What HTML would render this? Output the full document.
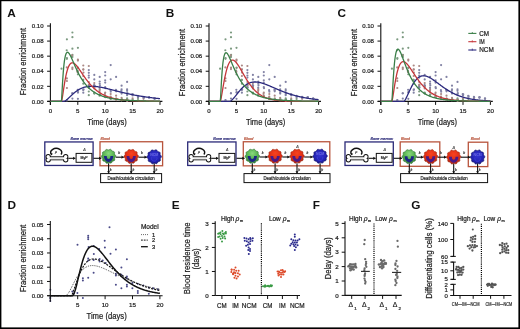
<!DOCTYPE html>
<html><head><meta charset="utf-8"><style>html,body{margin:0;padding:0;background:#fff;}svg{display:block;will-change:transform;}text{font-family:"Liberation Sans",sans-serif;}</style></head><body>
<svg xmlns="http://www.w3.org/2000/svg" width="520" height="329" viewBox="0 0 520 329">
<rect width="520" height="329" fill="#fff"/>
<defs>
<radialGradient id="gG" cx="0.5" cy="0.3" r="0.75"><stop offset="0" stop-color="#8ad87e"/><stop offset="0.55" stop-color="#52b04c"/><stop offset="1" stop-color="#2c7432"/></radialGradient>
<radialGradient id="gR" cx="0.5" cy="0.3" r="0.75"><stop offset="0" stop-color="#f8421e"/><stop offset="0.6" stop-color="#dc2c14"/><stop offset="1" stop-color="#9e2212"/></radialGradient>
<radialGradient id="gB" cx="0.5" cy="0.4" r="0.7"><stop offset="0" stop-color="#3434d4"/><stop offset="0.65" stop-color="#2222b0"/><stop offset="1" stop-color="#12126e"/></radialGradient>
</defs>
<rect x="0" y="0" width="520" height="1.2" fill="#000"/>
<rect x="0" y="0" width="1.4" height="329" fill="#000"/>
<rect x="518.4" y="0" width="1.6" height="329" fill="#000"/>
<rect x="0" y="327.4" width="520" height="1.6" fill="#000"/>
<text x="7.30" y="17.00" font-size="11.8" font-weight="bold" fill="#111">A</text>
<text x="165.80" y="17.00" font-size="11.8" font-weight="bold" fill="#111">B</text>
<text x="337.60" y="17.00" font-size="11.8" font-weight="bold" fill="#111">C</text>
<text x="7.40" y="208.60" font-size="11.8" font-weight="bold" fill="#111">D</text>
<text x="171.80" y="208.70" font-size="11.8" font-weight="bold" fill="#111">E</text>
<text x="312.80" y="208.70" font-size="11.8" font-weight="bold" fill="#111">F</text>
<text x="411.20" y="208.70" font-size="11.8" font-weight="bold" fill="#111">G</text>
<text transform="translate(26.20,61.65) rotate(-90)" x="0" y="0" font-size="8.8" stroke="#1e1e1e" stroke-width="0.22" text-anchor="middle" textLength="67.3" lengthAdjust="spacingAndGlyphs" fill="#1e1e1e">Fraction enrichment</text>
<line x1="47.10" y1="101.40" x2="50.40" y2="101.40" stroke="#111" stroke-width="1.0"/>
<text x="43.60" y="103.60" font-size="6.2" stroke="#1e1e1e" stroke-width="0.22" text-anchor="end" textLength="11.8" lengthAdjust="spacingAndGlyphs" fill="#1e1e1e">0.00</text>
<line x1="47.10" y1="86.32" x2="50.40" y2="86.32" stroke="#111" stroke-width="1.0"/>
<text x="43.60" y="88.52" font-size="6.2" stroke="#1e1e1e" stroke-width="0.22" text-anchor="end" textLength="11.8" lengthAdjust="spacingAndGlyphs" fill="#1e1e1e">0.02</text>
<line x1="47.10" y1="71.24" x2="50.40" y2="71.24" stroke="#111" stroke-width="1.0"/>
<text x="43.60" y="73.44" font-size="6.2" stroke="#1e1e1e" stroke-width="0.22" text-anchor="end" textLength="11.8" lengthAdjust="spacingAndGlyphs" fill="#1e1e1e">0.04</text>
<line x1="47.10" y1="56.16" x2="50.40" y2="56.16" stroke="#111" stroke-width="1.0"/>
<text x="43.60" y="58.36" font-size="6.2" stroke="#1e1e1e" stroke-width="0.22" text-anchor="end" textLength="11.8" lengthAdjust="spacingAndGlyphs" fill="#1e1e1e">0.06</text>
<line x1="47.10" y1="41.08" x2="50.40" y2="41.08" stroke="#111" stroke-width="1.0"/>
<text x="43.60" y="43.28" font-size="6.2" stroke="#1e1e1e" stroke-width="0.22" text-anchor="end" textLength="11.8" lengthAdjust="spacingAndGlyphs" fill="#1e1e1e">0.08</text>
<line x1="47.10" y1="26.00" x2="50.40" y2="26.00" stroke="#111" stroke-width="1.0"/>
<text x="43.60" y="28.20" font-size="6.2" stroke="#1e1e1e" stroke-width="0.22" text-anchor="end" textLength="11.8" lengthAdjust="spacingAndGlyphs" fill="#1e1e1e">0.10</text>
<line x1="50.40" y1="101.40" x2="50.40" y2="104.90" stroke="#111" stroke-width="1.0"/>
<text x="50.40" y="112.80" font-size="6.2" stroke="#1e1e1e" stroke-width="0.22" text-anchor="middle" textLength="3.4" lengthAdjust="spacingAndGlyphs" fill="#1e1e1e">0</text>
<line x1="77.80" y1="101.40" x2="77.80" y2="104.90" stroke="#111" stroke-width="1.0"/>
<text x="77.80" y="112.80" font-size="6.2" stroke="#1e1e1e" stroke-width="0.22" text-anchor="middle" textLength="3.4" lengthAdjust="spacingAndGlyphs" fill="#1e1e1e">5</text>
<line x1="105.20" y1="101.40" x2="105.20" y2="104.90" stroke="#111" stroke-width="1.0"/>
<text x="105.20" y="112.80" font-size="6.2" stroke="#1e1e1e" stroke-width="0.22" text-anchor="middle" textLength="6.9" lengthAdjust="spacingAndGlyphs" fill="#1e1e1e">10</text>
<line x1="132.60" y1="101.40" x2="132.60" y2="104.90" stroke="#111" stroke-width="1.0"/>
<text x="132.60" y="112.80" font-size="6.2" stroke="#1e1e1e" stroke-width="0.22" text-anchor="middle" textLength="6.9" lengthAdjust="spacingAndGlyphs" fill="#1e1e1e">15</text>
<line x1="160.00" y1="101.40" x2="160.00" y2="104.90" stroke="#111" stroke-width="1.0"/>
<text x="160.00" y="112.80" font-size="6.2" stroke="#1e1e1e" stroke-width="0.22" text-anchor="middle" textLength="6.9" lengthAdjust="spacingAndGlyphs" fill="#1e1e1e">20</text>
<text x="107.00" y="125.00" font-size="8.8" stroke="#1e1e1e" stroke-width="0.22" text-anchor="middle" textLength="39.4" lengthAdjust="spacingAndGlyphs" fill="#1e1e1e">Time (days)</text>
<line x1="50.40" y1="23.20" x2="50.40" y2="105.00" stroke="#111" stroke-width="1.1"/>
<line x1="47.30" y1="101.40" x2="162.40" y2="101.40" stroke="#111" stroke-width="1.1"/>
<circle cx="61.50" cy="68.70" r="1.1" fill="#7c9a80"/>
<circle cx="66.90" cy="39.30" r="1.1" fill="#7c9a80"/>
<circle cx="66.90" cy="58.80" r="1.1" fill="#7c9a80"/>
<circle cx="66.90" cy="81.00" r="1.1" fill="#aa8884"/>
<circle cx="66.90" cy="88.00" r="1.1" fill="#aa8884"/>
<circle cx="72.40" cy="32.50" r="1.1" fill="#7c9a80"/>
<circle cx="72.40" cy="37.20" r="1.1" fill="#7c9a80"/>
<circle cx="72.40" cy="48.70" r="1.1" fill="#7c9a80"/>
<circle cx="72.40" cy="67.70" r="1.1" fill="#aa8884"/>
<circle cx="72.40" cy="98.60" r="1.1" fill="#8282a4"/>
<circle cx="72.40" cy="57.00" r="1.1" fill="#7c9a80"/>
<circle cx="77.90" cy="47.80" r="1.1" fill="#7c9a80"/>
<circle cx="77.90" cy="59.60" r="1.1" fill="#aa8884"/>
<circle cx="77.90" cy="60.60" r="1.1" fill="#aa8884"/>
<circle cx="77.90" cy="74.30" r="1.1" fill="#7c9a80"/>
<circle cx="77.90" cy="92.60" r="1.1" fill="#8282a4"/>
<circle cx="77.90" cy="98.80" r="1.1" fill="#8282a4"/>
<circle cx="77.90" cy="68.00" r="1.1" fill="#aa8884"/>
<circle cx="83.30" cy="65.50" r="1.1" fill="#aa8884"/>
<circle cx="83.30" cy="69.60" r="1.1" fill="#aa8884"/>
<circle cx="83.30" cy="83.70" r="1.1" fill="#7c9a80"/>
<circle cx="83.30" cy="92.70" r="1.1" fill="#8282a4"/>
<circle cx="83.30" cy="76.00" r="1.1" fill="#aa8884"/>
<circle cx="88.80" cy="66.00" r="1.1" fill="#aa8884"/>
<circle cx="88.80" cy="70.10" r="1.1" fill="#8282a4"/>
<circle cx="88.80" cy="72.80" r="1.1" fill="#8282a4"/>
<circle cx="88.80" cy="75.50" r="1.1" fill="#8282a4"/>
<circle cx="88.80" cy="77.60" r="1.1" fill="#8282a4"/>
<circle cx="88.80" cy="91.50" r="1.1" fill="#7c9a80"/>
<circle cx="88.80" cy="95.20" r="1.1" fill="#7c9a80"/>
<circle cx="88.80" cy="82.00" r="1.1" fill="#aa8884"/>
<circle cx="94.30" cy="74.90" r="1.1" fill="#8282a4"/>
<circle cx="94.30" cy="79.40" r="1.1" fill="#8282a4"/>
<circle cx="94.30" cy="83.10" r="1.1" fill="#aa8884"/>
<circle cx="94.30" cy="88.50" r="1.1" fill="#aa8884"/>
<circle cx="94.30" cy="92.50" r="1.1" fill="#7c9a80"/>
<circle cx="99.70" cy="76.90" r="1.1" fill="#8282a4"/>
<circle cx="99.70" cy="81.50" r="1.1" fill="#8282a4"/>
<circle cx="99.70" cy="83.70" r="1.1" fill="#8282a4"/>
<circle cx="99.70" cy="89.20" r="1.1" fill="#aa8884"/>
<circle cx="99.70" cy="94.50" r="1.1" fill="#7c9a80"/>
<circle cx="105.20" cy="72.10" r="1.1" fill="#8282a4"/>
<circle cx="105.20" cy="75.50" r="1.1" fill="#8282a4"/>
<circle cx="105.20" cy="80.30" r="1.1" fill="#8282a4"/>
<circle cx="105.20" cy="82.60" r="1.1" fill="#8282a4"/>
<circle cx="105.20" cy="92.50" r="1.1" fill="#aa8884"/>
<circle cx="105.20" cy="96.00" r="1.1" fill="#7c9a80"/>
<circle cx="110.70" cy="65.10" r="1.1" fill="#8282a4"/>
<circle cx="110.70" cy="79.30" r="1.1" fill="#8282a4"/>
<circle cx="110.70" cy="94.00" r="1.1" fill="#aa8884"/>
<circle cx="110.70" cy="97.50" r="1.1" fill="#7c9a80"/>
<circle cx="116.10" cy="76.90" r="1.1" fill="#8282a4"/>
<circle cx="116.10" cy="90.00" r="1.1" fill="#8282a4"/>
<circle cx="116.10" cy="95.70" r="1.1" fill="#aa8884"/>
<circle cx="116.10" cy="98.50" r="1.1" fill="#7c9a80"/>
<circle cx="121.60" cy="85.70" r="1.1" fill="#8282a4"/>
<circle cx="121.60" cy="89.30" r="1.1" fill="#8282a4"/>
<circle cx="121.60" cy="93.60" r="1.1" fill="#8282a4"/>
<circle cx="121.60" cy="97.90" r="1.1" fill="#aa8884"/>
<circle cx="127.10" cy="81.90" r="1.1" fill="#8282a4"/>
<circle cx="127.10" cy="89.30" r="1.1" fill="#8282a4"/>
<circle cx="127.10" cy="90.80" r="1.1" fill="#8282a4"/>
<circle cx="127.10" cy="95.20" r="1.1" fill="#8282a4"/>
<circle cx="127.10" cy="98.30" r="1.1" fill="#7c9a80"/>
<circle cx="132.60" cy="95.40" r="1.1" fill="#8282a4"/>
<circle cx="132.60" cy="98.40" r="1.1" fill="#aa8884"/>
<circle cx="138.00" cy="97.60" r="1.1" fill="#8282a4"/>
<circle cx="138.00" cy="99.00" r="1.1" fill="#7c9a80"/>
<circle cx="143.50" cy="96.90" r="1.1" fill="#8282a4"/>
<circle cx="143.50" cy="98.80" r="1.1" fill="#aa8884"/>
<circle cx="149.00" cy="97.70" r="1.1" fill="#8282a4"/>
<circle cx="154.50" cy="98.60" r="1.1" fill="#8282a4"/>
<circle cx="66.71" cy="50.27" r="1.1" fill="#7c9a80"/>
<circle cx="66.95" cy="58.09" r="1.1" fill="#7c9a80"/>
<circle cx="66.79" cy="67.43" r="1.1" fill="#aa8884"/>
<circle cx="66.84" cy="78.43" r="1.1" fill="#aa8884"/>
<circle cx="66.93" cy="100.51" r="1.1" fill="#8282a4"/>
<circle cx="66.89" cy="100.07" r="1.1" fill="#8282a4"/>
<circle cx="72.50" cy="54.93" r="1.1" fill="#7c9a80"/>
<circle cx="72.11" cy="56.44" r="1.1" fill="#7c9a80"/>
<circle cx="72.08" cy="55.32" r="1.1" fill="#aa8884"/>
<circle cx="72.38" cy="69.11" r="1.1" fill="#aa8884"/>
<circle cx="72.34" cy="93.27" r="1.1" fill="#8282a4"/>
<circle cx="72.35" cy="93.33" r="1.1" fill="#8282a4"/>
<circle cx="78.02" cy="67.55" r="1.1" fill="#7c9a80"/>
<circle cx="77.53" cy="70.68" r="1.1" fill="#7c9a80"/>
<circle cx="77.55" cy="71.71" r="1.1" fill="#aa8884"/>
<circle cx="77.67" cy="71.94" r="1.1" fill="#aa8884"/>
<circle cx="77.72" cy="89.80" r="1.1" fill="#8282a4"/>
<circle cx="78.06" cy="92.05" r="1.1" fill="#8282a4"/>
<circle cx="83.08" cy="79.93" r="1.1" fill="#7c9a80"/>
<circle cx="83.21" cy="79.93" r="1.1" fill="#7c9a80"/>
<circle cx="83.31" cy="69.36" r="1.1" fill="#aa8884"/>
<circle cx="83.45" cy="72.55" r="1.1" fill="#aa8884"/>
<circle cx="83.17" cy="89.98" r="1.1" fill="#8282a4"/>
<circle cx="83.55" cy="89.46" r="1.1" fill="#8282a4"/>
<circle cx="88.85" cy="85.94" r="1.1" fill="#7c9a80"/>
<circle cx="88.74" cy="87.84" r="1.1" fill="#7c9a80"/>
<circle cx="88.80" cy="85.00" r="1.1" fill="#aa8884"/>
<circle cx="89.00" cy="84.48" r="1.1" fill="#aa8884"/>
<circle cx="89.06" cy="87.53" r="1.1" fill="#8282a4"/>
<circle cx="88.49" cy="87.01" r="1.1" fill="#8282a4"/>
<circle cx="94.42" cy="93.58" r="1.1" fill="#7c9a80"/>
<circle cx="94.17" cy="93.22" r="1.1" fill="#7c9a80"/>
<circle cx="94.52" cy="85.62" r="1.1" fill="#aa8884"/>
<circle cx="94.37" cy="87.22" r="1.1" fill="#aa8884"/>
<circle cx="94.10" cy="85.10" r="1.1" fill="#8282a4"/>
<circle cx="94.20" cy="86.05" r="1.1" fill="#8282a4"/>
<circle cx="99.95" cy="94.49" r="1.1" fill="#7c9a80"/>
<circle cx="99.53" cy="95.75" r="1.1" fill="#7c9a80"/>
<circle cx="99.60" cy="90.54" r="1.1" fill="#aa8884"/>
<circle cx="99.51" cy="92.00" r="1.1" fill="#aa8884"/>
<circle cx="99.89" cy="85.32" r="1.1" fill="#8282a4"/>
<circle cx="99.61" cy="87.65" r="1.1" fill="#8282a4"/>
<circle cx="105.43" cy="97.27" r="1.1" fill="#7c9a80"/>
<circle cx="104.93" cy="96.70" r="1.1" fill="#7c9a80"/>
<circle cx="104.95" cy="93.97" r="1.1" fill="#aa8884"/>
<circle cx="105.36" cy="96.36" r="1.1" fill="#aa8884"/>
<circle cx="105.19" cy="87.20" r="1.1" fill="#8282a4"/>
<circle cx="105.42" cy="88.24" r="1.1" fill="#8282a4"/>
<circle cx="110.70" cy="98.90" r="1.1" fill="#7c9a80"/>
<circle cx="110.57" cy="98.51" r="1.1" fill="#7c9a80"/>
<circle cx="110.64" cy="96.55" r="1.1" fill="#aa8884"/>
<circle cx="110.51" cy="98.19" r="1.1" fill="#aa8884"/>
<circle cx="110.52" cy="90.19" r="1.1" fill="#8282a4"/>
<circle cx="110.76" cy="91.64" r="1.1" fill="#8282a4"/>
<circle cx="116.38" cy="98.85" r="1.1" fill="#7c9a80"/>
<circle cx="116.26" cy="100.06" r="1.1" fill="#7c9a80"/>
<circle cx="116.42" cy="99.83" r="1.1" fill="#aa8884"/>
<circle cx="116.33" cy="98.90" r="1.1" fill="#aa8884"/>
<circle cx="115.92" cy="89.95" r="1.1" fill="#8282a4"/>
<circle cx="116.14" cy="91.32" r="1.1" fill="#8282a4"/>
<circle cx="121.93" cy="99.42" r="1.1" fill="#7c9a80"/>
<circle cx="121.54" cy="100.29" r="1.1" fill="#7c9a80"/>
<circle cx="121.45" cy="99.94" r="1.1" fill="#aa8884"/>
<circle cx="121.51" cy="99.96" r="1.1" fill="#aa8884"/>
<circle cx="121.61" cy="92.58" r="1.1" fill="#8282a4"/>
<circle cx="121.37" cy="90.71" r="1.1" fill="#8282a4"/>
<circle cx="127.40" cy="99.51" r="1.1" fill="#7c9a80"/>
<circle cx="126.92" cy="99.52" r="1.1" fill="#7c9a80"/>
<circle cx="127.06" cy="100.82" r="1.1" fill="#aa8884"/>
<circle cx="127.41" cy="100.76" r="1.1" fill="#aa8884"/>
<circle cx="127.09" cy="93.89" r="1.1" fill="#8282a4"/>
<circle cx="127.42" cy="93.06" r="1.1" fill="#8282a4"/>
<circle cx="132.39" cy="100.22" r="1.1" fill="#7c9a80"/>
<circle cx="132.65" cy="99.92" r="1.1" fill="#7c9a80"/>
<circle cx="132.33" cy="94.17" r="1.1" fill="#8282a4"/>
<circle cx="132.81" cy="94.44" r="1.1" fill="#8282a4"/>
<circle cx="137.83" cy="95.84" r="1.1" fill="#8282a4"/>
<circle cx="138.19" cy="96.36" r="1.1" fill="#8282a4"/>
<circle cx="143.79" cy="97.79" r="1.1" fill="#8282a4"/>
<circle cx="143.63" cy="97.01" r="1.1" fill="#8282a4"/>
<circle cx="149.05" cy="97.42" r="1.1" fill="#8282a4"/>
<circle cx="149.17" cy="97.12" r="1.1" fill="#8282a4"/>
<circle cx="154.62" cy="98.62" r="1.1" fill="#8282a4"/>
<circle cx="154.67" cy="98.66" r="1.1" fill="#8282a4"/>
<path d="M50.40,101.40 L50.80,101.40 L51.20,101.40 L51.60,101.40 L52.00,101.40 L52.40,101.40 L52.80,101.40 L53.20,101.40 L53.60,101.40 L54.00,101.40 L54.40,101.40 L54.80,101.40 L55.20,101.40 L55.60,101.40 L56.00,101.40 L56.40,101.40 L56.80,101.40 L57.20,101.40 L57.60,101.40 L58.00,101.40 L58.40,101.40 L58.80,101.40 L59.20,101.40 L59.60,101.40 L60.00,101.40 L60.40,101.40 L60.80,101.40 L61.20,101.40 L61.60,101.40 L62.00,101.40 L62.40,101.40 L62.80,101.40 L63.20,101.40 L63.60,101.40 L64.00,101.34 L64.40,101.22 L64.80,101.05 L65.20,100.84 L65.60,100.59 L66.00,100.31 L66.40,100.01 L66.80,99.69 L67.20,99.36 L67.60,99.01 L68.00,98.65 L68.40,98.28 L68.80,97.90 L69.20,97.52 L69.60,97.14 L70.00,96.75 L70.40,96.37 L70.80,95.99 L71.20,95.61 L71.60,95.23 L72.00,94.86 L72.40,94.49 L72.80,94.13 L73.20,93.77 L73.60,93.42 L74.00,93.08 L74.40,92.75 L74.80,92.42 L75.20,92.10 L75.60,91.79 L76.00,91.49 L76.40,91.20 L76.80,90.92 L77.20,90.64 L77.60,90.38 L78.00,90.12 L78.40,89.88 L78.80,89.64 L79.20,89.41 L79.60,89.19 L80.00,88.98 L80.40,88.78 L80.80,88.59 L81.20,88.41 L81.60,88.23 L82.00,88.06 L82.40,87.91 L82.80,87.76 L83.20,87.62 L83.60,87.48 L84.00,87.36 L84.40,87.24 L84.80,87.13 L85.20,87.03 L85.60,86.93 L86.00,86.84 L86.40,86.76 L86.80,86.69 L87.20,86.62 L87.60,86.56 L88.00,86.51 L88.40,86.46 L88.80,86.42 L89.20,86.38 L89.60,86.35 L90.00,86.32 L90.40,86.31 L90.80,86.29 L91.20,86.28 L91.60,86.28 L92.00,86.28 L92.40,86.28 L92.80,86.29 L93.20,86.31 L93.60,86.33 L94.00,86.35 L94.40,86.37 L94.80,86.40 L95.20,86.44 L95.60,86.48 L96.00,86.52 L96.40,86.56 L96.80,86.61 L97.20,86.66 L97.60,86.71 L98.00,86.77 L98.40,86.83 L98.80,86.89 L99.20,86.95 L99.60,87.02 L100.00,87.09 L100.40,87.16 L100.80,87.23 L101.20,87.31 L101.60,87.39 L102.00,87.47 L102.40,87.55 L102.80,87.63 L103.20,87.71 L103.60,87.80 L104.00,87.89 L104.40,87.97 L104.80,88.06 L105.20,88.16 L105.60,88.25 L106.00,88.34 L106.40,88.43 L106.80,88.53 L107.20,88.62 L107.60,88.72 L108.00,88.82 L108.40,88.92 L108.80,89.01 L109.20,89.11 L109.60,89.21 L110.00,89.31 L110.40,89.41 L110.80,89.51 L111.20,89.62 L111.60,89.72 L112.00,89.82 L112.40,89.92 L112.80,90.02 L113.20,90.12 L113.60,90.23 L114.00,90.33 L114.40,90.43 L114.80,90.53 L115.20,90.64 L115.60,90.74 L116.00,90.84 L116.40,90.94 L116.80,91.04 L117.20,91.14 L117.60,91.25 L118.00,91.35 L118.40,91.45 L118.80,91.55 L119.20,91.65 L119.60,91.75 L120.00,91.84 L120.40,91.94 L120.80,92.04 L121.20,92.14 L121.60,92.24 L122.00,92.33 L122.40,92.43 L122.80,92.53 L123.20,92.62 L123.60,92.72 L124.00,92.81 L124.40,92.90 L124.80,93.00 L125.20,93.09 L125.60,93.18 L126.00,93.27 L126.40,93.36 L126.80,93.45 L127.20,93.54 L127.60,93.63 L128.00,93.72 L128.40,93.81 L128.80,93.90 L129.20,93.98 L129.60,94.07 L130.00,94.15 L130.40,94.24 L130.80,94.32 L131.20,94.40 L131.60,94.49 L132.00,94.57 L132.40,94.65 L132.80,94.73 L133.20,94.81 L133.60,94.89 L134.00,94.97 L134.40,95.04 L134.80,95.12 L135.20,95.20 L135.60,95.27 L136.00,95.35 L136.40,95.42 L136.80,95.49 L137.20,95.57 L137.60,95.64 L138.00,95.71 L138.40,95.78 L138.80,95.85 L139.20,95.92 L139.60,95.99 L140.00,96.05 L140.40,96.12 L140.80,96.19 L141.20,96.25 L141.60,96.32 L142.00,96.38 L142.40,96.45 L142.80,96.51 L143.20,96.57 L143.60,96.63 L144.00,96.69 L144.40,96.75 L144.80,96.81 L145.20,96.87 L145.60,96.93 L146.00,96.99 L146.40,97.05 L146.80,97.10 L147.20,97.16 L147.60,97.21 L148.00,97.27 L148.40,97.32 L148.80,97.38 L149.20,97.43 L149.60,97.48 L150.00,97.53 L150.40,97.58 L150.80,97.63 L151.20,97.68 L151.60,97.73 L152.00,97.78 L152.40,97.83 L152.80,97.88 L153.20,97.92 L153.60,97.97 L154.00,98.02 L154.40,98.06 L154.80,98.11 L155.20,98.15 L155.60,98.19 L156.00,98.24 L156.40,98.28 L156.80,98.32 L157.20,98.36 L157.60,98.40 L158.00,98.45 L158.40,98.49 L158.80,98.53 L159.20,98.56 L159.60,98.60 L160.00,98.64" fill="none" stroke="#2c2a7e" stroke-width="1.3" stroke-linejoin="round"/>
<path d="M50.40,101.40 L50.80,101.40 L51.20,101.40 L51.60,101.40 L52.00,101.40 L52.40,101.40 L52.80,101.40 L53.20,101.40 L53.60,101.40 L54.00,101.40 L54.40,101.40 L54.80,101.40 L55.20,101.40 L55.60,101.40 L56.00,101.40 L56.40,101.40 L56.80,101.40 L57.20,101.40 L57.60,101.40 L58.00,101.40 L58.40,101.40 L58.80,101.40 L59.20,101.40 L59.60,101.40 L60.00,101.40 L60.40,101.40 L60.80,101.40 L61.20,101.40 L61.60,101.04 L62.00,99.37 L62.40,97.11 L62.80,94.57 L63.20,91.92 L63.60,89.25 L64.00,86.64 L64.40,84.12 L64.80,81.72 L65.20,79.47 L65.60,77.37 L66.00,75.43 L66.40,73.64 L66.80,72.02 L67.20,70.55 L67.60,69.23 L68.00,68.06 L68.40,67.02 L68.80,66.12 L69.20,65.34 L69.60,64.68 L70.00,64.14 L70.40,63.70 L70.80,63.35 L71.20,63.10 L71.60,62.93 L72.00,62.84 L72.40,62.83 L72.80,62.88 L73.20,62.99 L73.60,63.16 L74.00,63.38 L74.40,63.65 L74.80,63.96 L75.20,64.31 L75.60,64.69 L76.00,65.11 L76.40,65.55 L76.80,66.02 L77.20,66.52 L77.60,67.03 L78.00,67.56 L78.40,68.10 L78.80,68.66 L79.20,69.22 L79.60,69.80 L80.00,70.38 L80.40,70.97 L80.80,71.56 L81.20,72.15 L81.60,72.74 L82.00,73.34 L82.40,73.93 L82.80,74.52 L83.20,75.11 L83.60,75.69 L84.00,76.27 L84.40,76.85 L84.80,77.42 L85.20,77.98 L85.60,78.54 L86.00,79.09 L86.40,79.63 L86.80,80.16 L87.20,80.69 L87.60,81.20 L88.00,81.71 L88.40,82.21 L88.80,82.71 L89.20,83.19 L89.60,83.66 L90.00,84.13 L90.40,84.58 L90.80,85.03 L91.20,85.46 L91.60,85.89 L92.00,86.31 L92.40,86.72 L92.80,87.12 L93.20,87.51 L93.60,87.89 L94.00,88.27 L94.40,88.63 L94.80,88.99 L95.20,89.34 L95.60,89.68 L96.00,90.01 L96.40,90.33 L96.80,90.64 L97.20,90.95 L97.60,91.25 L98.00,91.54 L98.40,91.83 L98.80,92.10 L99.20,92.37 L99.60,92.63 L100.00,92.89 L100.40,93.14 L100.80,93.38 L101.20,93.61 L101.60,93.84 L102.00,94.07 L102.40,94.28 L102.80,94.49 L103.20,94.70 L103.60,94.90 L104.00,95.09 L104.40,95.28 L104.80,95.46 L105.20,95.64 L105.60,95.81 L106.00,95.98 L106.40,96.14 L106.80,96.30 L107.20,96.45 L107.60,96.60 L108.00,96.75 L108.40,96.89 L108.80,97.03 L109.20,97.16 L109.60,97.29 L110.00,97.41 L110.40,97.53 L110.80,97.65 L111.20,97.77 L111.60,97.88 L112.00,97.98 L112.40,98.09 L112.80,98.19 L113.20,98.29 L113.60,98.38 L114.00,98.48 L114.40,98.57 L114.80,98.65 L115.20,98.74 L115.60,98.82 L116.00,98.90 L116.40,98.98 L116.80,99.05 L117.20,99.12 L117.60,99.19 L118.00,99.26 L118.40,99.33 L118.80,99.39 L119.20,99.46 L119.60,99.52 L120.00,99.57 L120.40,99.63 L120.80,99.69 L121.20,99.74 L121.60,99.79 L122.00,99.84 L122.40,99.89 L122.80,99.94 L123.20,99.98 L123.60,100.03 L124.00,100.07 L124.40,100.11 L124.80,100.15 L125.20,100.19 L125.60,100.23 L126.00,100.26 L126.40,100.30 L126.80,100.33 L127.20,100.37 L127.60,100.40 L128.00,100.43 L128.40,100.46 L128.80,100.49 L129.20,100.52 L129.60,100.55 L130.00,100.57 L130.40,100.60 L130.80,100.62 L131.20,100.65 L131.60,100.67 L132.00,100.69 L132.40,100.72 L132.80,100.74 L133.20,100.76 L133.60,100.78 L134.00,100.80 L134.40,100.82 L134.80,100.83 L135.20,100.85 L135.60,100.87 L136.00,100.89 L136.40,100.90 L136.80,100.92 L137.20,100.93 L137.60,100.95 L138.00,100.96 L138.40,100.98 L138.80,100.99 L139.20,101.00 L139.60,101.01 L140.00,101.03 L140.40,101.04 L140.80,101.05 L141.20,101.06 L141.60,101.07 L142.00,101.08 L142.40,101.09 L142.80,101.10 L143.20,101.11 L143.60,101.12 L144.00,101.13 L144.40,101.14 L144.80,101.14 L145.20,101.15 L145.60,101.16 L146.00,101.17 L146.40,101.18 L146.80,101.18 L147.20,101.19 L147.60,101.20 L148.00,101.20 L148.40,101.21 L148.80,101.21 L149.20,101.22 L149.60,101.23 L150.00,101.23 L150.40,101.24 L150.80,101.24 L151.20,101.25 L151.60,101.25 L152.00,101.26 L152.40,101.26 L152.80,101.26 L153.20,101.27 L153.60,101.27 L154.00,101.28 L154.40,101.28 L154.80,101.28 L155.20,101.29 L155.60,101.29 L156.00,101.29 L156.40,101.30 L156.80,101.30 L157.20,101.30 L157.60,101.31 L158.00,101.31 L158.40,101.31 L158.80,101.32 L159.20,101.32 L159.60,101.32 L160.00,101.32" fill="none" stroke="#c4363a" stroke-width="1.3" stroke-linejoin="round"/>
<path d="M50.40,101.40 L50.80,101.40 L51.20,101.40 L51.60,101.40 L52.00,101.40 L52.40,101.40 L52.80,101.40 L53.20,101.40 L53.60,101.40 L54.00,101.40 L54.40,101.40 L54.80,101.40 L55.20,101.40 L55.60,101.40 L56.00,101.40 L56.40,101.40 L56.80,101.40 L57.20,101.40 L57.60,101.40 L58.00,101.40 L58.40,101.40 L58.80,101.40 L59.20,101.40 L59.60,101.40 L60.00,101.40 L60.40,101.40 L60.80,101.40 L61.20,101.40 L61.60,99.52 L62.00,92.60 L62.40,85.34 L62.80,78.77 L63.20,73.10 L63.60,68.33 L64.00,64.39 L64.40,61.17 L64.80,58.60 L65.20,56.57 L65.60,55.01 L66.00,53.86 L66.40,53.06 L66.80,52.55 L67.20,52.29 L67.60,52.25 L68.00,52.39 L68.40,52.68 L68.80,53.10 L69.20,53.62 L69.60,54.24 L70.00,54.93 L70.40,55.68 L70.80,56.48 L71.20,57.32 L71.60,58.19 L72.00,59.08 L72.40,59.99 L72.80,60.91 L73.20,61.84 L73.60,62.76 L74.00,63.69 L74.40,64.61 L74.80,65.53 L75.20,66.44 L75.60,67.33 L76.00,68.21 L76.40,69.08 L76.80,69.94 L77.20,70.78 L77.60,71.60 L78.00,72.40 L78.40,73.19 L78.80,73.96 L79.20,74.72 L79.60,75.45 L80.00,76.17 L80.40,76.87 L80.80,77.56 L81.20,78.22 L81.60,78.87 L82.00,79.50 L82.40,80.12 L82.80,80.72 L83.20,81.30 L83.60,81.86 L84.00,82.41 L84.40,82.95 L84.80,83.47 L85.20,83.97 L85.60,84.46 L86.00,84.94 L86.40,85.40 L86.80,85.85 L87.20,86.29 L87.60,86.72 L88.00,87.13 L88.40,87.53 L88.80,87.92 L89.20,88.30 L89.60,88.66 L90.00,89.02 L90.40,89.36 L90.80,89.70 L91.20,90.02 L91.60,90.34 L92.00,90.65 L92.40,90.94 L92.80,91.23 L93.20,91.51 L93.60,91.79 L94.00,92.05 L94.40,92.31 L94.80,92.56 L95.20,92.80 L95.60,93.03 L96.00,93.26 L96.40,93.48 L96.80,93.70 L97.20,93.91 L97.60,94.11 L98.00,94.31 L98.40,94.50 L98.80,94.69 L99.20,94.87 L99.60,95.04 L100.00,95.21 L100.40,95.38 L100.80,95.54 L101.20,95.69 L101.60,95.84 L102.00,95.99 L102.40,96.13 L102.80,96.27 L103.20,96.41 L103.60,96.54 L104.00,96.67 L104.40,96.79 L104.80,96.91 L105.20,97.03 L105.60,97.14 L106.00,97.25 L106.40,97.36 L106.80,97.47 L107.20,97.57 L107.60,97.67 L108.00,97.76 L108.40,97.86 L108.80,97.95 L109.20,98.03 L109.60,98.12 L110.00,98.20 L110.40,98.28 L110.80,98.36 L111.20,98.44 L111.60,98.52 L112.00,98.59 L112.40,98.66 L112.80,98.73 L113.20,98.79 L113.60,98.86 L114.00,98.92 L114.40,98.98 L114.80,99.04 L115.20,99.10 L115.60,99.16 L116.00,99.22 L116.40,99.27 L116.80,99.32 L117.20,99.37 L117.60,99.42 L118.00,99.47 L118.40,99.52 L118.80,99.56 L119.20,99.61 L119.60,99.65 L120.00,99.69 L120.40,99.74 L120.80,99.78 L121.20,99.81 L121.60,99.85 L122.00,99.89 L122.40,99.93 L122.80,99.96 L123.20,100.00 L123.60,100.03 L124.00,100.06 L124.40,100.09 L124.80,100.12 L125.20,100.15 L125.60,100.18 L126.00,100.21 L126.40,100.24 L126.80,100.27 L127.20,100.29 L127.60,100.32 L128.00,100.35 L128.40,100.37 L128.80,100.39 L129.20,100.42 L129.60,100.44 L130.00,100.46 L130.40,100.48 L130.80,100.51 L131.20,100.53 L131.60,100.55 L132.00,100.57 L132.40,100.58 L132.80,100.60 L133.20,100.62 L133.60,100.64 L134.00,100.66 L134.40,100.67 L134.80,100.69 L135.20,100.71 L135.60,100.72 L136.00,100.74 L136.40,100.75 L136.80,100.77 L137.20,100.78 L137.60,100.79 L138.00,100.81 L138.40,100.82 L138.80,100.83 L139.20,100.85 L139.60,100.86 L140.00,100.87 L140.40,100.88 L140.80,100.89 L141.20,100.91 L141.60,100.92 L142.00,100.93 L142.40,100.94 L142.80,100.95 L143.20,100.96 L143.60,100.97 L144.00,100.98 L144.40,100.99 L144.80,100.99 L145.20,101.00 L145.60,101.01 L146.00,101.02 L146.40,101.03 L146.80,101.04 L147.20,101.04 L147.60,101.05 L148.00,101.06 L148.40,101.07 L148.80,101.07 L149.20,101.08 L149.60,101.09 L150.00,101.09 L150.40,101.10 L150.80,101.11 L151.20,101.11 L151.60,101.12 L152.00,101.13 L152.40,101.13 L152.80,101.14 L153.20,101.14 L153.60,101.15 L154.00,101.15 L154.40,101.16 L154.80,101.16 L155.20,101.17 L155.60,101.17 L156.00,101.18 L156.40,101.18 L156.80,101.19 L157.20,101.19 L157.60,101.20 L158.00,101.20 L158.40,101.20 L158.80,101.21 L159.20,101.21 L159.60,101.22 L160.00,101.22" fill="none" stroke="#3a7f48" stroke-width="1.3" stroke-linejoin="round"/>
<text transform="translate(184.80,62.60) rotate(-90)" x="0" y="0" font-size="8.8" stroke="#1e1e1e" stroke-width="0.22" text-anchor="middle" textLength="67.3" lengthAdjust="spacingAndGlyphs" fill="#1e1e1e">Fraction enrichment</text>
<line x1="205.70" y1="101.40" x2="209.00" y2="101.40" stroke="#111" stroke-width="1.0"/>
<text x="202.20" y="103.60" font-size="6.2" stroke="#1e1e1e" stroke-width="0.22" text-anchor="end" textLength="11.8" lengthAdjust="spacingAndGlyphs" fill="#1e1e1e">0.00</text>
<line x1="205.70" y1="86.32" x2="209.00" y2="86.32" stroke="#111" stroke-width="1.0"/>
<text x="202.20" y="88.52" font-size="6.2" stroke="#1e1e1e" stroke-width="0.22" text-anchor="end" textLength="11.8" lengthAdjust="spacingAndGlyphs" fill="#1e1e1e">0.02</text>
<line x1="205.70" y1="71.24" x2="209.00" y2="71.24" stroke="#111" stroke-width="1.0"/>
<text x="202.20" y="73.44" font-size="6.2" stroke="#1e1e1e" stroke-width="0.22" text-anchor="end" textLength="11.8" lengthAdjust="spacingAndGlyphs" fill="#1e1e1e">0.04</text>
<line x1="205.70" y1="56.16" x2="209.00" y2="56.16" stroke="#111" stroke-width="1.0"/>
<text x="202.20" y="58.36" font-size="6.2" stroke="#1e1e1e" stroke-width="0.22" text-anchor="end" textLength="11.8" lengthAdjust="spacingAndGlyphs" fill="#1e1e1e">0.06</text>
<line x1="205.70" y1="41.08" x2="209.00" y2="41.08" stroke="#111" stroke-width="1.0"/>
<text x="202.20" y="43.28" font-size="6.2" stroke="#1e1e1e" stroke-width="0.22" text-anchor="end" textLength="11.8" lengthAdjust="spacingAndGlyphs" fill="#1e1e1e">0.08</text>
<line x1="205.70" y1="26.00" x2="209.00" y2="26.00" stroke="#111" stroke-width="1.0"/>
<text x="202.20" y="28.20" font-size="6.2" stroke="#1e1e1e" stroke-width="0.22" text-anchor="end" textLength="11.8" lengthAdjust="spacingAndGlyphs" fill="#1e1e1e">0.10</text>
<line x1="209.00" y1="101.40" x2="209.00" y2="104.90" stroke="#111" stroke-width="1.0"/>
<text x="209.00" y="112.80" font-size="6.2" stroke="#1e1e1e" stroke-width="0.22" text-anchor="middle" textLength="3.4" lengthAdjust="spacingAndGlyphs" fill="#1e1e1e">0</text>
<line x1="236.40" y1="101.40" x2="236.40" y2="104.90" stroke="#111" stroke-width="1.0"/>
<text x="236.40" y="112.80" font-size="6.2" stroke="#1e1e1e" stroke-width="0.22" text-anchor="middle" textLength="3.4" lengthAdjust="spacingAndGlyphs" fill="#1e1e1e">5</text>
<line x1="263.80" y1="101.40" x2="263.80" y2="104.90" stroke="#111" stroke-width="1.0"/>
<text x="263.80" y="112.80" font-size="6.2" stroke="#1e1e1e" stroke-width="0.22" text-anchor="middle" textLength="6.9" lengthAdjust="spacingAndGlyphs" fill="#1e1e1e">10</text>
<line x1="291.20" y1="101.40" x2="291.20" y2="104.90" stroke="#111" stroke-width="1.0"/>
<text x="291.20" y="112.80" font-size="6.2" stroke="#1e1e1e" stroke-width="0.22" text-anchor="middle" textLength="6.9" lengthAdjust="spacingAndGlyphs" fill="#1e1e1e">15</text>
<line x1="318.60" y1="101.40" x2="318.60" y2="104.90" stroke="#111" stroke-width="1.0"/>
<text x="318.60" y="112.80" font-size="6.2" stroke="#1e1e1e" stroke-width="0.22" text-anchor="middle" textLength="6.9" lengthAdjust="spacingAndGlyphs" fill="#1e1e1e">20</text>
<text x="265.60" y="125.00" font-size="8.8" stroke="#1e1e1e" stroke-width="0.22" text-anchor="middle" textLength="39.4" lengthAdjust="spacingAndGlyphs" fill="#1e1e1e">Time (days)</text>
<line x1="209.00" y1="23.20" x2="209.00" y2="105.00" stroke="#111" stroke-width="1.1"/>
<line x1="205.90" y1="101.40" x2="321.00" y2="101.40" stroke="#111" stroke-width="1.1"/>
<circle cx="220.10" cy="68.70" r="1.1" fill="#7c9a80"/>
<circle cx="225.50" cy="39.30" r="1.1" fill="#7c9a80"/>
<circle cx="225.50" cy="58.80" r="1.1" fill="#7c9a80"/>
<circle cx="225.50" cy="81.00" r="1.1" fill="#aa8884"/>
<circle cx="225.50" cy="88.00" r="1.1" fill="#aa8884"/>
<circle cx="231.00" cy="32.50" r="1.1" fill="#7c9a80"/>
<circle cx="231.00" cy="37.20" r="1.1" fill="#7c9a80"/>
<circle cx="231.00" cy="48.70" r="1.1" fill="#7c9a80"/>
<circle cx="231.00" cy="67.70" r="1.1" fill="#aa8884"/>
<circle cx="231.00" cy="98.60" r="1.1" fill="#8282a4"/>
<circle cx="231.00" cy="57.00" r="1.1" fill="#7c9a80"/>
<circle cx="236.50" cy="47.80" r="1.1" fill="#7c9a80"/>
<circle cx="236.50" cy="59.60" r="1.1" fill="#aa8884"/>
<circle cx="236.50" cy="60.60" r="1.1" fill="#aa8884"/>
<circle cx="236.50" cy="74.30" r="1.1" fill="#7c9a80"/>
<circle cx="236.50" cy="92.60" r="1.1" fill="#8282a4"/>
<circle cx="236.50" cy="98.80" r="1.1" fill="#8282a4"/>
<circle cx="236.50" cy="68.00" r="1.1" fill="#aa8884"/>
<circle cx="241.90" cy="65.50" r="1.1" fill="#aa8884"/>
<circle cx="241.90" cy="69.60" r="1.1" fill="#aa8884"/>
<circle cx="241.90" cy="83.70" r="1.1" fill="#7c9a80"/>
<circle cx="241.90" cy="92.70" r="1.1" fill="#8282a4"/>
<circle cx="241.90" cy="76.00" r="1.1" fill="#aa8884"/>
<circle cx="247.40" cy="66.00" r="1.1" fill="#aa8884"/>
<circle cx="247.40" cy="70.10" r="1.1" fill="#8282a4"/>
<circle cx="247.40" cy="72.80" r="1.1" fill="#8282a4"/>
<circle cx="247.40" cy="75.50" r="1.1" fill="#8282a4"/>
<circle cx="247.40" cy="77.60" r="1.1" fill="#8282a4"/>
<circle cx="247.40" cy="91.50" r="1.1" fill="#7c9a80"/>
<circle cx="247.40" cy="95.20" r="1.1" fill="#7c9a80"/>
<circle cx="247.40" cy="82.00" r="1.1" fill="#aa8884"/>
<circle cx="252.90" cy="74.90" r="1.1" fill="#8282a4"/>
<circle cx="252.90" cy="79.40" r="1.1" fill="#8282a4"/>
<circle cx="252.90" cy="83.10" r="1.1" fill="#aa8884"/>
<circle cx="252.90" cy="88.50" r="1.1" fill="#aa8884"/>
<circle cx="252.90" cy="92.50" r="1.1" fill="#7c9a80"/>
<circle cx="258.30" cy="76.90" r="1.1" fill="#8282a4"/>
<circle cx="258.30" cy="81.50" r="1.1" fill="#8282a4"/>
<circle cx="258.30" cy="83.70" r="1.1" fill="#8282a4"/>
<circle cx="258.30" cy="89.20" r="1.1" fill="#aa8884"/>
<circle cx="258.30" cy="94.50" r="1.1" fill="#7c9a80"/>
<circle cx="263.80" cy="72.10" r="1.1" fill="#8282a4"/>
<circle cx="263.80" cy="75.50" r="1.1" fill="#8282a4"/>
<circle cx="263.80" cy="80.30" r="1.1" fill="#8282a4"/>
<circle cx="263.80" cy="82.60" r="1.1" fill="#8282a4"/>
<circle cx="263.80" cy="92.50" r="1.1" fill="#aa8884"/>
<circle cx="263.80" cy="96.00" r="1.1" fill="#7c9a80"/>
<circle cx="269.30" cy="65.10" r="1.1" fill="#8282a4"/>
<circle cx="269.30" cy="79.30" r="1.1" fill="#8282a4"/>
<circle cx="269.30" cy="94.00" r="1.1" fill="#aa8884"/>
<circle cx="269.30" cy="97.50" r="1.1" fill="#7c9a80"/>
<circle cx="274.70" cy="76.90" r="1.1" fill="#8282a4"/>
<circle cx="274.70" cy="90.00" r="1.1" fill="#8282a4"/>
<circle cx="274.70" cy="95.70" r="1.1" fill="#aa8884"/>
<circle cx="274.70" cy="98.50" r="1.1" fill="#7c9a80"/>
<circle cx="280.20" cy="85.70" r="1.1" fill="#8282a4"/>
<circle cx="280.20" cy="89.30" r="1.1" fill="#8282a4"/>
<circle cx="280.20" cy="93.60" r="1.1" fill="#8282a4"/>
<circle cx="280.20" cy="97.90" r="1.1" fill="#aa8884"/>
<circle cx="285.70" cy="81.90" r="1.1" fill="#8282a4"/>
<circle cx="285.70" cy="89.30" r="1.1" fill="#8282a4"/>
<circle cx="285.70" cy="90.80" r="1.1" fill="#8282a4"/>
<circle cx="285.70" cy="95.20" r="1.1" fill="#8282a4"/>
<circle cx="285.70" cy="98.30" r="1.1" fill="#7c9a80"/>
<circle cx="291.20" cy="95.40" r="1.1" fill="#8282a4"/>
<circle cx="291.20" cy="98.40" r="1.1" fill="#aa8884"/>
<circle cx="296.60" cy="97.60" r="1.1" fill="#8282a4"/>
<circle cx="296.60" cy="99.00" r="1.1" fill="#7c9a80"/>
<circle cx="302.10" cy="96.90" r="1.1" fill="#8282a4"/>
<circle cx="302.10" cy="98.80" r="1.1" fill="#aa8884"/>
<circle cx="307.60" cy="97.70" r="1.1" fill="#8282a4"/>
<circle cx="313.10" cy="98.60" r="1.1" fill="#8282a4"/>
<circle cx="225.31" cy="50.27" r="1.1" fill="#7c9a80"/>
<circle cx="225.55" cy="58.09" r="1.1" fill="#7c9a80"/>
<circle cx="225.39" cy="67.43" r="1.1" fill="#aa8884"/>
<circle cx="225.44" cy="78.43" r="1.1" fill="#aa8884"/>
<circle cx="225.53" cy="100.51" r="1.1" fill="#8282a4"/>
<circle cx="225.49" cy="100.07" r="1.1" fill="#8282a4"/>
<circle cx="231.10" cy="54.93" r="1.1" fill="#7c9a80"/>
<circle cx="230.71" cy="56.44" r="1.1" fill="#7c9a80"/>
<circle cx="230.68" cy="55.32" r="1.1" fill="#aa8884"/>
<circle cx="230.98" cy="69.11" r="1.1" fill="#aa8884"/>
<circle cx="230.94" cy="93.27" r="1.1" fill="#8282a4"/>
<circle cx="230.95" cy="93.33" r="1.1" fill="#8282a4"/>
<circle cx="236.62" cy="67.55" r="1.1" fill="#7c9a80"/>
<circle cx="236.13" cy="70.68" r="1.1" fill="#7c9a80"/>
<circle cx="236.15" cy="71.71" r="1.1" fill="#aa8884"/>
<circle cx="236.27" cy="71.94" r="1.1" fill="#aa8884"/>
<circle cx="236.32" cy="89.80" r="1.1" fill="#8282a4"/>
<circle cx="236.66" cy="92.05" r="1.1" fill="#8282a4"/>
<circle cx="241.68" cy="79.93" r="1.1" fill="#7c9a80"/>
<circle cx="241.81" cy="79.93" r="1.1" fill="#7c9a80"/>
<circle cx="241.91" cy="69.36" r="1.1" fill="#aa8884"/>
<circle cx="242.05" cy="72.55" r="1.1" fill="#aa8884"/>
<circle cx="241.77" cy="89.98" r="1.1" fill="#8282a4"/>
<circle cx="242.15" cy="89.46" r="1.1" fill="#8282a4"/>
<circle cx="247.45" cy="85.94" r="1.1" fill="#7c9a80"/>
<circle cx="247.34" cy="87.84" r="1.1" fill="#7c9a80"/>
<circle cx="247.40" cy="85.00" r="1.1" fill="#aa8884"/>
<circle cx="247.60" cy="84.48" r="1.1" fill="#aa8884"/>
<circle cx="247.66" cy="87.53" r="1.1" fill="#8282a4"/>
<circle cx="247.09" cy="87.01" r="1.1" fill="#8282a4"/>
<circle cx="253.02" cy="93.58" r="1.1" fill="#7c9a80"/>
<circle cx="252.77" cy="93.22" r="1.1" fill="#7c9a80"/>
<circle cx="253.12" cy="85.62" r="1.1" fill="#aa8884"/>
<circle cx="252.97" cy="87.22" r="1.1" fill="#aa8884"/>
<circle cx="252.70" cy="85.10" r="1.1" fill="#8282a4"/>
<circle cx="252.80" cy="86.05" r="1.1" fill="#8282a4"/>
<circle cx="258.55" cy="94.49" r="1.1" fill="#7c9a80"/>
<circle cx="258.13" cy="95.75" r="1.1" fill="#7c9a80"/>
<circle cx="258.20" cy="90.54" r="1.1" fill="#aa8884"/>
<circle cx="258.11" cy="92.00" r="1.1" fill="#aa8884"/>
<circle cx="258.49" cy="85.32" r="1.1" fill="#8282a4"/>
<circle cx="258.21" cy="87.65" r="1.1" fill="#8282a4"/>
<circle cx="264.03" cy="97.27" r="1.1" fill="#7c9a80"/>
<circle cx="263.53" cy="96.70" r="1.1" fill="#7c9a80"/>
<circle cx="263.55" cy="93.97" r="1.1" fill="#aa8884"/>
<circle cx="263.96" cy="96.36" r="1.1" fill="#aa8884"/>
<circle cx="263.79" cy="87.20" r="1.1" fill="#8282a4"/>
<circle cx="264.02" cy="88.24" r="1.1" fill="#8282a4"/>
<circle cx="269.30" cy="98.90" r="1.1" fill="#7c9a80"/>
<circle cx="269.17" cy="98.51" r="1.1" fill="#7c9a80"/>
<circle cx="269.24" cy="96.55" r="1.1" fill="#aa8884"/>
<circle cx="269.11" cy="98.19" r="1.1" fill="#aa8884"/>
<circle cx="269.12" cy="90.19" r="1.1" fill="#8282a4"/>
<circle cx="269.36" cy="91.64" r="1.1" fill="#8282a4"/>
<circle cx="274.98" cy="98.85" r="1.1" fill="#7c9a80"/>
<circle cx="274.86" cy="100.06" r="1.1" fill="#7c9a80"/>
<circle cx="275.02" cy="99.83" r="1.1" fill="#aa8884"/>
<circle cx="274.93" cy="98.90" r="1.1" fill="#aa8884"/>
<circle cx="274.52" cy="89.95" r="1.1" fill="#8282a4"/>
<circle cx="274.74" cy="91.32" r="1.1" fill="#8282a4"/>
<circle cx="280.53" cy="99.42" r="1.1" fill="#7c9a80"/>
<circle cx="280.14" cy="100.29" r="1.1" fill="#7c9a80"/>
<circle cx="280.05" cy="99.94" r="1.1" fill="#aa8884"/>
<circle cx="280.11" cy="99.96" r="1.1" fill="#aa8884"/>
<circle cx="280.21" cy="92.58" r="1.1" fill="#8282a4"/>
<circle cx="279.97" cy="90.71" r="1.1" fill="#8282a4"/>
<circle cx="286.00" cy="99.51" r="1.1" fill="#7c9a80"/>
<circle cx="285.52" cy="99.52" r="1.1" fill="#7c9a80"/>
<circle cx="285.66" cy="100.82" r="1.1" fill="#aa8884"/>
<circle cx="286.01" cy="100.76" r="1.1" fill="#aa8884"/>
<circle cx="285.69" cy="93.89" r="1.1" fill="#8282a4"/>
<circle cx="286.02" cy="93.06" r="1.1" fill="#8282a4"/>
<circle cx="290.99" cy="100.22" r="1.1" fill="#7c9a80"/>
<circle cx="291.25" cy="99.92" r="1.1" fill="#7c9a80"/>
<circle cx="290.93" cy="94.17" r="1.1" fill="#8282a4"/>
<circle cx="291.41" cy="94.44" r="1.1" fill="#8282a4"/>
<circle cx="296.43" cy="95.84" r="1.1" fill="#8282a4"/>
<circle cx="296.79" cy="96.36" r="1.1" fill="#8282a4"/>
<circle cx="302.39" cy="97.79" r="1.1" fill="#8282a4"/>
<circle cx="302.23" cy="97.01" r="1.1" fill="#8282a4"/>
<circle cx="307.65" cy="97.42" r="1.1" fill="#8282a4"/>
<circle cx="307.77" cy="97.12" r="1.1" fill="#8282a4"/>
<circle cx="313.22" cy="98.62" r="1.1" fill="#8282a4"/>
<circle cx="313.27" cy="98.66" r="1.1" fill="#8282a4"/>
<path d="M209.00,101.40 L209.40,101.40 L209.80,101.40 L210.20,101.40 L210.60,101.40 L211.00,101.40 L211.40,101.40 L211.80,101.40 L212.20,101.40 L212.60,101.40 L213.00,101.40 L213.40,101.40 L213.80,101.40 L214.20,101.40 L214.60,101.40 L215.00,101.40 L215.40,101.40 L215.80,101.40 L216.20,101.40 L216.60,101.40 L217.00,101.40 L217.40,101.40 L217.80,101.40 L218.20,101.40 L218.60,101.40 L219.00,101.40 L219.40,101.40 L219.80,101.40 L220.20,101.40 L220.60,101.40 L221.00,101.40 L221.40,101.40 L221.80,101.40 L222.20,101.40 L222.60,101.40 L223.00,101.40 L223.40,101.40 L223.80,101.40 L224.20,101.40 L224.60,101.40 L225.00,101.40 L225.40,101.40 L225.80,101.40 L226.20,101.40 L226.60,101.40 L227.00,101.40 L227.40,101.40 L227.80,101.40 L228.20,101.40 L228.60,101.40 L229.00,101.40 L229.40,101.39 L229.80,101.31 L230.20,101.17 L230.60,100.97 L231.00,100.72 L231.40,100.42 L231.80,100.09 L232.20,99.73 L232.60,99.34 L233.00,98.92 L233.40,98.48 L233.80,98.02 L234.20,97.55 L234.60,97.06 L235.00,96.57 L235.40,96.07 L235.80,95.56 L236.20,95.05 L236.60,94.54 L237.00,94.03 L237.40,93.52 L237.80,93.01 L238.20,92.51 L238.60,92.02 L239.00,91.53 L239.40,91.05 L239.80,90.58 L240.20,90.12 L240.60,89.67 L241.00,89.23 L241.40,88.80 L241.80,88.38 L242.20,87.98 L242.60,87.59 L243.00,87.21 L243.40,86.84 L243.80,86.49 L244.20,86.15 L244.60,85.83 L245.00,85.52 L245.40,85.22 L245.80,84.94 L246.20,84.67 L246.60,84.41 L247.00,84.17 L247.40,83.94 L247.80,83.73 L248.20,83.53 L248.60,83.34 L249.00,83.17 L249.40,83.01 L249.80,82.86 L250.20,82.72 L250.60,82.60 L251.00,82.49 L251.40,82.39 L251.80,82.30 L252.20,82.22 L252.60,82.16 L253.00,82.10 L253.40,82.06 L253.80,82.02 L254.20,82.00 L254.60,81.98 L255.00,81.98 L255.40,81.98 L255.80,81.99 L256.20,82.01 L256.60,82.04 L257.00,82.08 L257.40,82.13 L257.80,82.18 L258.20,82.24 L258.60,82.30 L259.00,82.38 L259.40,82.46 L259.80,82.54 L260.20,82.63 L260.60,82.73 L261.00,82.83 L261.40,82.94 L261.80,83.05 L262.20,83.17 L262.60,83.29 L263.00,83.42 L263.40,83.55 L263.80,83.68 L264.20,83.82 L264.60,83.96 L265.00,84.11 L265.40,84.25 L265.80,84.40 L266.20,84.56 L266.60,84.71 L267.00,84.87 L267.40,85.03 L267.80,85.19 L268.20,85.35 L268.60,85.52 L269.00,85.68 L269.40,85.85 L269.80,86.02 L270.20,86.19 L270.60,86.36 L271.00,86.53 L271.40,86.71 L271.80,86.88 L272.20,87.05 L272.60,87.23 L273.00,87.40 L273.40,87.58 L273.80,87.75 L274.20,87.93 L274.60,88.10 L275.00,88.27 L275.40,88.45 L275.80,88.62 L276.20,88.79 L276.60,88.96 L277.00,89.14 L277.40,89.31 L277.80,89.48 L278.20,89.65 L278.60,89.82 L279.00,89.98 L279.40,90.15 L279.80,90.31 L280.20,90.48 L280.60,90.64 L281.00,90.80 L281.40,90.97 L281.80,91.13 L282.20,91.28 L282.60,91.44 L283.00,91.60 L283.40,91.75 L283.80,91.90 L284.20,92.06 L284.60,92.21 L285.00,92.35 L285.40,92.50 L285.80,92.65 L286.20,92.79 L286.60,92.93 L287.00,93.07 L287.40,93.21 L287.80,93.35 L288.20,93.49 L288.60,93.62 L289.00,93.76 L289.40,93.89 L289.80,94.02 L290.20,94.15 L290.60,94.27 L291.00,94.40 L291.40,94.52 L291.80,94.64 L292.20,94.76 L292.60,94.88 L293.00,95.00 L293.40,95.11 L293.80,95.23 L294.20,95.34 L294.60,95.45 L295.00,95.56 L295.40,95.67 L295.80,95.77 L296.20,95.88 L296.60,95.98 L297.00,96.08 L297.40,96.18 L297.80,96.28 L298.20,96.38 L298.60,96.47 L299.00,96.56 L299.40,96.66 L299.80,96.75 L300.20,96.84 L300.60,96.92 L301.00,97.01 L301.40,97.10 L301.80,97.18 L302.20,97.26 L302.60,97.34 L303.00,97.42 L303.40,97.50 L303.80,97.58 L304.20,97.65 L304.60,97.73 L305.00,97.80 L305.40,97.87 L305.80,97.94 L306.20,98.01 L306.60,98.08 L307.00,98.15 L307.40,98.21 L307.80,98.28 L308.20,98.34 L308.60,98.40 L309.00,98.47 L309.40,98.53 L309.80,98.59 L310.20,98.64 L310.60,98.70 L311.00,98.76 L311.40,98.81 L311.80,98.86 L312.20,98.92 L312.60,98.97 L313.00,99.02 L313.40,99.07 L313.80,99.12 L314.20,99.17 L314.60,99.21 L315.00,99.26 L315.40,99.31 L315.80,99.35 L316.20,99.39 L316.60,99.44 L317.00,99.48 L317.40,99.52 L317.80,99.56 L318.20,99.60 L318.60,99.64" fill="none" stroke="#2c2a7e" stroke-width="1.3" stroke-linejoin="round"/>
<path d="M209.00,101.40 L209.40,101.40 L209.80,101.40 L210.20,101.40 L210.60,101.40 L211.00,101.40 L211.40,101.40 L211.80,101.40 L212.20,101.40 L212.60,101.40 L213.00,101.40 L213.40,101.40 L213.80,101.40 L214.20,101.40 L214.60,101.40 L215.00,101.40 L215.40,101.40 L215.80,101.40 L216.20,101.40 L216.60,101.40 L217.00,101.40 L217.40,101.40 L217.80,101.40 L218.20,101.40 L218.60,101.40 L219.00,101.40 L219.40,101.40 L219.80,101.40 L220.20,101.40 L220.60,100.58 L221.00,98.83 L221.40,96.75 L221.80,94.50 L222.20,92.17 L222.60,89.81 L223.00,87.45 L223.40,85.14 L223.80,82.89 L224.20,80.71 L224.60,78.63 L225.00,76.65 L225.40,74.78 L225.80,73.03 L226.20,71.39 L226.60,69.87 L227.00,68.47 L227.40,67.18 L227.80,66.02 L228.20,64.97 L228.60,64.03 L229.00,63.20 L229.40,62.48 L229.80,61.86 L230.20,61.34 L230.60,60.91 L231.00,60.57 L231.40,60.32 L231.80,60.16 L232.20,60.07 L232.60,60.05 L233.00,60.10 L233.40,60.22 L233.80,60.40 L234.20,60.63 L234.60,60.92 L235.00,61.25 L235.40,61.63 L235.80,62.05 L236.20,62.51 L236.60,63.01 L237.00,63.53 L237.40,64.09 L237.80,64.67 L238.20,65.27 L238.60,65.89 L239.00,66.53 L239.40,67.18 L239.80,67.85 L240.20,68.53 L240.60,69.22 L241.00,69.91 L241.40,70.61 L241.80,71.31 L242.20,72.01 L242.60,72.72 L243.00,73.42 L243.40,74.12 L243.80,74.82 L244.20,75.52 L244.60,76.20 L245.00,76.89 L245.40,77.56 L245.80,78.23 L246.20,78.89 L246.60,79.54 L247.00,80.17 L247.40,80.80 L247.80,81.42 L248.20,82.03 L248.60,82.63 L249.00,83.21 L249.40,83.79 L249.80,84.35 L250.20,84.90 L250.60,85.44 L251.00,85.96 L251.40,86.47 L251.80,86.98 L252.20,87.46 L252.60,87.94 L253.00,88.40 L253.40,88.85 L253.80,89.29 L254.20,89.72 L254.60,90.13 L255.00,90.54 L255.40,90.93 L255.80,91.31 L256.20,91.68 L256.60,92.04 L257.00,92.38 L257.40,92.72 L257.80,93.05 L258.20,93.36 L258.60,93.67 L259.00,93.96 L259.40,94.25 L259.80,94.52 L260.20,94.79 L260.60,95.05 L261.00,95.30 L261.40,95.54 L261.80,95.77 L262.20,96.00 L262.60,96.21 L263.00,96.42 L263.40,96.62 L263.80,96.82 L264.20,97.00 L264.60,97.18 L265.00,97.36 L265.40,97.52 L265.80,97.68 L266.20,97.84 L266.60,97.99 L267.00,98.13 L267.40,98.27 L267.80,98.40 L268.20,98.53 L268.60,98.65 L269.00,98.77 L269.40,98.88 L269.80,98.99 L270.20,99.09 L270.60,99.19 L271.00,99.29 L271.40,99.38 L271.80,99.47 L272.20,99.56 L272.60,99.64 L273.00,99.71 L273.40,99.79 L273.80,99.86 L274.20,99.93 L274.60,100.00 L275.00,100.06 L275.40,100.12 L275.80,100.18 L276.20,100.23 L276.60,100.28 L277.00,100.34 L277.40,100.38 L277.80,100.43 L278.20,100.47 L278.60,100.52 L279.00,100.56 L279.40,100.60 L279.80,100.63 L280.20,100.67 L280.60,100.70 L281.00,100.74 L281.40,100.77 L281.80,100.80 L282.20,100.82 L282.60,100.85 L283.00,100.88 L283.40,100.90 L283.80,100.93 L284.20,100.95 L284.60,100.97 L285.00,100.99 L285.40,101.01 L285.80,101.03 L286.20,101.05 L286.60,101.06 L287.00,101.08 L287.40,101.09 L287.80,101.11 L288.20,101.12 L288.60,101.14 L289.00,101.15 L289.40,101.16 L289.80,101.17 L290.20,101.18 L290.60,101.20 L291.00,101.21 L291.40,101.21 L291.80,101.22 L292.20,101.23 L292.60,101.24 L293.00,101.25 L293.40,101.26 L293.80,101.26 L294.20,101.27 L294.60,101.28 L295.00,101.28 L295.40,101.29 L295.80,101.29 L296.20,101.30 L296.60,101.30 L297.00,101.31 L297.40,101.31 L297.80,101.32 L298.20,101.32 L298.60,101.33 L299.00,101.33 L299.40,101.33 L299.80,101.34 L300.20,101.34 L300.60,101.34 L301.00,101.35 L301.40,101.35 L301.80,101.35 L302.20,101.35 L302.60,101.36 L303.00,101.36 L303.40,101.36 L303.80,101.36 L304.20,101.36 L304.60,101.37 L305.00,101.37 L305.40,101.37 L305.80,101.37 L306.20,101.37 L306.60,101.37 L307.00,101.38 L307.40,101.38 L307.80,101.38 L308.20,101.38 L308.60,101.38 L309.00,101.38 L309.40,101.38 L309.80,101.38 L310.20,101.38 L310.60,101.38 L311.00,101.39 L311.40,101.39 L311.80,101.39 L312.20,101.39 L312.60,101.39 L313.00,101.39 L313.40,101.39 L313.80,101.39 L314.20,101.39 L314.60,101.39 L315.00,101.39 L315.40,101.39 L315.80,101.39 L316.20,101.39 L316.60,101.39 L317.00,101.39 L317.40,101.39 L317.80,101.39 L318.20,101.39 L318.60,101.39" fill="none" stroke="#c4363a" stroke-width="1.3" stroke-linejoin="round"/>
<path d="M209.00,101.40 L209.40,101.40 L209.80,101.40 L210.20,101.40 L210.60,101.40 L211.00,101.40 L211.40,101.40 L211.80,101.40 L212.20,101.40 L212.60,101.40 L213.00,101.40 L213.40,101.40 L213.80,101.40 L214.20,101.40 L214.60,101.40 L215.00,101.40 L215.40,101.40 L215.80,101.40 L216.20,101.40 L216.60,101.40 L217.00,101.40 L217.40,101.40 L217.80,101.40 L218.20,101.40 L218.60,101.40 L219.00,101.40 L219.40,101.40 L219.80,101.40 L220.20,101.40 L220.60,97.48 L221.00,89.71 L221.40,82.27 L221.80,75.81 L222.20,70.39 L222.60,65.94 L223.00,62.35 L223.40,59.50 L223.80,57.27 L224.20,55.59 L224.60,54.36 L225.00,53.51 L225.40,52.99 L225.80,52.74 L226.20,52.72 L226.60,52.90 L227.00,53.23 L227.40,53.70 L227.80,54.29 L228.20,54.96 L228.60,55.70 L229.00,56.51 L229.40,57.36 L229.80,58.25 L230.20,59.17 L230.60,60.11 L231.00,61.06 L231.40,62.02 L231.80,62.98 L232.20,63.94 L232.60,64.89 L233.00,65.84 L233.40,66.78 L233.80,67.71 L234.20,68.62 L234.60,69.52 L235.00,70.40 L235.40,71.26 L235.80,72.11 L236.20,72.94 L236.60,73.74 L237.00,74.53 L237.40,75.31 L237.80,76.06 L238.20,76.79 L238.60,77.50 L239.00,78.20 L239.40,78.87 L239.80,79.53 L240.20,80.17 L240.60,80.79 L241.00,81.39 L241.40,81.98 L241.80,82.55 L242.20,83.10 L242.60,83.64 L243.00,84.16 L243.40,84.67 L243.80,85.16 L244.20,85.63 L244.60,86.09 L245.00,86.54 L245.40,86.98 L245.80,87.40 L246.20,87.81 L246.60,88.20 L247.00,88.59 L247.40,88.96 L247.80,89.32 L248.20,89.67 L248.60,90.01 L249.00,90.34 L249.40,90.66 L249.80,90.97 L250.20,91.27 L250.60,91.56 L251.00,91.84 L251.40,92.11 L251.80,92.38 L252.20,92.63 L252.60,92.88 L253.00,93.13 L253.40,93.36 L253.80,93.59 L254.20,93.81 L254.60,94.02 L255.00,94.23 L255.40,94.43 L255.80,94.62 L256.20,94.81 L256.60,95.00 L257.00,95.18 L257.40,95.35 L257.80,95.52 L258.20,95.68 L258.60,95.84 L259.00,95.99 L259.40,96.14 L259.80,96.28 L260.20,96.42 L260.60,96.56 L261.00,96.69 L261.40,96.82 L261.80,96.94 L262.20,97.06 L262.60,97.18 L263.00,97.29 L263.40,97.40 L263.80,97.51 L264.20,97.62 L264.60,97.72 L265.00,97.82 L265.40,97.91 L265.80,98.00 L266.20,98.09 L266.60,98.18 L267.00,98.27 L267.40,98.35 L267.80,98.43 L268.20,98.51 L268.60,98.58 L269.00,98.66 L269.40,98.73 L269.80,98.80 L270.20,98.86 L270.60,98.93 L271.00,98.99 L271.40,99.06 L271.80,99.12 L272.20,99.17 L272.60,99.23 L273.00,99.29 L273.40,99.34 L273.80,99.39 L274.20,99.44 L274.60,99.49 L275.00,99.54 L275.40,99.59 L275.80,99.63 L276.20,99.68 L276.60,99.72 L277.00,99.76 L277.40,99.80 L277.80,99.84 L278.20,99.88 L278.60,99.92 L279.00,99.96 L279.40,99.99 L279.80,100.03 L280.20,100.06 L280.60,100.09 L281.00,100.13 L281.40,100.16 L281.80,100.19 L282.20,100.22 L282.60,100.25 L283.00,100.27 L283.40,100.30 L283.80,100.33 L284.20,100.35 L284.60,100.38 L285.00,100.40 L285.40,100.43 L285.80,100.45 L286.20,100.47 L286.60,100.50 L287.00,100.52 L287.40,100.54 L287.80,100.56 L288.20,100.58 L288.60,100.60 L289.00,100.62 L289.40,100.64 L289.80,100.65 L290.20,100.67 L290.60,100.69 L291.00,100.71 L291.40,100.72 L291.80,100.74 L292.20,100.75 L292.60,100.77 L293.00,100.78 L293.40,100.80 L293.80,100.81 L294.20,100.82 L294.60,100.84 L295.00,100.85 L295.40,100.86 L295.80,100.88 L296.20,100.89 L296.60,100.90 L297.00,100.91 L297.40,100.92 L297.80,100.93 L298.20,100.94 L298.60,100.95 L299.00,100.96 L299.40,100.97 L299.80,100.98 L300.20,100.99 L300.60,101.00 L301.00,101.01 L301.40,101.02 L301.80,101.03 L302.20,101.04 L302.60,101.04 L303.00,101.05 L303.40,101.06 L303.80,101.07 L304.20,101.08 L304.60,101.08 L305.00,101.09 L305.40,101.10 L305.80,101.10 L306.20,101.11 L306.60,101.12 L307.00,101.12 L307.40,101.13 L307.80,101.13 L308.20,101.14 L308.60,101.15 L309.00,101.15 L309.40,101.16 L309.80,101.16 L310.20,101.17 L310.60,101.17 L311.00,101.18 L311.40,101.18 L311.80,101.19 L312.20,101.19 L312.60,101.20 L313.00,101.20 L313.40,101.20 L313.80,101.21 L314.20,101.21 L314.60,101.22 L315.00,101.22 L315.40,101.22 L315.80,101.23 L316.20,101.23 L316.60,101.23 L317.00,101.24 L317.40,101.24 L317.80,101.24 L318.20,101.25 L318.60,101.25" fill="none" stroke="#3a7f48" stroke-width="1.3" stroke-linejoin="round"/>
<text transform="translate(356.60,62.60) rotate(-90)" x="0" y="0" font-size="8.8" stroke="#1e1e1e" stroke-width="0.22" text-anchor="middle" textLength="67.3" lengthAdjust="spacingAndGlyphs" fill="#1e1e1e">Fraction enrichment</text>
<line x1="377.50" y1="101.40" x2="380.80" y2="101.40" stroke="#111" stroke-width="1.0"/>
<text x="374.00" y="103.60" font-size="6.2" stroke="#1e1e1e" stroke-width="0.22" text-anchor="end" textLength="11.8" lengthAdjust="spacingAndGlyphs" fill="#1e1e1e">0.00</text>
<line x1="377.50" y1="86.32" x2="380.80" y2="86.32" stroke="#111" stroke-width="1.0"/>
<text x="374.00" y="88.52" font-size="6.2" stroke="#1e1e1e" stroke-width="0.22" text-anchor="end" textLength="11.8" lengthAdjust="spacingAndGlyphs" fill="#1e1e1e">0.02</text>
<line x1="377.50" y1="71.24" x2="380.80" y2="71.24" stroke="#111" stroke-width="1.0"/>
<text x="374.00" y="73.44" font-size="6.2" stroke="#1e1e1e" stroke-width="0.22" text-anchor="end" textLength="11.8" lengthAdjust="spacingAndGlyphs" fill="#1e1e1e">0.04</text>
<line x1="377.50" y1="56.16" x2="380.80" y2="56.16" stroke="#111" stroke-width="1.0"/>
<text x="374.00" y="58.36" font-size="6.2" stroke="#1e1e1e" stroke-width="0.22" text-anchor="end" textLength="11.8" lengthAdjust="spacingAndGlyphs" fill="#1e1e1e">0.06</text>
<line x1="377.50" y1="41.08" x2="380.80" y2="41.08" stroke="#111" stroke-width="1.0"/>
<text x="374.00" y="43.28" font-size="6.2" stroke="#1e1e1e" stroke-width="0.22" text-anchor="end" textLength="11.8" lengthAdjust="spacingAndGlyphs" fill="#1e1e1e">0.08</text>
<line x1="377.50" y1="26.00" x2="380.80" y2="26.00" stroke="#111" stroke-width="1.0"/>
<text x="374.00" y="28.20" font-size="6.2" stroke="#1e1e1e" stroke-width="0.22" text-anchor="end" textLength="11.8" lengthAdjust="spacingAndGlyphs" fill="#1e1e1e">0.10</text>
<line x1="380.80" y1="101.40" x2="380.80" y2="104.90" stroke="#111" stroke-width="1.0"/>
<text x="380.80" y="112.80" font-size="6.2" stroke="#1e1e1e" stroke-width="0.22" text-anchor="middle" textLength="3.4" lengthAdjust="spacingAndGlyphs" fill="#1e1e1e">0</text>
<line x1="408.20" y1="101.40" x2="408.20" y2="104.90" stroke="#111" stroke-width="1.0"/>
<text x="408.20" y="112.80" font-size="6.2" stroke="#1e1e1e" stroke-width="0.22" text-anchor="middle" textLength="3.4" lengthAdjust="spacingAndGlyphs" fill="#1e1e1e">5</text>
<line x1="435.60" y1="101.40" x2="435.60" y2="104.90" stroke="#111" stroke-width="1.0"/>
<text x="435.60" y="112.80" font-size="6.2" stroke="#1e1e1e" stroke-width="0.22" text-anchor="middle" textLength="6.9" lengthAdjust="spacingAndGlyphs" fill="#1e1e1e">10</text>
<line x1="463.00" y1="101.40" x2="463.00" y2="104.90" stroke="#111" stroke-width="1.0"/>
<text x="463.00" y="112.80" font-size="6.2" stroke="#1e1e1e" stroke-width="0.22" text-anchor="middle" textLength="6.9" lengthAdjust="spacingAndGlyphs" fill="#1e1e1e">15</text>
<line x1="490.40" y1="101.40" x2="490.40" y2="104.90" stroke="#111" stroke-width="1.0"/>
<text x="490.40" y="112.80" font-size="6.2" stroke="#1e1e1e" stroke-width="0.22" text-anchor="middle" textLength="6.9" lengthAdjust="spacingAndGlyphs" fill="#1e1e1e">20</text>
<text x="437.40" y="125.00" font-size="8.8" stroke="#1e1e1e" stroke-width="0.22" text-anchor="middle" textLength="39.4" lengthAdjust="spacingAndGlyphs" fill="#1e1e1e">Time (days)</text>
<line x1="380.80" y1="23.20" x2="380.80" y2="105.00" stroke="#111" stroke-width="1.1"/>
<line x1="377.70" y1="101.40" x2="492.80" y2="101.40" stroke="#111" stroke-width="1.1"/>
<circle cx="391.90" cy="68.70" r="1.1" fill="#7c9a80"/>
<circle cx="397.30" cy="39.30" r="1.1" fill="#7c9a80"/>
<circle cx="397.30" cy="58.80" r="1.1" fill="#7c9a80"/>
<circle cx="397.30" cy="81.00" r="1.1" fill="#aa8884"/>
<circle cx="397.30" cy="88.00" r="1.1" fill="#aa8884"/>
<circle cx="402.80" cy="32.50" r="1.1" fill="#7c9a80"/>
<circle cx="402.80" cy="37.20" r="1.1" fill="#7c9a80"/>
<circle cx="402.80" cy="48.70" r="1.1" fill="#7c9a80"/>
<circle cx="402.80" cy="67.70" r="1.1" fill="#aa8884"/>
<circle cx="402.80" cy="98.60" r="1.1" fill="#8282a4"/>
<circle cx="402.80" cy="57.00" r="1.1" fill="#7c9a80"/>
<circle cx="408.30" cy="47.80" r="1.1" fill="#7c9a80"/>
<circle cx="408.30" cy="59.60" r="1.1" fill="#aa8884"/>
<circle cx="408.30" cy="60.60" r="1.1" fill="#aa8884"/>
<circle cx="408.30" cy="74.30" r="1.1" fill="#7c9a80"/>
<circle cx="408.30" cy="92.60" r="1.1" fill="#8282a4"/>
<circle cx="408.30" cy="98.80" r="1.1" fill="#8282a4"/>
<circle cx="408.30" cy="68.00" r="1.1" fill="#aa8884"/>
<circle cx="413.70" cy="65.50" r="1.1" fill="#aa8884"/>
<circle cx="413.70" cy="69.60" r="1.1" fill="#aa8884"/>
<circle cx="413.70" cy="83.70" r="1.1" fill="#7c9a80"/>
<circle cx="413.70" cy="92.70" r="1.1" fill="#8282a4"/>
<circle cx="413.70" cy="76.00" r="1.1" fill="#aa8884"/>
<circle cx="419.20" cy="66.00" r="1.1" fill="#aa8884"/>
<circle cx="419.20" cy="70.10" r="1.1" fill="#8282a4"/>
<circle cx="419.20" cy="72.80" r="1.1" fill="#8282a4"/>
<circle cx="419.20" cy="75.50" r="1.1" fill="#8282a4"/>
<circle cx="419.20" cy="77.60" r="1.1" fill="#8282a4"/>
<circle cx="419.20" cy="91.50" r="1.1" fill="#7c9a80"/>
<circle cx="419.20" cy="95.20" r="1.1" fill="#7c9a80"/>
<circle cx="419.20" cy="82.00" r="1.1" fill="#aa8884"/>
<circle cx="424.70" cy="74.90" r="1.1" fill="#8282a4"/>
<circle cx="424.70" cy="79.40" r="1.1" fill="#8282a4"/>
<circle cx="424.70" cy="83.10" r="1.1" fill="#aa8884"/>
<circle cx="424.70" cy="88.50" r="1.1" fill="#aa8884"/>
<circle cx="424.70" cy="92.50" r="1.1" fill="#7c9a80"/>
<circle cx="430.10" cy="76.90" r="1.1" fill="#8282a4"/>
<circle cx="430.10" cy="81.50" r="1.1" fill="#8282a4"/>
<circle cx="430.10" cy="83.70" r="1.1" fill="#8282a4"/>
<circle cx="430.10" cy="89.20" r="1.1" fill="#aa8884"/>
<circle cx="430.10" cy="94.50" r="1.1" fill="#7c9a80"/>
<circle cx="435.60" cy="72.10" r="1.1" fill="#8282a4"/>
<circle cx="435.60" cy="75.50" r="1.1" fill="#8282a4"/>
<circle cx="435.60" cy="80.30" r="1.1" fill="#8282a4"/>
<circle cx="435.60" cy="82.60" r="1.1" fill="#8282a4"/>
<circle cx="435.60" cy="92.50" r="1.1" fill="#aa8884"/>
<circle cx="435.60" cy="96.00" r="1.1" fill="#7c9a80"/>
<circle cx="441.10" cy="65.10" r="1.1" fill="#8282a4"/>
<circle cx="441.10" cy="79.30" r="1.1" fill="#8282a4"/>
<circle cx="441.10" cy="94.00" r="1.1" fill="#aa8884"/>
<circle cx="441.10" cy="97.50" r="1.1" fill="#7c9a80"/>
<circle cx="446.50" cy="76.90" r="1.1" fill="#8282a4"/>
<circle cx="446.50" cy="90.00" r="1.1" fill="#8282a4"/>
<circle cx="446.50" cy="95.70" r="1.1" fill="#aa8884"/>
<circle cx="446.50" cy="98.50" r="1.1" fill="#7c9a80"/>
<circle cx="452.00" cy="85.70" r="1.1" fill="#8282a4"/>
<circle cx="452.00" cy="89.30" r="1.1" fill="#8282a4"/>
<circle cx="452.00" cy="93.60" r="1.1" fill="#8282a4"/>
<circle cx="452.00" cy="97.90" r="1.1" fill="#aa8884"/>
<circle cx="457.50" cy="81.90" r="1.1" fill="#8282a4"/>
<circle cx="457.50" cy="89.30" r="1.1" fill="#8282a4"/>
<circle cx="457.50" cy="90.80" r="1.1" fill="#8282a4"/>
<circle cx="457.50" cy="95.20" r="1.1" fill="#8282a4"/>
<circle cx="457.50" cy="98.30" r="1.1" fill="#7c9a80"/>
<circle cx="463.00" cy="95.40" r="1.1" fill="#8282a4"/>
<circle cx="463.00" cy="98.40" r="1.1" fill="#aa8884"/>
<circle cx="468.40" cy="97.60" r="1.1" fill="#8282a4"/>
<circle cx="468.40" cy="99.00" r="1.1" fill="#7c9a80"/>
<circle cx="473.90" cy="96.90" r="1.1" fill="#8282a4"/>
<circle cx="473.90" cy="98.80" r="1.1" fill="#aa8884"/>
<circle cx="479.40" cy="97.70" r="1.1" fill="#8282a4"/>
<circle cx="484.90" cy="98.60" r="1.1" fill="#8282a4"/>
<circle cx="397.11" cy="50.27" r="1.1" fill="#7c9a80"/>
<circle cx="397.35" cy="58.09" r="1.1" fill="#7c9a80"/>
<circle cx="397.19" cy="67.43" r="1.1" fill="#aa8884"/>
<circle cx="397.24" cy="78.43" r="1.1" fill="#aa8884"/>
<circle cx="397.33" cy="100.51" r="1.1" fill="#8282a4"/>
<circle cx="397.29" cy="100.07" r="1.1" fill="#8282a4"/>
<circle cx="402.90" cy="54.93" r="1.1" fill="#7c9a80"/>
<circle cx="402.51" cy="56.44" r="1.1" fill="#7c9a80"/>
<circle cx="402.48" cy="55.32" r="1.1" fill="#aa8884"/>
<circle cx="402.78" cy="69.11" r="1.1" fill="#aa8884"/>
<circle cx="402.74" cy="93.27" r="1.1" fill="#8282a4"/>
<circle cx="402.75" cy="93.33" r="1.1" fill="#8282a4"/>
<circle cx="408.42" cy="67.55" r="1.1" fill="#7c9a80"/>
<circle cx="407.93" cy="70.68" r="1.1" fill="#7c9a80"/>
<circle cx="407.95" cy="71.71" r="1.1" fill="#aa8884"/>
<circle cx="408.07" cy="71.94" r="1.1" fill="#aa8884"/>
<circle cx="408.12" cy="89.80" r="1.1" fill="#8282a4"/>
<circle cx="408.46" cy="92.05" r="1.1" fill="#8282a4"/>
<circle cx="413.48" cy="79.93" r="1.1" fill="#7c9a80"/>
<circle cx="413.61" cy="79.93" r="1.1" fill="#7c9a80"/>
<circle cx="413.71" cy="69.36" r="1.1" fill="#aa8884"/>
<circle cx="413.85" cy="72.55" r="1.1" fill="#aa8884"/>
<circle cx="413.57" cy="89.98" r="1.1" fill="#8282a4"/>
<circle cx="413.95" cy="89.46" r="1.1" fill="#8282a4"/>
<circle cx="419.25" cy="85.94" r="1.1" fill="#7c9a80"/>
<circle cx="419.14" cy="87.84" r="1.1" fill="#7c9a80"/>
<circle cx="419.20" cy="85.00" r="1.1" fill="#aa8884"/>
<circle cx="419.40" cy="84.48" r="1.1" fill="#aa8884"/>
<circle cx="419.46" cy="87.53" r="1.1" fill="#8282a4"/>
<circle cx="418.89" cy="87.01" r="1.1" fill="#8282a4"/>
<circle cx="424.82" cy="93.58" r="1.1" fill="#7c9a80"/>
<circle cx="424.57" cy="93.22" r="1.1" fill="#7c9a80"/>
<circle cx="424.92" cy="85.62" r="1.1" fill="#aa8884"/>
<circle cx="424.77" cy="87.22" r="1.1" fill="#aa8884"/>
<circle cx="424.50" cy="85.10" r="1.1" fill="#8282a4"/>
<circle cx="424.60" cy="86.05" r="1.1" fill="#8282a4"/>
<circle cx="430.35" cy="94.49" r="1.1" fill="#7c9a80"/>
<circle cx="429.93" cy="95.75" r="1.1" fill="#7c9a80"/>
<circle cx="430.00" cy="90.54" r="1.1" fill="#aa8884"/>
<circle cx="429.91" cy="92.00" r="1.1" fill="#aa8884"/>
<circle cx="430.29" cy="85.32" r="1.1" fill="#8282a4"/>
<circle cx="430.01" cy="87.65" r="1.1" fill="#8282a4"/>
<circle cx="435.83" cy="97.27" r="1.1" fill="#7c9a80"/>
<circle cx="435.33" cy="96.70" r="1.1" fill="#7c9a80"/>
<circle cx="435.35" cy="93.97" r="1.1" fill="#aa8884"/>
<circle cx="435.76" cy="96.36" r="1.1" fill="#aa8884"/>
<circle cx="435.59" cy="87.20" r="1.1" fill="#8282a4"/>
<circle cx="435.82" cy="88.24" r="1.1" fill="#8282a4"/>
<circle cx="441.10" cy="98.90" r="1.1" fill="#7c9a80"/>
<circle cx="440.97" cy="98.51" r="1.1" fill="#7c9a80"/>
<circle cx="441.04" cy="96.55" r="1.1" fill="#aa8884"/>
<circle cx="440.91" cy="98.19" r="1.1" fill="#aa8884"/>
<circle cx="440.92" cy="90.19" r="1.1" fill="#8282a4"/>
<circle cx="441.16" cy="91.64" r="1.1" fill="#8282a4"/>
<circle cx="446.78" cy="98.85" r="1.1" fill="#7c9a80"/>
<circle cx="446.66" cy="100.06" r="1.1" fill="#7c9a80"/>
<circle cx="446.82" cy="99.83" r="1.1" fill="#aa8884"/>
<circle cx="446.73" cy="98.90" r="1.1" fill="#aa8884"/>
<circle cx="446.32" cy="89.95" r="1.1" fill="#8282a4"/>
<circle cx="446.54" cy="91.32" r="1.1" fill="#8282a4"/>
<circle cx="452.33" cy="99.42" r="1.1" fill="#7c9a80"/>
<circle cx="451.94" cy="100.29" r="1.1" fill="#7c9a80"/>
<circle cx="451.85" cy="99.94" r="1.1" fill="#aa8884"/>
<circle cx="451.91" cy="99.96" r="1.1" fill="#aa8884"/>
<circle cx="452.01" cy="92.58" r="1.1" fill="#8282a4"/>
<circle cx="451.77" cy="90.71" r="1.1" fill="#8282a4"/>
<circle cx="457.80" cy="99.51" r="1.1" fill="#7c9a80"/>
<circle cx="457.32" cy="99.52" r="1.1" fill="#7c9a80"/>
<circle cx="457.46" cy="100.82" r="1.1" fill="#aa8884"/>
<circle cx="457.81" cy="100.76" r="1.1" fill="#aa8884"/>
<circle cx="457.49" cy="93.89" r="1.1" fill="#8282a4"/>
<circle cx="457.82" cy="93.06" r="1.1" fill="#8282a4"/>
<circle cx="462.79" cy="100.22" r="1.1" fill="#7c9a80"/>
<circle cx="463.05" cy="99.92" r="1.1" fill="#7c9a80"/>
<circle cx="462.73" cy="94.17" r="1.1" fill="#8282a4"/>
<circle cx="463.21" cy="94.44" r="1.1" fill="#8282a4"/>
<circle cx="468.23" cy="95.84" r="1.1" fill="#8282a4"/>
<circle cx="468.59" cy="96.36" r="1.1" fill="#8282a4"/>
<circle cx="474.19" cy="97.79" r="1.1" fill="#8282a4"/>
<circle cx="474.03" cy="97.01" r="1.1" fill="#8282a4"/>
<circle cx="479.45" cy="97.42" r="1.1" fill="#8282a4"/>
<circle cx="479.57" cy="97.12" r="1.1" fill="#8282a4"/>
<circle cx="485.02" cy="98.62" r="1.1" fill="#8282a4"/>
<circle cx="485.07" cy="98.66" r="1.1" fill="#8282a4"/>
<path d="M380.80,101.40 L381.20,101.40 L381.60,101.40 L382.00,101.40 L382.40,101.40 L382.80,101.40 L383.20,101.40 L383.60,101.40 L384.00,101.40 L384.40,101.40 L384.80,101.40 L385.20,101.40 L385.60,101.40 L386.00,101.40 L386.40,101.40 L386.80,101.40 L387.20,101.40 L387.60,101.40 L388.00,101.40 L388.40,101.40 L388.80,101.40 L389.20,101.40 L389.60,101.40 L390.00,101.40 L390.40,101.40 L390.80,101.40 L391.20,101.40 L391.60,101.40 L392.00,101.40 L392.40,101.40 L392.80,101.40 L393.20,101.40 L393.60,101.40 L394.00,101.40 L394.40,101.40 L394.80,101.40 L395.20,101.40 L395.60,101.40 L396.00,101.40 L396.40,101.40 L396.80,101.40 L397.20,101.40 L397.60,101.40 L398.00,101.40 L398.40,101.40 L398.80,101.40 L399.20,101.40 L399.60,101.40 L400.00,101.40 L400.40,101.40 L400.80,101.40 L401.20,101.40 L401.60,101.40 L402.00,101.40 L402.40,101.40 L402.80,101.40 L403.20,101.40 L403.60,101.40 L404.00,101.31 L404.40,100.95 L404.80,100.43 L405.20,99.82 L405.60,99.13 L406.00,98.39 L406.40,97.60 L406.80,96.78 L407.20,95.94 L407.60,95.08 L408.00,94.21 L408.40,93.33 L408.80,92.46 L409.20,91.59 L409.60,90.73 L410.00,89.88 L410.40,89.05 L410.80,88.23 L411.20,87.44 L411.60,86.66 L412.00,85.91 L412.40,85.18 L412.80,84.47 L413.20,83.79 L413.60,83.14 L414.00,82.52 L414.40,81.92 L414.80,81.36 L415.20,80.82 L415.60,80.31 L416.00,79.83 L416.40,79.38 L416.80,78.96 L417.20,78.56 L417.60,78.20 L418.00,77.86 L418.40,77.55 L418.80,77.26 L419.20,77.01 L419.60,76.78 L420.00,76.57 L420.40,76.39 L420.80,76.24 L421.20,76.10 L421.60,76.00 L422.00,75.91 L422.40,75.84 L422.80,75.80 L423.20,75.78 L423.60,75.77 L424.00,75.79 L424.40,75.82 L424.80,75.88 L425.20,75.94 L425.60,76.03 L426.00,76.13 L426.40,76.24 L426.80,76.37 L427.20,76.51 L427.60,76.67 L428.00,76.84 L428.40,77.01 L428.80,77.20 L429.20,77.40 L429.60,77.61 L430.00,77.83 L430.40,78.06 L430.80,78.29 L431.20,78.54 L431.60,78.79 L432.00,79.04 L432.40,79.30 L432.80,79.57 L433.20,79.84 L433.60,80.12 L434.00,80.40 L434.40,80.68 L434.80,80.97 L435.20,81.26 L435.60,81.55 L436.00,81.85 L436.40,82.15 L436.80,82.44 L437.20,82.74 L437.60,83.04 L438.00,83.34 L438.40,83.64 L438.80,83.94 L439.20,84.24 L439.60,84.54 L440.00,84.84 L440.40,85.14 L440.80,85.43 L441.20,85.73 L441.60,86.02 L442.00,86.31 L442.40,86.60 L442.80,86.89 L443.20,87.17 L443.60,87.46 L444.00,87.74 L444.40,88.01 L444.80,88.29 L445.20,88.56 L445.60,88.83 L446.00,89.09 L446.40,89.36 L446.80,89.62 L447.20,89.87 L447.60,90.12 L448.00,90.37 L448.40,90.62 L448.80,90.86 L449.20,91.10 L449.60,91.33 L450.00,91.56 L450.40,91.79 L450.80,92.02 L451.20,92.24 L451.60,92.45 L452.00,92.67 L452.40,92.88 L452.80,93.08 L453.20,93.28 L453.60,93.48 L454.00,93.68 L454.40,93.87 L454.80,94.06 L455.20,94.24 L455.60,94.42 L456.00,94.60 L456.40,94.77 L456.80,94.94 L457.20,95.11 L457.60,95.27 L458.00,95.43 L458.40,95.59 L458.80,95.74 L459.20,95.89 L459.60,96.03 L460.00,96.18 L460.40,96.32 L460.80,96.45 L461.20,96.59 L461.60,96.72 L462.00,96.85 L462.40,96.97 L462.80,97.09 L463.20,97.21 L463.60,97.33 L464.00,97.44 L464.40,97.55 L464.80,97.66 L465.20,97.77 L465.60,97.87 L466.00,97.97 L466.40,98.07 L466.80,98.16 L467.20,98.26 L467.60,98.35 L468.00,98.44 L468.40,98.52 L468.80,98.61 L469.20,98.69 L469.60,98.77 L470.00,98.85 L470.40,98.92 L470.80,99.00 L471.20,99.07 L471.60,99.14 L472.00,99.20 L472.40,99.27 L472.80,99.33 L473.20,99.40 L473.60,99.46 L474.00,99.52 L474.40,99.57 L474.80,99.63 L475.20,99.68 L475.60,99.74 L476.00,99.79 L476.40,99.84 L476.80,99.89 L477.20,99.93 L477.60,99.98 L478.00,100.02 L478.40,100.07 L478.80,100.11 L479.20,100.15 L479.60,100.19 L480.00,100.23 L480.40,100.27 L480.80,100.30 L481.20,100.34 L481.60,100.37 L482.00,100.40 L482.40,100.44 L482.80,100.47 L483.20,100.50 L483.60,100.53 L484.00,100.56 L484.40,100.58 L484.80,100.61 L485.20,100.64 L485.60,100.66 L486.00,100.69 L486.40,100.71 L486.80,100.73 L487.20,100.75 L487.60,100.78 L488.00,100.80 L488.40,100.82 L488.80,100.84 L489.20,100.85 L489.60,100.87 L490.00,100.89 L490.40,100.91" fill="none" stroke="#2c2a7e" stroke-width="1.3" stroke-linejoin="round"/>
<path d="M380.80,101.40 L381.20,101.40 L381.60,101.40 L382.00,101.40 L382.40,101.40 L382.80,101.40 L383.20,101.40 L383.60,101.40 L384.00,101.40 L384.40,101.40 L384.80,101.40 L385.20,101.40 L385.60,101.40 L386.00,101.40 L386.40,101.40 L386.80,101.40 L387.20,101.40 L387.60,101.40 L388.00,101.40 L388.40,101.40 L388.80,101.40 L389.20,101.40 L389.60,101.40 L390.00,101.40 L390.40,101.40 L390.80,101.40 L391.20,101.40 L391.60,101.40 L392.00,100.99 L392.40,99.30 L392.80,97.09 L393.20,94.63 L393.60,92.07 L394.00,89.48 L394.40,86.94 L394.80,84.47 L395.20,82.10 L395.60,79.86 L396.00,77.75 L396.40,75.77 L396.80,73.95 L397.20,72.26 L397.60,70.72 L398.00,69.32 L398.40,68.05 L398.80,66.92 L399.20,65.91 L399.60,65.03 L400.00,64.27 L400.40,63.61 L400.80,63.06 L401.20,62.61 L401.60,62.26 L402.00,61.99 L402.40,61.80 L402.80,61.69 L403.20,61.65 L403.60,61.68 L404.00,61.77 L404.40,61.92 L404.80,62.12 L405.20,62.36 L405.60,62.66 L406.00,62.99 L406.40,63.36 L406.80,63.76 L407.20,64.19 L407.60,64.66 L408.00,65.14 L408.40,65.65 L408.80,66.17 L409.20,66.72 L409.60,67.27 L410.00,67.84 L410.40,68.42 L410.80,69.01 L411.20,69.61 L411.60,70.21 L412.00,70.82 L412.40,71.43 L412.80,72.04 L413.20,72.65 L413.60,73.26 L414.00,73.86 L414.40,74.47 L414.80,75.07 L415.20,75.67 L415.60,76.26 L416.00,76.85 L416.40,77.43 L416.80,78.00 L417.20,78.57 L417.60,79.13 L418.00,79.69 L418.40,80.23 L418.80,80.77 L419.20,81.29 L419.60,81.81 L420.00,82.32 L420.40,82.82 L420.80,83.32 L421.20,83.80 L421.60,84.27 L422.00,84.74 L422.40,85.19 L422.80,85.63 L423.20,86.07 L423.60,86.50 L424.00,86.91 L424.40,87.32 L424.80,87.72 L425.20,88.11 L425.60,88.49 L426.00,88.86 L426.40,89.22 L426.80,89.57 L427.20,89.92 L427.60,90.25 L428.00,90.58 L428.40,90.90 L428.80,91.21 L429.20,91.51 L429.60,91.81 L430.00,92.09 L430.40,92.37 L430.80,92.65 L431.20,92.91 L431.60,93.17 L432.00,93.42 L432.40,93.66 L432.80,93.90 L433.20,94.13 L433.60,94.35 L434.00,94.57 L434.40,94.78 L434.80,94.99 L435.20,95.19 L435.60,95.38 L436.00,95.57 L436.40,95.75 L436.80,95.93 L437.20,96.10 L437.60,96.27 L438.00,96.43 L438.40,96.59 L438.80,96.74 L439.20,96.89 L439.60,97.03 L440.00,97.17 L440.40,97.31 L440.80,97.44 L441.20,97.56 L441.60,97.69 L442.00,97.81 L442.40,97.92 L442.80,98.04 L443.20,98.14 L443.60,98.25 L444.00,98.35 L444.40,98.45 L444.80,98.55 L445.20,98.64 L445.60,98.73 L446.00,98.82 L446.40,98.90 L446.80,98.98 L447.20,99.06 L447.60,99.14 L448.00,99.21 L448.40,99.29 L448.80,99.36 L449.20,99.42 L449.60,99.49 L450.00,99.55 L450.40,99.61 L450.80,99.67 L451.20,99.73 L451.60,99.78 L452.00,99.84 L452.40,99.89 L452.80,99.94 L453.20,99.99 L453.60,100.04 L454.00,100.08 L454.40,100.12 L454.80,100.17 L455.20,100.21 L455.60,100.25 L456.00,100.29 L456.40,100.32 L456.80,100.36 L457.20,100.40 L457.60,100.43 L458.00,100.46 L458.40,100.49 L458.80,100.52 L459.20,100.55 L459.60,100.58 L460.00,100.61 L460.40,100.64 L460.80,100.66 L461.20,100.69 L461.60,100.71 L462.00,100.73 L462.40,100.76 L462.80,100.78 L463.20,100.80 L463.60,100.82 L464.00,100.84 L464.40,100.86 L464.80,100.88 L465.20,100.89 L465.60,100.91 L466.00,100.93 L466.40,100.94 L466.80,100.96 L467.20,100.97 L467.60,100.99 L468.00,101.00 L468.40,101.02 L468.80,101.03 L469.20,101.04 L469.60,101.05 L470.00,101.07 L470.40,101.08 L470.80,101.09 L471.20,101.10 L471.60,101.11 L472.00,101.12 L472.40,101.13 L472.80,101.14 L473.20,101.15 L473.60,101.16 L474.00,101.16 L474.40,101.17 L474.80,101.18 L475.20,101.19 L475.60,101.20 L476.00,101.20 L476.40,101.21 L476.80,101.22 L477.20,101.22 L477.60,101.23 L478.00,101.23 L478.40,101.24 L478.80,101.24 L479.20,101.25 L479.60,101.26 L480.00,101.26 L480.40,101.27 L480.80,101.27 L481.20,101.27 L481.60,101.28 L482.00,101.28 L482.40,101.29 L482.80,101.29 L483.20,101.29 L483.60,101.30 L484.00,101.30 L484.40,101.31 L484.80,101.31 L485.20,101.31 L485.60,101.31 L486.00,101.32 L486.40,101.32 L486.80,101.32 L487.20,101.33 L487.60,101.33 L488.00,101.33 L488.40,101.33 L488.80,101.34 L489.20,101.34 L489.60,101.34 L490.00,101.34 L490.40,101.34" fill="none" stroke="#c4363a" stroke-width="1.3" stroke-linejoin="round"/>
<path d="M380.80,101.40 L381.20,101.40 L381.60,101.40 L382.00,101.40 L382.40,101.40 L382.80,101.40 L383.20,101.40 L383.60,101.40 L384.00,101.40 L384.40,101.40 L384.80,101.40 L385.20,101.40 L385.60,101.40 L386.00,101.40 L386.40,101.40 L386.80,101.40 L387.20,101.40 L387.60,101.40 L388.00,101.40 L388.40,101.40 L388.80,101.40 L389.20,101.40 L389.60,101.40 L390.00,101.40 L390.40,101.40 L390.80,101.40 L391.20,101.40 L391.60,101.40 L392.00,100.07 L392.40,93.97 L392.80,86.79 L393.20,79.88 L393.60,73.69 L394.00,68.33 L394.40,63.80 L394.80,60.04 L395.20,56.99 L395.60,54.55 L396.00,52.66 L396.40,51.25 L396.80,50.24 L397.20,49.59 L397.60,49.24 L398.00,49.15 L398.40,49.28 L398.80,49.59 L399.20,50.07 L399.60,50.67 L400.00,51.38 L400.40,52.19 L400.80,53.07 L401.20,54.00 L401.60,54.98 L402.00,56.00 L402.40,57.05 L402.80,58.11 L403.20,59.19 L403.60,60.27 L404.00,61.35 L404.40,62.43 L404.80,63.50 L405.20,64.56 L405.60,65.60 L406.00,66.63 L406.40,67.65 L406.80,68.65 L407.20,69.62 L407.60,70.58 L408.00,71.51 L408.40,72.43 L408.80,73.32 L409.20,74.18 L409.60,75.03 L410.00,75.85 L410.40,76.65 L410.80,77.43 L411.20,78.19 L411.60,78.92 L412.00,79.63 L412.40,80.33 L412.80,81.00 L413.20,81.65 L413.60,82.28 L414.00,82.89 L414.40,83.48 L414.80,84.05 L415.20,84.61 L415.60,85.15 L416.00,85.67 L416.40,86.17 L416.80,86.66 L417.20,87.13 L417.60,87.59 L418.00,88.03 L418.40,88.46 L418.80,88.87 L419.20,89.27 L419.60,89.66 L420.00,90.03 L420.40,90.39 L420.80,90.74 L421.20,91.08 L421.60,91.41 L422.00,91.73 L422.40,92.03 L422.80,92.33 L423.20,92.62 L423.60,92.89 L424.00,93.16 L424.40,93.42 L424.80,93.67 L425.20,93.91 L425.60,94.15 L426.00,94.37 L426.40,94.59 L426.80,94.80 L427.20,95.01 L427.60,95.21 L428.00,95.40 L428.40,95.58 L428.80,95.76 L429.20,95.94 L429.60,96.11 L430.00,96.27 L430.40,96.42 L430.80,96.58 L431.20,96.72 L431.60,96.87 L432.00,97.00 L432.40,97.14 L432.80,97.27 L433.20,97.39 L433.60,97.51 L434.00,97.63 L434.40,97.74 L434.80,97.85 L435.20,97.96 L435.60,98.06 L436.00,98.16 L436.40,98.26 L436.80,98.35 L437.20,98.44 L437.60,98.53 L438.00,98.62 L438.40,98.70 L438.80,98.78 L439.20,98.85 L439.60,98.93 L440.00,99.00 L440.40,99.07 L440.80,99.14 L441.20,99.21 L441.60,99.27 L442.00,99.33 L442.40,99.39 L442.80,99.45 L443.20,99.51 L443.60,99.56 L444.00,99.61 L444.40,99.66 L444.80,99.71 L445.20,99.76 L445.60,99.81 L446.00,99.85 L446.40,99.90 L446.80,99.94 L447.20,99.98 L447.60,100.02 L448.00,100.06 L448.40,100.10 L448.80,100.14 L449.20,100.17 L449.60,100.21 L450.00,100.24 L450.40,100.27 L450.80,100.30 L451.20,100.33 L451.60,100.36 L452.00,100.39 L452.40,100.42 L452.80,100.45 L453.20,100.47 L453.60,100.50 L454.00,100.52 L454.40,100.55 L454.80,100.57 L455.20,100.59 L455.60,100.61 L456.00,100.64 L456.40,100.66 L456.80,100.68 L457.20,100.70 L457.60,100.72 L458.00,100.73 L458.40,100.75 L458.80,100.77 L459.20,100.79 L459.60,100.80 L460.00,100.82 L460.40,100.83 L460.80,100.85 L461.20,100.86 L461.60,100.88 L462.00,100.89 L462.40,100.91 L462.80,100.92 L463.20,100.93 L463.60,100.94 L464.00,100.96 L464.40,100.97 L464.80,100.98 L465.20,100.99 L465.60,101.00 L466.00,101.01 L466.40,101.02 L466.80,101.03 L467.20,101.04 L467.60,101.05 L468.00,101.06 L468.40,101.07 L468.80,101.08 L469.20,101.08 L469.60,101.09 L470.00,101.10 L470.40,101.11 L470.80,101.12 L471.20,101.12 L471.60,101.13 L472.00,101.14 L472.40,101.14 L472.80,101.15 L473.20,101.16 L473.60,101.16 L474.00,101.17 L474.40,101.17 L474.80,101.18 L475.20,101.19 L475.60,101.19 L476.00,101.20 L476.40,101.20 L476.80,101.21 L477.20,101.21 L477.60,101.22 L478.00,101.22 L478.40,101.22 L478.80,101.23 L479.20,101.23 L479.60,101.24 L480.00,101.24 L480.40,101.25 L480.80,101.25 L481.20,101.25 L481.60,101.26 L482.00,101.26 L482.40,101.26 L482.80,101.27 L483.20,101.27 L483.60,101.27 L484.00,101.28 L484.40,101.28 L484.80,101.28 L485.20,101.29 L485.60,101.29 L486.00,101.29 L486.40,101.29 L486.80,101.30 L487.20,101.30 L487.60,101.30 L488.00,101.30 L488.40,101.31 L488.80,101.31 L489.20,101.31 L489.60,101.31 L490.00,101.31 L490.40,101.32" fill="none" stroke="#3a7f48" stroke-width="1.3" stroke-linejoin="round"/>
<line x1="468.30" y1="33.40" x2="476.40" y2="33.40" stroke="#3a7f48" stroke-width="1.1"/>
<line x1="472.30" y1="32.00" x2="472.30" y2="34.00" stroke="#3a7f48" stroke-width="0.8"/>
<text x="479.20" y="35.80" font-size="7.0" stroke="#222" stroke-width="0.22" textLength="9.8" lengthAdjust="spacingAndGlyphs" fill="#222">CM</text>
<line x1="468.30" y1="41.70" x2="476.40" y2="41.70" stroke="#c4363a" stroke-width="1.1"/>
<line x1="472.30" y1="40.30" x2="472.30" y2="42.30" stroke="#c4363a" stroke-width="0.8"/>
<text x="479.20" y="44.10" font-size="7.0" stroke="#222" stroke-width="0.22" textLength="5.6" lengthAdjust="spacingAndGlyphs" fill="#222">IM</text>
<line x1="468.30" y1="50.00" x2="476.40" y2="50.00" stroke="#2c2a7e" stroke-width="1.1"/>
<line x1="472.30" y1="48.60" x2="472.30" y2="50.60" stroke="#2c2a7e" stroke-width="0.8"/>
<text x="479.20" y="52.40" font-size="7.0" stroke="#222" stroke-width="0.22" textLength="14.6" lengthAdjust="spacingAndGlyphs" fill="#222">NCM</text>
<rect x="44.80" y="141.95" width="48.30" height="23.50" stroke="#2b2a78" stroke-width="1.3" fill="none"/>
<text x="92.80" y="139.50" font-size="4.4" stroke="#2b2a78" stroke-width="0.22" text-anchor="end" textLength="22.4" lengthAdjust="spacingAndGlyphs" font-style="italic" fill="#2b2a78">Bone marrow</text>
<circle cx="48.20" cy="156.75" r="2.65" fill="#111"/>
<circle cx="48.20" cy="159.85" r="2.65" fill="#111"/>
<circle cx="65.70" cy="156.75" r="2.65" fill="#111"/>
<circle cx="65.70" cy="159.85" r="2.65" fill="#111"/>
<rect x="48.20" y="156.30" width="17.50" height="4.0" fill="#111"/>
<circle cx="48.20" cy="156.75" r="1.7" fill="#fff"/>
<circle cx="48.20" cy="159.85" r="1.7" fill="#fff"/>
<circle cx="65.70" cy="156.75" r="1.7" fill="#fff"/>
<circle cx="65.70" cy="159.85" r="1.7" fill="#fff"/>
<rect x="48.20" y="157.25" width="17.50" height="2.1" fill="#fff"/>
<line x1="50.70" y1="159.00" x2="63.20" y2="159.00" stroke="#aaa" stroke-width="0.5"/>
<path d="M51.60,154.60 A5.6,3.9 0 1 1 61.00,154.40" fill="none" stroke="#111" stroke-width="1.45"/>
<path d="M50.30,153.60 L52.80,153.60 L51.70,155.60Z" fill="#111"/>
<text x="55.00" y="153.20" font-size="3.6" stroke="#444" stroke-width="0.22" font-style="italic" fill="#444">ρ</text>
<line x1="68.20" y1="158.30" x2="75.40" y2="158.30" stroke="#111" stroke-width="1.1"/>
<path d="M75.40,158.30 L73.10,156.69 L73.10,159.91Z" fill="#111"/>
<rect x="76.10" y="153.40" width="15.80" height="8.90" stroke="#111" stroke-width="1.0" fill="#fff"/>
<text x="84.00" y="159.20" font-size="3.4" stroke="#333" stroke-width="0.22" text-anchor="middle" textLength="7" lengthAdjust="spacingAndGlyphs" fill="#333">MyP</text>
<text x="83.20" y="150.80" font-size="3.6" stroke="#444" stroke-width="0.22" font-style="italic" fill="#444">Δ</text>
<rect x="100.00" y="141.75" width="62.60" height="24.00" stroke="#b8543c" stroke-width="1.3" fill="none"/>
<text x="100.60" y="139.60" font-size="4.4" stroke="#b8543c" stroke-width="0.22" textLength="9.2" lengthAdjust="spacingAndGlyphs" font-style="italic" fill="#b8543c">Blood</text>
<line x1="93.50" y1="158.30" x2="101.30" y2="158.30" stroke="#111" stroke-width="1.1"/>
<path d="M101.30,158.30 L99.00,156.69 L99.00,159.91Z" fill="#111"/>
<rect x="100.60" y="173.60" width="61.00" height="9.00" stroke="#111" stroke-width="1.0" fill="#fff"/>
<text x="131.10" y="179.90" font-size="5.3" stroke="#222" stroke-width="0.22" text-anchor="middle" textLength="47.2" lengthAdjust="spacingAndGlyphs" fill="#222">Death/outside circulation</text>
<line x1="108.60" y1="163.20" x2="108.60" y2="173.40" stroke="#111" stroke-width="1.1"/>
<path d="M108.60,173.40 L110.07,171.30 L107.13,171.30Z" fill="#111"/>
<text x="109.80" y="170.60" font-size="3.6" stroke="#444" stroke-width="0.22" font-style="italic" fill="#444">k</text>
<line x1="131.20" y1="163.20" x2="131.20" y2="173.40" stroke="#111" stroke-width="1.1"/>
<path d="M131.20,173.40 L132.67,171.30 L129.73,171.30Z" fill="#111"/>
<text x="132.40" y="170.60" font-size="3.6" stroke="#444" stroke-width="0.22" font-style="italic" fill="#444">k</text>
<line x1="154.20" y1="163.20" x2="154.20" y2="173.40" stroke="#111" stroke-width="1.1"/>
<path d="M154.20,173.40 L155.67,171.30 L152.73,171.30Z" fill="#111"/>
<text x="155.40" y="170.60" font-size="3.6" stroke="#444" stroke-width="0.22" font-style="italic" fill="#444">k</text>
<path d="M115.83,156.30 L115.59,156.85 L115.18,157.34 L114.83,157.79 L114.66,158.27 L114.69,158.82 L114.78,159.45 L114.74,160.06 L114.45,160.55 L113.93,160.85 L113.31,161.01 L112.76,161.17 L112.34,161.45 L112.04,161.92 L111.75,162.48 L111.35,162.95 L110.83,163.18 L110.24,163.12 L109.64,162.88 L109.10,162.68 L108.60,162.67 L108.08,162.87 L107.52,163.15 L106.92,163.30 L106.37,163.18 L105.92,162.78 L105.57,162.24 L105.25,161.76 L104.86,161.45 L104.32,161.31 L103.70,161.20 L103.13,160.97 L102.75,160.55 L102.62,159.96 L102.66,159.33 L102.69,158.75 L102.54,158.27 L102.19,157.84 L101.75,157.38 L101.42,156.86 L101.37,156.30 L101.61,155.75 L102.02,155.26 L102.37,154.81 L102.54,154.33 L102.51,153.78 L102.42,153.15 L102.46,152.54 L102.75,152.05 L103.27,151.75 L103.89,151.59 L104.44,151.43 L104.86,151.15 L105.16,150.68 L105.45,150.12 L105.85,149.65 L106.37,149.42 L106.96,149.48 L107.56,149.72 L108.10,149.92 L108.60,149.93 L109.12,149.73 L109.68,149.45 L110.28,149.30 L110.83,149.42 L111.28,149.82 L111.63,150.36 L111.95,150.84 L112.34,151.15 L112.88,151.29 L113.50,151.40 L114.07,151.63 L114.45,152.05 L114.58,152.64 L114.54,153.27 L114.51,153.85 L114.66,154.33 L115.01,154.76 L115.45,155.22 L115.78,155.74Z" fill="url(#gG)" stroke="#2d6e32" stroke-width="0.6"/>
<path d="M103.90,156.00 A4.7,6.1 0 0 0 113.30,156.00 L110.40,156.00 A1.8,3.0 0 0 1 106.80,156.00 Z" fill="#1c2585"/>
<path d="M138.43,156.40 L138.19,156.95 L137.78,157.44 L137.43,157.89 L137.26,158.37 L137.29,158.92 L137.38,159.55 L137.34,160.16 L137.05,160.65 L136.53,160.95 L135.91,161.11 L135.36,161.27 L134.94,161.55 L134.64,162.02 L134.35,162.58 L133.95,163.05 L133.43,163.28 L132.84,163.22 L132.24,162.98 L131.70,162.78 L131.20,162.77 L130.68,162.97 L130.12,163.25 L129.52,163.40 L128.97,163.28 L128.52,162.88 L128.17,162.34 L127.85,161.86 L127.46,161.55 L126.92,161.41 L126.30,161.30 L125.73,161.07 L125.35,160.65 L125.22,160.06 L125.26,159.43 L125.29,158.85 L125.14,158.37 L124.79,157.94 L124.35,157.48 L124.02,156.96 L123.97,156.40 L124.21,155.85 L124.62,155.36 L124.97,154.91 L125.14,154.43 L125.11,153.88 L125.02,153.25 L125.06,152.64 L125.35,152.15 L125.87,151.85 L126.49,151.69 L127.04,151.53 L127.46,151.25 L127.76,150.78 L128.05,150.22 L128.45,149.75 L128.97,149.52 L129.56,149.58 L130.16,149.82 L130.70,150.02 L131.20,150.03 L131.72,149.83 L132.28,149.55 L132.88,149.40 L133.43,149.52 L133.88,149.92 L134.23,150.46 L134.55,150.94 L134.94,151.25 L135.48,151.39 L136.10,151.50 L136.67,151.73 L137.05,152.15 L137.18,152.74 L137.14,153.37 L137.11,153.95 L137.26,154.43 L137.61,154.86 L138.05,155.32 L138.38,155.84Z" fill="url(#gR)" stroke="#9a2a14" stroke-width="0.6"/>
<path d="M126.50,156.10 A4.7,6.1 0 0 0 135.90,156.10 L133.00,156.10 A1.8,3.0 0 0 1 129.40,156.10 Z" fill="#4a1a86"/>
<path d="M161.43,156.80 L161.19,157.35 L160.78,157.84 L160.43,158.29 L160.26,158.77 L160.29,159.32 L160.38,159.95 L160.34,160.56 L160.05,161.05 L159.53,161.35 L158.91,161.51 L158.36,161.67 L157.94,161.95 L157.64,162.42 L157.35,162.98 L156.95,163.45 L156.43,163.68 L155.84,163.62 L155.24,163.38 L154.70,163.18 L154.20,163.17 L153.68,163.37 L153.12,163.65 L152.52,163.80 L151.97,163.68 L151.52,163.28 L151.17,162.74 L150.85,162.26 L150.46,161.95 L149.92,161.81 L149.30,161.70 L148.73,161.47 L148.35,161.05 L148.22,160.46 L148.26,159.83 L148.29,159.25 L148.14,158.77 L147.79,158.34 L147.35,157.88 L147.02,157.36 L146.97,156.80 L147.21,156.25 L147.62,155.76 L147.97,155.31 L148.14,154.83 L148.11,154.28 L148.02,153.65 L148.06,153.04 L148.35,152.55 L148.87,152.25 L149.49,152.09 L150.04,151.93 L150.46,151.65 L150.76,151.18 L151.05,150.62 L151.45,150.15 L151.97,149.92 L152.56,149.98 L153.16,150.22 L153.70,150.42 L154.20,150.43 L154.72,150.23 L155.28,149.95 L155.88,149.80 L156.43,149.92 L156.88,150.32 L157.23,150.86 L157.55,151.34 L157.94,151.65 L158.48,151.79 L159.10,151.90 L159.67,152.13 L160.05,152.55 L160.18,153.14 L160.14,153.77 L160.11,154.35 L160.26,154.83 L160.61,155.26 L161.05,155.72 L161.38,156.24Z" fill="url(#gB)" stroke="#12126a" stroke-width="0.7"/>
<path d="M151.60,157.30 A2.8,2.8 0 1 0 156.80,157.30" fill="none" stroke="#3c3cd8" stroke-width="0.8"/>
<text x="154.20" y="155.80" font-size="3.6" text-anchor="middle" textLength="8" lengthAdjust="spacingAndGlyphs" font-weight="bold" fill="#6c6ce4">NCM</text>
<line x1="115.80" y1="157.20" x2="123.80" y2="157.20" stroke="#111" stroke-width="1.1"/>
<path d="M123.80,157.20 L121.50,155.59 L121.50,158.81Z" fill="#111"/>
<text x="118.20" y="154.00" font-size="3.6" stroke="#444" stroke-width="0.22" font-style="italic" fill="#444">k</text>
<line x1="138.40" y1="157.20" x2="146.80" y2="157.20" stroke="#111" stroke-width="1.1"/>
<path d="M146.80,157.20 L144.50,155.59 L144.50,158.81Z" fill="#111"/>
<text x="141.00" y="154.00" font-size="3.6" stroke="#444" stroke-width="0.22" font-style="italic" fill="#444">k</text>
<rect x="187.70" y="141.95" width="48.30" height="23.50" stroke="#2b2a78" stroke-width="1.3" fill="none"/>
<text x="235.70" y="139.50" font-size="4.4" stroke="#2b2a78" stroke-width="0.22" text-anchor="end" textLength="22.4" lengthAdjust="spacingAndGlyphs" font-style="italic" fill="#2b2a78">Bone marrow</text>
<circle cx="191.10" cy="156.75" r="2.65" fill="#111"/>
<circle cx="191.10" cy="159.85" r="2.65" fill="#111"/>
<circle cx="208.60" cy="156.75" r="2.65" fill="#111"/>
<circle cx="208.60" cy="159.85" r="2.65" fill="#111"/>
<rect x="191.10" y="156.30" width="17.50" height="4.0" fill="#111"/>
<circle cx="191.10" cy="156.75" r="1.7" fill="#fff"/>
<circle cx="191.10" cy="159.85" r="1.7" fill="#fff"/>
<circle cx="208.60" cy="156.75" r="1.7" fill="#fff"/>
<circle cx="208.60" cy="159.85" r="1.7" fill="#fff"/>
<rect x="191.10" y="157.25" width="17.50" height="2.1" fill="#fff"/>
<line x1="193.60" y1="159.00" x2="206.10" y2="159.00" stroke="#aaa" stroke-width="0.5"/>
<path d="M194.50,154.60 A5.6,3.9 0 1 1 203.90,154.40" fill="none" stroke="#111" stroke-width="1.45"/>
<path d="M193.20,153.60 L195.70,153.60 L194.60,155.60Z" fill="#111"/>
<text x="197.90" y="153.20" font-size="3.6" stroke="#444" stroke-width="0.22" font-style="italic" fill="#444">ρ</text>
<line x1="211.10" y1="158.30" x2="218.30" y2="158.30" stroke="#111" stroke-width="1.1"/>
<path d="M218.30,158.30 L216.00,156.69 L216.00,159.91Z" fill="#111"/>
<rect x="219.00" y="153.40" width="15.80" height="8.90" stroke="#111" stroke-width="1.0" fill="#fff"/>
<text x="226.90" y="159.20" font-size="3.4" stroke="#333" stroke-width="0.22" text-anchor="middle" textLength="7" lengthAdjust="spacingAndGlyphs" fill="#333">MyP</text>
<text x="226.10" y="150.80" font-size="3.6" stroke="#444" stroke-width="0.22" font-style="italic" fill="#444">Δ</text>
<rect x="243.30" y="141.75" width="86.50" height="24.10" stroke="#b8543c" stroke-width="1.3" fill="none"/>
<text x="244.00" y="139.60" font-size="4.4" stroke="#b8543c" stroke-width="0.22" textLength="9.4" lengthAdjust="spacingAndGlyphs" font-style="italic" fill="#b8543c">Blood</text>
<line x1="236.50" y1="158.30" x2="244.60" y2="158.30" stroke="#111" stroke-width="1.1"/>
<path d="M244.60,158.30 L242.30,156.69 L242.30,159.91Z" fill="#111"/>
<rect x="244.00" y="173.60" width="86.00" height="9.00" stroke="#111" stroke-width="1.0" fill="#fff"/>
<text x="287.00" y="179.90" font-size="5.3" stroke="#222" stroke-width="0.22" text-anchor="middle" textLength="47.2" lengthAdjust="spacingAndGlyphs" fill="#222">Death/outside circulation</text>
<line x1="252.30" y1="163.20" x2="252.30" y2="173.40" stroke="#111" stroke-width="1.1"/>
<path d="M252.30,173.40 L253.77,171.30 L250.83,171.30Z" fill="#111"/>
<text x="253.50" y="170.60" font-size="3.6" stroke="#444" stroke-width="0.22" font-style="italic" fill="#444">k</text>
<line x1="275.10" y1="163.20" x2="275.10" y2="173.40" stroke="#111" stroke-width="1.1"/>
<path d="M275.10,173.40 L276.57,171.30 L273.63,171.30Z" fill="#111"/>
<text x="276.30" y="170.60" font-size="3.6" stroke="#444" stroke-width="0.22" font-style="italic" fill="#444">k</text>
<line x1="297.00" y1="163.20" x2="297.00" y2="173.40" stroke="#111" stroke-width="1.1"/>
<path d="M297.00,173.40 L298.47,171.30 L295.53,171.30Z" fill="#111"/>
<text x="298.20" y="170.60" font-size="3.6" stroke="#444" stroke-width="0.22" font-style="italic" fill="#444">k</text>
<line x1="320.10" y1="163.20" x2="320.10" y2="173.40" stroke="#111" stroke-width="1.1"/>
<path d="M320.10,173.40 L321.57,171.30 L318.63,171.30Z" fill="#111"/>
<text x="321.30" y="170.60" font-size="3.6" stroke="#444" stroke-width="0.22" font-style="italic" fill="#444">k</text>
<path d="M259.53,156.20 L259.29,156.75 L258.88,157.24 L258.53,157.69 L258.36,158.17 L258.39,158.72 L258.48,159.35 L258.44,159.96 L258.15,160.45 L257.63,160.75 L257.01,160.91 L256.46,161.07 L256.04,161.35 L255.74,161.82 L255.45,162.38 L255.05,162.85 L254.53,163.08 L253.94,163.02 L253.34,162.78 L252.80,162.58 L252.30,162.57 L251.78,162.77 L251.22,163.05 L250.62,163.20 L250.07,163.08 L249.62,162.68 L249.27,162.14 L248.95,161.66 L248.56,161.35 L248.02,161.21 L247.40,161.10 L246.83,160.87 L246.45,160.45 L246.32,159.86 L246.36,159.23 L246.39,158.65 L246.24,158.17 L245.89,157.74 L245.45,157.28 L245.12,156.76 L245.07,156.20 L245.31,155.65 L245.72,155.16 L246.07,154.71 L246.24,154.23 L246.21,153.68 L246.12,153.05 L246.16,152.44 L246.45,151.95 L246.97,151.65 L247.59,151.49 L248.14,151.33 L248.56,151.05 L248.86,150.58 L249.15,150.02 L249.55,149.55 L250.07,149.32 L250.66,149.38 L251.26,149.62 L251.80,149.82 L252.30,149.83 L252.82,149.63 L253.38,149.35 L253.98,149.20 L254.53,149.32 L254.98,149.72 L255.33,150.26 L255.65,150.74 L256.04,151.05 L256.58,151.19 L257.20,151.30 L257.77,151.53 L258.15,151.95 L258.28,152.54 L258.24,153.17 L258.21,153.75 L258.36,154.23 L258.71,154.66 L259.15,155.12 L259.48,155.64Z" fill="url(#gG)" stroke="#2d6e32" stroke-width="0.6"/>
<path d="M247.60,155.90 A4.7,6.1 0 0 0 257.00,155.90 L254.10,155.90 A1.8,3.0 0 0 1 250.50,155.90 Z" fill="#1c2585"/>
<path d="M282.33,156.20 L282.09,156.75 L281.68,157.24 L281.33,157.69 L281.16,158.17 L281.19,158.72 L281.28,159.35 L281.24,159.96 L280.95,160.45 L280.43,160.75 L279.81,160.91 L279.26,161.07 L278.84,161.35 L278.54,161.82 L278.25,162.38 L277.85,162.85 L277.33,163.08 L276.74,163.02 L276.14,162.78 L275.60,162.58 L275.10,162.57 L274.58,162.77 L274.02,163.05 L273.42,163.20 L272.87,163.08 L272.42,162.68 L272.07,162.14 L271.75,161.66 L271.36,161.35 L270.82,161.21 L270.20,161.10 L269.63,160.87 L269.25,160.45 L269.12,159.86 L269.16,159.23 L269.19,158.65 L269.04,158.17 L268.69,157.74 L268.25,157.28 L267.92,156.76 L267.87,156.20 L268.11,155.65 L268.52,155.16 L268.87,154.71 L269.04,154.23 L269.01,153.68 L268.92,153.05 L268.96,152.44 L269.25,151.95 L269.77,151.65 L270.39,151.49 L270.94,151.33 L271.36,151.05 L271.66,150.58 L271.95,150.02 L272.35,149.55 L272.87,149.32 L273.46,149.38 L274.06,149.62 L274.60,149.82 L275.10,149.83 L275.62,149.63 L276.18,149.35 L276.78,149.20 L277.33,149.32 L277.78,149.72 L278.13,150.26 L278.45,150.74 L278.84,151.05 L279.38,151.19 L280.00,151.30 L280.57,151.53 L280.95,151.95 L281.08,152.54 L281.04,153.17 L281.01,153.75 L281.16,154.23 L281.51,154.66 L281.95,155.12 L282.28,155.64Z" fill="url(#gR)" stroke="#9a2a14" stroke-width="0.6"/>
<path d="M270.40,155.90 A4.7,6.1 0 0 0 279.80,155.90 L276.90,155.90 A1.8,3.0 0 0 1 273.30,155.90 Z" fill="#4a1a86"/>
<path d="M304.23,156.20 L303.99,156.75 L303.58,157.24 L303.23,157.69 L303.06,158.17 L303.09,158.72 L303.18,159.35 L303.14,159.96 L302.85,160.45 L302.33,160.75 L301.71,160.91 L301.16,161.07 L300.74,161.35 L300.44,161.82 L300.15,162.38 L299.75,162.85 L299.23,163.08 L298.64,163.02 L298.04,162.78 L297.50,162.58 L297.00,162.57 L296.48,162.77 L295.92,163.05 L295.32,163.20 L294.77,163.08 L294.32,162.68 L293.97,162.14 L293.65,161.66 L293.26,161.35 L292.72,161.21 L292.10,161.10 L291.53,160.87 L291.15,160.45 L291.02,159.86 L291.06,159.23 L291.09,158.65 L290.94,158.17 L290.59,157.74 L290.15,157.28 L289.82,156.76 L289.77,156.20 L290.01,155.65 L290.42,155.16 L290.77,154.71 L290.94,154.23 L290.91,153.68 L290.82,153.05 L290.86,152.44 L291.15,151.95 L291.67,151.65 L292.29,151.49 L292.84,151.33 L293.26,151.05 L293.56,150.58 L293.85,150.02 L294.25,149.55 L294.77,149.32 L295.36,149.38 L295.96,149.62 L296.50,149.82 L297.00,149.83 L297.52,149.63 L298.08,149.35 L298.68,149.20 L299.23,149.32 L299.68,149.72 L300.03,150.26 L300.35,150.74 L300.74,151.05 L301.28,151.19 L301.90,151.30 L302.47,151.53 L302.85,151.95 L302.98,152.54 L302.94,153.17 L302.91,153.75 L303.06,154.23 L303.41,154.66 L303.85,155.12 L304.18,155.64Z" fill="url(#gR)" stroke="#9a2a14" stroke-width="0.6"/>
<path d="M292.30,155.90 A4.7,6.1 0 0 0 301.70,155.90 L298.80,155.90 A1.8,3.0 0 0 1 295.20,155.90 Z" fill="#4a1a86"/>
<path d="M327.33,156.20 L327.09,156.75 L326.68,157.24 L326.33,157.69 L326.16,158.17 L326.19,158.72 L326.28,159.35 L326.24,159.96 L325.95,160.45 L325.43,160.75 L324.81,160.91 L324.26,161.07 L323.84,161.35 L323.54,161.82 L323.25,162.38 L322.85,162.85 L322.33,163.08 L321.74,163.02 L321.14,162.78 L320.60,162.58 L320.10,162.57 L319.58,162.77 L319.02,163.05 L318.42,163.20 L317.87,163.08 L317.42,162.68 L317.07,162.14 L316.75,161.66 L316.36,161.35 L315.82,161.21 L315.20,161.10 L314.63,160.87 L314.25,160.45 L314.12,159.86 L314.16,159.23 L314.19,158.65 L314.04,158.17 L313.69,157.74 L313.25,157.28 L312.92,156.76 L312.87,156.20 L313.11,155.65 L313.52,155.16 L313.87,154.71 L314.04,154.23 L314.01,153.68 L313.92,153.05 L313.96,152.44 L314.25,151.95 L314.77,151.65 L315.39,151.49 L315.94,151.33 L316.36,151.05 L316.66,150.58 L316.95,150.02 L317.35,149.55 L317.87,149.32 L318.46,149.38 L319.06,149.62 L319.60,149.82 L320.10,149.83 L320.62,149.63 L321.18,149.35 L321.78,149.20 L322.33,149.32 L322.78,149.72 L323.13,150.26 L323.45,150.74 L323.84,151.05 L324.38,151.19 L325.00,151.30 L325.57,151.53 L325.95,151.95 L326.08,152.54 L326.04,153.17 L326.01,153.75 L326.16,154.23 L326.51,154.66 L326.95,155.12 L327.28,155.64Z" fill="url(#gB)" stroke="#12126a" stroke-width="0.7"/>
<path d="M317.50,156.70 A2.8,2.8 0 1 0 322.70,156.70" fill="none" stroke="#3c3cd8" stroke-width="0.8"/>
<text x="320.10" y="155.20" font-size="3.6" text-anchor="middle" textLength="8" lengthAdjust="spacingAndGlyphs" font-weight="bold" fill="#6c6ce4">NCM</text>
<line x1="259.50" y1="157.00" x2="267.70" y2="157.00" stroke="#111" stroke-width="1.1"/>
<path d="M267.70,157.00 L265.40,155.39 L265.40,158.61Z" fill="#111"/>
<text x="261.80" y="154.00" font-size="3.6" stroke="#444" stroke-width="0.22" font-style="italic" fill="#444">k</text>
<line x1="282.30" y1="157.00" x2="289.60" y2="157.00" stroke="#111" stroke-width="1.1"/>
<path d="M289.60,157.00 L287.30,155.39 L287.30,158.61Z" fill="#111"/>
<text x="284.60" y="154.00" font-size="3.6" stroke="#444" stroke-width="0.22" font-style="italic" fill="#444">k</text>
<line x1="304.20" y1="157.00" x2="312.70" y2="157.00" stroke="#111" stroke-width="1.1"/>
<path d="M312.70,157.00 L310.40,155.39 L310.40,158.61Z" fill="#111"/>
<text x="306.50" y="154.00" font-size="3.6" stroke="#444" stroke-width="0.22" font-style="italic" fill="#444">k</text>
<text x="296.20" y="148.20" font-size="3.6" stroke="#444" stroke-width="0.22" font-style="italic" fill="#444">Δ</text>
<rect x="345.00" y="141.95" width="48.30" height="23.50" stroke="#2b2a78" stroke-width="1.3" fill="none"/>
<text x="393.00" y="139.50" font-size="4.4" stroke="#2b2a78" stroke-width="0.22" text-anchor="end" textLength="22.4" lengthAdjust="spacingAndGlyphs" font-style="italic" fill="#2b2a78">Bone marrow</text>
<circle cx="348.40" cy="156.75" r="2.65" fill="#111"/>
<circle cx="348.40" cy="159.85" r="2.65" fill="#111"/>
<circle cx="365.90" cy="156.75" r="2.65" fill="#111"/>
<circle cx="365.90" cy="159.85" r="2.65" fill="#111"/>
<rect x="348.40" y="156.30" width="17.50" height="4.0" fill="#111"/>
<circle cx="348.40" cy="156.75" r="1.7" fill="#fff"/>
<circle cx="348.40" cy="159.85" r="1.7" fill="#fff"/>
<circle cx="365.90" cy="156.75" r="1.7" fill="#fff"/>
<circle cx="365.90" cy="159.85" r="1.7" fill="#fff"/>
<rect x="348.40" y="157.25" width="17.50" height="2.1" fill="#fff"/>
<line x1="350.90" y1="159.00" x2="363.40" y2="159.00" stroke="#aaa" stroke-width="0.5"/>
<path d="M351.80,154.60 A5.6,3.9 0 1 1 361.20,154.40" fill="none" stroke="#111" stroke-width="1.45"/>
<path d="M350.50,153.60 L353.00,153.60 L351.90,155.60Z" fill="#111"/>
<text x="355.20" y="153.20" font-size="3.6" stroke="#444" stroke-width="0.22" font-style="italic" fill="#444">ρ</text>
<line x1="368.40" y1="158.30" x2="375.60" y2="158.30" stroke="#111" stroke-width="1.1"/>
<path d="M375.60,158.30 L373.30,156.69 L373.30,159.91Z" fill="#111"/>
<rect x="376.30" y="153.40" width="15.80" height="8.90" stroke="#111" stroke-width="1.0" fill="#fff"/>
<text x="384.20" y="159.20" font-size="3.4" stroke="#333" stroke-width="0.22" text-anchor="middle" textLength="7" lengthAdjust="spacingAndGlyphs" fill="#333">MyP</text>
<text x="383.40" y="150.80" font-size="3.6" stroke="#444" stroke-width="0.22" font-style="italic" fill="#444">Δ</text>
<rect x="400.20" y="141.90" width="39.60" height="24.40" stroke="#b8543c" stroke-width="1.3" fill="none"/>
<text x="401.00" y="139.80" font-size="4.4" stroke="#b8543c" stroke-width="0.22" textLength="8.8" lengthAdjust="spacingAndGlyphs" font-style="italic" fill="#b8543c">Blood</text>
<rect x="468.30" y="142.20" width="19.50" height="24.40" stroke="#b8543c" stroke-width="1.3" fill="none"/>
<text x="470.80" y="140.00" font-size="4.4" stroke="#b8543c" stroke-width="0.22" textLength="8.8" lengthAdjust="spacingAndGlyphs" font-style="italic" fill="#b8543c">Blood</text>
<line x1="393.80" y1="158.30" x2="402.00" y2="158.30" stroke="#111" stroke-width="1.1"/>
<path d="M402.00,158.30 L399.70,156.69 L399.70,159.91Z" fill="#111"/>
<rect x="400.60" y="173.60" width="87.00" height="9.00" stroke="#111" stroke-width="1.0" fill="#fff"/>
<text x="444.10" y="179.90" font-size="5.3" stroke="#222" stroke-width="0.22" text-anchor="middle" textLength="47.2" lengthAdjust="spacingAndGlyphs" fill="#222">Death/outside circulation</text>
<line x1="409.30" y1="163.20" x2="409.30" y2="173.40" stroke="#111" stroke-width="1.1"/>
<path d="M409.30,173.40 L410.77,171.30 L407.83,171.30Z" fill="#111"/>
<text x="410.50" y="170.60" font-size="3.6" stroke="#444" stroke-width="0.22" font-style="italic" fill="#444">k</text>
<line x1="430.60" y1="163.20" x2="430.60" y2="173.40" stroke="#111" stroke-width="1.1"/>
<path d="M430.60,173.40 L432.07,171.30 L429.13,171.30Z" fill="#111"/>
<text x="431.80" y="170.60" font-size="3.6" stroke="#444" stroke-width="0.22" font-style="italic" fill="#444">k</text>
<line x1="453.70" y1="163.20" x2="453.70" y2="173.40" stroke="#111" stroke-width="1.1"/>
<path d="M453.70,173.40 L455.17,171.30 L452.23,171.30Z" fill="#111"/>
<text x="454.90" y="170.60" font-size="3.6" stroke="#444" stroke-width="0.22" font-style="italic" fill="#444">k</text>
<line x1="477.60" y1="163.20" x2="477.60" y2="173.40" stroke="#111" stroke-width="1.1"/>
<path d="M477.60,173.40 L479.07,171.30 L476.13,171.30Z" fill="#111"/>
<text x="478.80" y="170.60" font-size="3.6" stroke="#444" stroke-width="0.22" font-style="italic" fill="#444">k</text>
<path d="M416.53,156.60 L416.29,157.15 L415.88,157.64 L415.53,158.09 L415.36,158.57 L415.39,159.12 L415.48,159.75 L415.44,160.36 L415.15,160.85 L414.63,161.15 L414.01,161.31 L413.46,161.47 L413.04,161.75 L412.74,162.22 L412.45,162.78 L412.05,163.25 L411.53,163.48 L410.94,163.42 L410.34,163.18 L409.80,162.98 L409.30,162.97 L408.78,163.17 L408.22,163.45 L407.62,163.60 L407.07,163.48 L406.62,163.08 L406.27,162.54 L405.95,162.06 L405.56,161.75 L405.02,161.61 L404.40,161.50 L403.83,161.27 L403.45,160.85 L403.32,160.26 L403.36,159.63 L403.39,159.05 L403.24,158.57 L402.89,158.14 L402.45,157.68 L402.12,157.16 L402.07,156.60 L402.31,156.05 L402.72,155.56 L403.07,155.11 L403.24,154.63 L403.21,154.08 L403.12,153.45 L403.16,152.84 L403.45,152.35 L403.97,152.05 L404.59,151.89 L405.14,151.73 L405.56,151.45 L405.86,150.98 L406.15,150.42 L406.55,149.95 L407.07,149.72 L407.66,149.78 L408.26,150.02 L408.80,150.22 L409.30,150.23 L409.82,150.03 L410.38,149.75 L410.98,149.60 L411.53,149.72 L411.98,150.12 L412.33,150.66 L412.65,151.14 L413.04,151.45 L413.58,151.59 L414.20,151.70 L414.77,151.93 L415.15,152.35 L415.28,152.94 L415.24,153.57 L415.21,154.15 L415.36,154.63 L415.71,155.06 L416.15,155.52 L416.48,156.04Z" fill="url(#gG)" stroke="#2d6e32" stroke-width="0.6"/>
<path d="M404.60,156.30 A4.7,6.1 0 0 0 414.00,156.30 L411.10,156.30 A1.8,3.0 0 0 1 407.50,156.30 Z" fill="#1c2585"/>
<path d="M437.83,156.60 L437.59,157.15 L437.18,157.64 L436.83,158.09 L436.66,158.57 L436.69,159.12 L436.78,159.75 L436.74,160.36 L436.45,160.85 L435.93,161.15 L435.31,161.31 L434.76,161.47 L434.34,161.75 L434.04,162.22 L433.75,162.78 L433.35,163.25 L432.83,163.48 L432.24,163.42 L431.64,163.18 L431.10,162.98 L430.60,162.97 L430.08,163.17 L429.52,163.45 L428.92,163.60 L428.37,163.48 L427.92,163.08 L427.57,162.54 L427.25,162.06 L426.86,161.75 L426.32,161.61 L425.70,161.50 L425.13,161.27 L424.75,160.85 L424.62,160.26 L424.66,159.63 L424.69,159.05 L424.54,158.57 L424.19,158.14 L423.75,157.68 L423.42,157.16 L423.37,156.60 L423.61,156.05 L424.02,155.56 L424.37,155.11 L424.54,154.63 L424.51,154.08 L424.42,153.45 L424.46,152.84 L424.75,152.35 L425.27,152.05 L425.89,151.89 L426.44,151.73 L426.86,151.45 L427.16,150.98 L427.45,150.42 L427.85,149.95 L428.37,149.72 L428.96,149.78 L429.56,150.02 L430.10,150.22 L430.60,150.23 L431.12,150.03 L431.68,149.75 L432.28,149.60 L432.83,149.72 L433.28,150.12 L433.63,150.66 L433.95,151.14 L434.34,151.45 L434.88,151.59 L435.50,151.70 L436.07,151.93 L436.45,152.35 L436.58,152.94 L436.54,153.57 L436.51,154.15 L436.66,154.63 L437.01,155.06 L437.45,155.52 L437.78,156.04Z" fill="url(#gR)" stroke="#9a2a14" stroke-width="0.6"/>
<path d="M425.90,156.30 A4.7,6.1 0 0 0 435.30,156.30 L432.40,156.30 A1.8,3.0 0 0 1 428.80,156.30 Z" fill="#4a1a86"/>
<path d="M460.93,157.00 L460.69,157.55 L460.28,158.04 L459.93,158.49 L459.76,158.97 L459.79,159.52 L459.88,160.15 L459.84,160.76 L459.55,161.25 L459.03,161.55 L458.41,161.71 L457.86,161.87 L457.44,162.15 L457.14,162.62 L456.85,163.18 L456.45,163.65 L455.93,163.88 L455.34,163.82 L454.74,163.58 L454.20,163.38 L453.70,163.37 L453.18,163.57 L452.62,163.85 L452.02,164.00 L451.47,163.88 L451.02,163.48 L450.67,162.94 L450.35,162.46 L449.96,162.15 L449.42,162.01 L448.80,161.90 L448.23,161.67 L447.85,161.25 L447.72,160.66 L447.76,160.03 L447.79,159.45 L447.64,158.97 L447.29,158.54 L446.85,158.08 L446.52,157.56 L446.47,157.00 L446.71,156.45 L447.12,155.96 L447.47,155.51 L447.64,155.03 L447.61,154.48 L447.52,153.85 L447.56,153.24 L447.85,152.75 L448.37,152.45 L448.99,152.29 L449.54,152.13 L449.96,151.85 L450.26,151.38 L450.55,150.82 L450.95,150.35 L451.47,150.12 L452.06,150.18 L452.66,150.42 L453.20,150.62 L453.70,150.63 L454.22,150.43 L454.78,150.15 L455.38,150.00 L455.93,150.12 L456.38,150.52 L456.73,151.06 L457.05,151.54 L457.44,151.85 L457.98,151.99 L458.60,152.10 L459.17,152.33 L459.55,152.75 L459.68,153.34 L459.64,153.97 L459.61,154.55 L459.76,155.03 L460.11,155.46 L460.55,155.92 L460.88,156.44Z" fill="url(#gR)" stroke="#9a2a14" stroke-width="0.6"/>
<path d="M449.00,156.70 A4.7,6.1 0 0 0 458.40,156.70 L455.50,156.70 A1.8,3.0 0 0 1 451.90,156.70 Z" fill="#4a1a86"/>
<path d="M484.83,157.00 L484.59,157.55 L484.18,158.04 L483.83,158.49 L483.66,158.97 L483.69,159.52 L483.78,160.15 L483.74,160.76 L483.45,161.25 L482.93,161.55 L482.31,161.71 L481.76,161.87 L481.34,162.15 L481.04,162.62 L480.75,163.18 L480.35,163.65 L479.83,163.88 L479.24,163.82 L478.64,163.58 L478.10,163.38 L477.60,163.37 L477.08,163.57 L476.52,163.85 L475.92,164.00 L475.37,163.88 L474.92,163.48 L474.57,162.94 L474.25,162.46 L473.86,162.15 L473.32,162.01 L472.70,161.90 L472.13,161.67 L471.75,161.25 L471.62,160.66 L471.66,160.03 L471.69,159.45 L471.54,158.97 L471.19,158.54 L470.75,158.08 L470.42,157.56 L470.37,157.00 L470.61,156.45 L471.02,155.96 L471.37,155.51 L471.54,155.03 L471.51,154.48 L471.42,153.85 L471.46,153.24 L471.75,152.75 L472.27,152.45 L472.89,152.29 L473.44,152.13 L473.86,151.85 L474.16,151.38 L474.45,150.82 L474.85,150.35 L475.37,150.12 L475.96,150.18 L476.56,150.42 L477.10,150.62 L477.60,150.63 L478.12,150.43 L478.68,150.15 L479.28,150.00 L479.83,150.12 L480.28,150.52 L480.63,151.06 L480.95,151.54 L481.34,151.85 L481.88,151.99 L482.50,152.10 L483.07,152.33 L483.45,152.75 L483.58,153.34 L483.54,153.97 L483.51,154.55 L483.66,155.03 L484.01,155.46 L484.45,155.92 L484.78,156.44Z" fill="url(#gB)" stroke="#12126a" stroke-width="0.7"/>
<path d="M475.00,157.50 A2.8,2.8 0 1 0 480.20,157.50" fill="none" stroke="#3c3cd8" stroke-width="0.8"/>
<text x="477.60" y="156.00" font-size="3.6" text-anchor="middle" textLength="8" lengthAdjust="spacingAndGlyphs" font-weight="bold" fill="#6c6ce4">NCM</text>
<line x1="416.50" y1="157.20" x2="423.20" y2="157.20" stroke="#111" stroke-width="1.1"/>
<path d="M423.20,157.20 L420.90,155.59 L420.90,158.81Z" fill="#111"/>
<text x="418.80" y="154.20" font-size="3.6" stroke="#444" stroke-width="0.22" font-style="italic" fill="#444">k</text>
<line x1="437.80" y1="157.20" x2="446.30" y2="157.20" stroke="#111" stroke-width="1.1"/>
<path d="M446.30,157.20 L444.00,155.59 L444.00,158.81Z" fill="#111"/>
<text x="440.10" y="154.20" font-size="3.6" stroke="#444" stroke-width="0.22" font-style="italic" fill="#444">k</text>
<line x1="460.90" y1="157.20" x2="470.20" y2="157.20" stroke="#111" stroke-width="1.1"/>
<path d="M470.20,157.20 L467.90,155.59 L467.90,158.81Z" fill="#111"/>
<text x="463.20" y="154.20" font-size="3.6" stroke="#444" stroke-width="0.22" font-style="italic" fill="#444">k</text>
<text x="452.60" y="148.60" font-size="3.6" stroke="#444" stroke-width="0.22" font-style="italic" fill="#444">Δ</text>
<text transform="translate(26.40,258.35) rotate(-90)" x="0" y="0" font-size="8.8" stroke="#1e1e1e" stroke-width="0.22" text-anchor="middle" textLength="67.5" lengthAdjust="spacingAndGlyphs" fill="#1e1e1e">Fraction enrichment</text>
<line x1="47.00" y1="295.70" x2="50.30" y2="295.70" stroke="#111" stroke-width="1.0"/>
<text x="43.50" y="297.90" font-size="6.2" stroke="#1e1e1e" stroke-width="0.22" text-anchor="end" textLength="11.8" lengthAdjust="spacingAndGlyphs" fill="#1e1e1e">0.00</text>
<line x1="47.00" y1="281.46" x2="50.30" y2="281.46" stroke="#111" stroke-width="1.0"/>
<text x="43.50" y="283.66" font-size="6.2" stroke="#1e1e1e" stroke-width="0.22" text-anchor="end" textLength="11.8" lengthAdjust="spacingAndGlyphs" fill="#1e1e1e">0.01</text>
<line x1="47.00" y1="267.22" x2="50.30" y2="267.22" stroke="#111" stroke-width="1.0"/>
<text x="43.50" y="269.42" font-size="6.2" stroke="#1e1e1e" stroke-width="0.22" text-anchor="end" textLength="11.8" lengthAdjust="spacingAndGlyphs" fill="#1e1e1e">0.02</text>
<line x1="47.00" y1="252.98" x2="50.30" y2="252.98" stroke="#111" stroke-width="1.0"/>
<text x="43.50" y="255.18" font-size="6.2" stroke="#1e1e1e" stroke-width="0.22" text-anchor="end" textLength="11.8" lengthAdjust="spacingAndGlyphs" fill="#1e1e1e">0.03</text>
<line x1="47.00" y1="238.74" x2="50.30" y2="238.74" stroke="#111" stroke-width="1.0"/>
<text x="43.50" y="240.94" font-size="6.2" stroke="#1e1e1e" stroke-width="0.22" text-anchor="end" textLength="11.8" lengthAdjust="spacingAndGlyphs" fill="#1e1e1e">0.04</text>
<line x1="47.00" y1="224.50" x2="50.30" y2="224.50" stroke="#111" stroke-width="1.0"/>
<text x="43.50" y="226.70" font-size="6.2" stroke="#1e1e1e" stroke-width="0.22" text-anchor="end" textLength="11.8" lengthAdjust="spacingAndGlyphs" fill="#1e1e1e">0.05</text>
<line x1="50.30" y1="295.70" x2="50.30" y2="299.20" stroke="#111" stroke-width="1.0"/>
<line x1="77.70" y1="295.70" x2="77.70" y2="299.20" stroke="#111" stroke-width="1.0"/>
<text x="77.70" y="307.40" font-size="6.2" stroke="#1e1e1e" stroke-width="0.22" text-anchor="middle" textLength="3.4" lengthAdjust="spacingAndGlyphs" fill="#1e1e1e">5</text>
<line x1="105.10" y1="295.70" x2="105.10" y2="299.20" stroke="#111" stroke-width="1.0"/>
<text x="105.10" y="307.40" font-size="6.2" stroke="#1e1e1e" stroke-width="0.22" text-anchor="middle" textLength="6.9" lengthAdjust="spacingAndGlyphs" fill="#1e1e1e">10</text>
<line x1="132.50" y1="295.70" x2="132.50" y2="299.20" stroke="#111" stroke-width="1.0"/>
<text x="132.50" y="307.40" font-size="6.2" stroke="#1e1e1e" stroke-width="0.22" text-anchor="middle" textLength="6.9" lengthAdjust="spacingAndGlyphs" fill="#1e1e1e">15</text>
<line x1="159.90" y1="295.70" x2="159.90" y2="299.20" stroke="#111" stroke-width="1.0"/>
<text x="159.90" y="307.40" font-size="6.2" stroke="#1e1e1e" stroke-width="0.22" text-anchor="middle" textLength="6.9" lengthAdjust="spacingAndGlyphs" fill="#1e1e1e">20</text>
<text x="106.60" y="319.20" font-size="8.8" stroke="#1e1e1e" stroke-width="0.22" text-anchor="middle" textLength="40.2" lengthAdjust="spacingAndGlyphs" fill="#1e1e1e">Time (days)</text>
<circle cx="50.30" cy="289.70" r="1.0" fill="#4a4a88"/>
<circle cx="50.30" cy="298.00" r="1.0" fill="#4a4a88"/>
<circle cx="50.30" cy="301.00" r="1.0" fill="#4a4a88"/>
<circle cx="72.30" cy="291.50" r="1.0" fill="#4a4a88"/>
<circle cx="73.60" cy="293.50" r="1.0" fill="#4a4a88"/>
<circle cx="77.40" cy="292.90" r="1.0" fill="#4a4a88"/>
<circle cx="77.50" cy="244.80" r="1.0" fill="#4a4a88"/>
<circle cx="82.90" cy="278.30" r="1.0" fill="#4a4a88"/>
<circle cx="82.90" cy="280.40" r="1.0" fill="#4a4a88"/>
<circle cx="82.90" cy="298.00" r="1.0" fill="#4a4a88"/>
<circle cx="88.20" cy="235.70" r="1.0" fill="#4a4a88"/>
<circle cx="88.20" cy="237.60" r="1.0" fill="#4a4a88"/>
<circle cx="88.20" cy="239.30" r="1.0" fill="#4a4a88"/>
<circle cx="88.60" cy="247.00" r="1.0" fill="#4a4a88"/>
<circle cx="88.20" cy="258.40" r="1.0" fill="#4a4a88"/>
<circle cx="88.20" cy="260.60" r="1.0" fill="#4a4a88"/>
<circle cx="88.20" cy="277.70" r="1.0" fill="#4a4a88"/>
<circle cx="93.70" cy="246.00" r="1.0" fill="#4a4a88"/>
<circle cx="93.80" cy="253.90" r="1.0" fill="#4a4a88"/>
<circle cx="93.60" cy="259.90" r="1.0" fill="#4a4a88"/>
<circle cx="93.60" cy="272.80" r="1.0" fill="#4a4a88"/>
<circle cx="99.20" cy="249.00" r="1.0" fill="#4a4a88"/>
<circle cx="99.60" cy="259.10" r="1.0" fill="#4a4a88"/>
<circle cx="99.60" cy="261.40" r="1.0" fill="#4a4a88"/>
<circle cx="104.70" cy="240.80" r="1.0" fill="#4a4a88"/>
<circle cx="104.90" cy="247.50" r="1.0" fill="#4a4a88"/>
<circle cx="102.70" cy="260.60" r="1.0" fill="#4a4a88"/>
<circle cx="105.70" cy="262.90" r="1.0" fill="#4a4a88"/>
<circle cx="109.50" cy="227.20" r="1.0" fill="#4a4a88"/>
<circle cx="110.50" cy="253.70" r="1.0" fill="#4a4a88"/>
<circle cx="115.90" cy="249.50" r="1.0" fill="#4a4a88"/>
<circle cx="115.90" cy="273.70" r="1.0" fill="#4a4a88"/>
<circle cx="115.90" cy="275.60" r="1.0" fill="#4a4a88"/>
<circle cx="115.90" cy="284.70" r="1.0" fill="#4a4a88"/>
<circle cx="121.40" cy="267.40" r="1.0" fill="#4a4a88"/>
<circle cx="121.40" cy="274.70" r="1.0" fill="#4a4a88"/>
<circle cx="121.40" cy="288.30" r="1.0" fill="#4a4a88"/>
<circle cx="126.90" cy="259.20" r="1.0" fill="#4a4a88"/>
<circle cx="126.90" cy="276.50" r="1.0" fill="#4a4a88"/>
<circle cx="126.90" cy="278.30" r="1.0" fill="#4a4a88"/>
<circle cx="126.90" cy="284.70" r="1.0" fill="#4a4a88"/>
<circle cx="126.90" cy="286.50" r="1.0" fill="#4a4a88"/>
<circle cx="132.40" cy="282.90" r="1.0" fill="#4a4a88"/>
<circle cx="132.40" cy="288.30" r="1.0" fill="#4a4a88"/>
<circle cx="137.80" cy="283.80" r="1.0" fill="#4a4a88"/>
<circle cx="137.80" cy="291.00" r="1.0" fill="#4a4a88"/>
<circle cx="137.80" cy="292.90" r="1.0" fill="#4a4a88"/>
<circle cx="143.30" cy="285.60" r="1.0" fill="#4a4a88"/>
<circle cx="148.80" cy="287.40" r="1.0" fill="#4a4a88"/>
<circle cx="148.80" cy="293.80" r="1.0" fill="#4a4a88"/>
<circle cx="153.30" cy="288.30" r="1.0" fill="#4a4a88"/>
<circle cx="157.90" cy="289.20" r="1.0" fill="#4a4a88"/>
<path d="M50.30,295.70 L50.70,295.70 L51.10,295.70 L51.50,295.70 L51.90,295.70 L52.30,295.70 L52.70,295.70 L53.10,295.70 L53.50,295.70 L53.90,295.70 L54.30,295.70 L54.70,295.70 L55.10,295.70 L55.50,295.70 L55.90,295.70 L56.30,295.70 L56.70,295.70 L57.10,295.70 L57.50,295.70 L57.90,295.70 L58.30,295.70 L58.70,295.70 L59.10,295.70 L59.50,295.70 L59.90,295.70 L60.30,295.70 L60.70,295.70 L61.10,295.70 L61.50,295.70 L61.90,295.70 L62.30,295.70 L62.70,295.70 L63.10,295.70 L63.50,295.70 L63.90,295.70 L64.30,295.70 L64.70,295.70 L65.10,295.69 L65.50,295.64 L65.90,295.52 L66.30,295.32 L66.70,295.05 L67.10,294.70 L67.50,294.28 L67.90,293.79 L68.30,293.25 L68.70,292.65 L69.10,292.00 L69.50,291.32 L69.90,290.60 L70.30,289.86 L70.70,289.09 L71.10,288.31 L71.50,287.52 L71.90,286.71 L72.30,285.90 L72.70,285.10 L73.10,284.29 L73.50,283.49 L73.90,282.69 L74.30,281.91 L74.70,281.14 L75.10,280.38 L75.50,279.63 L75.90,278.91 L76.30,278.20 L76.70,277.50 L77.10,276.83 L77.50,276.18 L77.90,275.54 L78.30,274.93 L78.70,274.34 L79.10,273.76 L79.50,273.21 L79.90,272.69 L80.30,272.18 L80.70,271.69 L81.10,271.23 L81.50,270.78 L81.90,270.36 L82.30,269.96 L82.70,269.58 L83.10,269.22 L83.50,268.87 L83.90,268.55 L84.30,268.25 L84.70,267.96 L85.10,267.70 L85.50,267.45 L85.90,267.22 L86.30,267.00 L86.70,266.81 L87.10,266.62 L87.50,266.46 L87.90,266.31 L88.30,266.17 L88.70,266.05 L89.10,265.95 L89.50,265.85 L89.90,265.77 L90.30,265.71 L90.70,265.65 L91.10,265.61 L91.50,265.58 L91.90,265.56 L92.30,265.55 L92.70,265.55 L93.10,265.56 L93.50,265.58 L93.90,265.61 L94.30,265.65 L94.70,265.70 L95.10,265.76 L95.50,265.82 L95.90,265.90 L96.30,265.98 L96.70,266.06 L97.10,266.16 L97.50,266.26 L97.90,266.36 L98.30,266.48 L98.70,266.59 L99.10,266.72 L99.50,266.85 L99.90,266.98 L100.30,267.12 L100.70,267.26 L101.10,267.41 L101.50,267.56 L101.90,267.71 L102.30,267.87 L102.70,268.03 L103.10,268.20 L103.50,268.37 L103.90,268.54 L104.30,268.71 L104.70,268.89 L105.10,269.06 L105.50,269.25 L105.90,269.43 L106.30,269.61 L106.70,269.80 L107.10,269.99 L107.50,270.18 L107.90,270.37 L108.30,270.56 L108.70,270.75 L109.10,270.95 L109.50,271.14 L109.90,271.34 L110.30,271.53 L110.70,271.73 L111.10,271.93 L111.50,272.13 L111.90,272.33 L112.30,272.52 L112.70,272.72 L113.10,272.92 L113.50,273.12 L113.90,273.32 L114.30,273.52 L114.70,273.72 L115.10,273.92 L115.50,274.11 L115.90,274.31 L116.30,274.51 L116.70,274.70 L117.10,274.90 L117.50,275.10 L117.90,275.29 L118.30,275.48 L118.70,275.68 L119.10,275.87 L119.50,276.06 L119.90,276.25 L120.30,276.44 L120.70,276.63 L121.10,276.82 L121.50,277.01 L121.90,277.19 L122.30,277.38 L122.70,277.56 L123.10,277.75 L123.50,277.93 L123.90,278.11 L124.30,278.29 L124.70,278.47 L125.10,278.65 L125.50,278.82 L125.90,279.00 L126.30,279.17 L126.70,279.34 L127.10,279.52 L127.50,279.69 L127.90,279.85 L128.30,280.02 L128.70,280.19 L129.10,280.35 L129.50,280.52 L129.90,280.68 L130.30,280.84 L130.70,281.00 L131.10,281.16 L131.50,281.32 L131.90,281.47 L132.30,281.63 L132.70,281.78 L133.10,281.93 L133.50,282.08 L133.90,282.23 L134.30,282.38 L134.70,282.53 L135.10,282.67 L135.50,282.82 L135.90,282.96 L136.30,283.10 L136.70,283.24 L137.10,283.38 L137.50,283.52 L137.90,283.65 L138.30,283.79 L138.70,283.92 L139.10,284.05 L139.50,284.18 L139.90,284.31 L140.30,284.44 L140.70,284.57 L141.10,284.69 L141.50,284.82 L141.90,284.94 L142.30,285.06 L142.70,285.18 L143.10,285.30 L143.50,285.42 L143.90,285.54 L144.30,285.66 L144.70,285.77 L145.10,285.88 L145.50,286.00 L145.90,286.11 L146.30,286.22 L146.70,286.33 L147.10,286.43 L147.50,286.54 L147.90,286.65 L148.30,286.75 L148.70,286.85 L149.10,286.96 L149.50,287.06 L149.90,287.16 L150.30,287.26 L150.70,287.35 L151.10,287.45 L151.50,287.55 L151.90,287.64 L152.30,287.73 L152.70,287.83 L153.10,287.92 L153.50,288.01 L153.90,288.10 L154.30,288.19 L154.70,288.27 L155.10,288.36 L155.50,288.45 L155.90,288.53 L156.30,288.62 L156.70,288.70 L157.10,288.78 L157.50,288.86 L157.90,288.94 L158.30,289.02 L158.70,289.10 L159.10,289.18 L159.50,289.25 L159.90,289.33" fill="none" stroke="#111" stroke-width="0.9" stroke-dasharray="0.8,1.1"/>
<path d="M50.30,295.70 L50.70,295.70 L51.10,295.70 L51.50,295.70 L51.90,295.70 L52.30,295.70 L52.70,295.70 L53.10,295.70 L53.50,295.70 L53.90,295.70 L54.30,295.70 L54.70,295.70 L55.10,295.70 L55.50,295.70 L55.90,295.70 L56.30,295.70 L56.70,295.70 L57.10,295.70 L57.50,295.70 L57.90,295.70 L58.30,295.70 L58.70,295.70 L59.10,295.70 L59.50,295.70 L59.90,295.70 L60.30,295.70 L60.70,295.70 L61.10,295.70 L61.50,295.70 L61.90,295.70 L62.30,295.70 L62.70,295.70 L63.10,295.70 L63.50,295.70 L63.90,295.70 L64.30,295.70 L64.70,295.70 L65.10,295.70 L65.50,295.70 L65.90,295.70 L66.30,295.70 L66.70,295.70 L67.10,295.70 L67.50,295.70 L67.90,295.70 L68.30,295.70 L68.70,295.70 L69.10,295.70 L69.50,295.70 L69.90,295.70 L70.30,295.70 L70.70,295.70 L71.10,295.68 L71.50,295.33 L71.90,294.73 L72.30,293.96 L72.70,293.06 L73.10,292.06 L73.50,290.99 L73.90,289.88 L74.30,288.73 L74.70,287.55 L75.10,286.36 L75.50,285.17 L75.90,283.98 L76.30,282.79 L76.70,281.62 L77.10,280.47 L77.50,279.34 L77.90,278.24 L78.30,277.16 L78.70,276.11 L79.10,275.09 L79.50,274.10 L79.90,273.14 L80.30,272.22 L80.70,271.33 L81.10,270.48 L81.50,269.66 L81.90,268.87 L82.30,268.12 L82.70,267.40 L83.10,266.72 L83.50,266.07 L83.90,265.45 L84.30,264.87 L84.70,264.32 L85.10,263.80 L85.50,263.31 L85.90,262.85 L86.30,262.42 L86.70,262.02 L87.10,261.65 L87.50,261.31 L87.90,260.99 L88.30,260.70 L88.70,260.43 L89.10,260.19 L89.50,259.98 L89.90,259.78 L90.30,259.61 L90.70,259.46 L91.10,259.34 L91.50,259.23 L91.90,259.14 L92.30,259.07 L92.70,259.02 L93.10,258.99 L93.50,258.97 L93.90,258.97 L94.30,258.99 L94.70,259.02 L95.10,259.07 L95.50,259.13 L95.90,259.20 L96.30,259.29 L96.70,259.39 L97.10,259.50 L97.50,259.62 L97.90,259.75 L98.30,259.90 L98.70,260.05 L99.10,260.21 L99.50,260.38 L99.90,260.56 L100.30,260.75 L100.70,260.94 L101.10,261.15 L101.50,261.36 L101.90,261.57 L102.30,261.79 L102.70,262.02 L103.10,262.25 L103.50,262.49 L103.90,262.74 L104.30,262.98 L104.70,263.23 L105.10,263.49 L105.50,263.75 L105.90,264.01 L106.30,264.28 L106.70,264.55 L107.10,264.82 L107.50,265.09 L107.90,265.37 L108.30,265.64 L108.70,265.92 L109.10,266.20 L109.50,266.49 L109.90,266.77 L110.30,267.05 L110.70,267.34 L111.10,267.62 L111.50,267.91 L111.90,268.20 L112.30,268.48 L112.70,268.77 L113.10,269.06 L113.50,269.34 L113.90,269.63 L114.30,269.91 L114.70,270.20 L115.10,270.48 L115.50,270.77 L115.90,271.05 L116.30,271.33 L116.70,271.61 L117.10,271.89 L117.50,272.17 L117.90,272.45 L118.30,272.72 L118.70,273.00 L119.10,273.27 L119.50,273.54 L119.90,273.81 L120.30,274.08 L120.70,274.35 L121.10,274.61 L121.50,274.87 L121.90,275.14 L122.30,275.39 L122.70,275.65 L123.10,275.91 L123.50,276.16 L123.90,276.41 L124.30,276.66 L124.70,276.91 L125.10,277.15 L125.50,277.39 L125.90,277.64 L126.30,277.87 L126.70,278.11 L127.10,278.34 L127.50,278.58 L127.90,278.81 L128.30,279.03 L128.70,279.26 L129.10,279.48 L129.50,279.70 L129.90,279.92 L130.30,280.14 L130.70,280.35 L131.10,280.56 L131.50,280.77 L131.90,280.98 L132.30,281.18 L132.70,281.39 L133.10,281.59 L133.50,281.79 L133.90,281.98 L134.30,282.18 L134.70,282.37 L135.10,282.56 L135.50,282.74 L135.90,282.93 L136.30,283.11 L136.70,283.29 L137.10,283.47 L137.50,283.65 L137.90,283.82 L138.30,283.99 L138.70,284.16 L139.10,284.33 L139.50,284.50 L139.90,284.66 L140.30,284.82 L140.70,284.98 L141.10,285.14 L141.50,285.30 L141.90,285.45 L142.30,285.60 L142.70,285.75 L143.10,285.90 L143.50,286.04 L143.90,286.19 L144.30,286.33 L144.70,286.47 L145.10,286.61 L145.50,286.74 L145.90,286.88 L146.30,287.01 L146.70,287.14 L147.10,287.27 L147.50,287.40 L147.90,287.53 L148.30,287.65 L148.70,287.77 L149.10,287.89 L149.50,288.01 L149.90,288.13 L150.30,288.24 L150.70,288.36 L151.10,288.47 L151.50,288.58 L151.90,288.69 L152.30,288.80 L152.70,288.90 L153.10,289.01 L153.50,289.11 L153.90,289.21 L154.30,289.31 L154.70,289.41 L155.10,289.51 L155.50,289.61 L155.90,289.70 L156.30,289.79 L156.70,289.89 L157.10,289.98 L157.50,290.07 L157.90,290.15 L158.30,290.24 L158.70,290.33 L159.10,290.41 L159.50,290.49 L159.90,290.58" fill="none" stroke="#111" stroke-width="1.2" stroke-dasharray="2.0,1.2"/>
<path d="M50.30,295.70 L50.70,295.70 L51.10,295.70 L51.50,295.70 L51.90,295.70 L52.30,295.70 L52.70,295.70 L53.10,295.70 L53.50,295.70 L53.90,295.70 L54.30,295.70 L54.70,295.70 L55.10,295.70 L55.50,295.70 L55.90,295.70 L56.30,295.70 L56.70,295.70 L57.10,295.70 L57.50,295.70 L57.90,295.70 L58.30,295.70 L58.70,295.70 L59.10,295.70 L59.50,295.70 L59.90,295.70 L60.30,295.70 L60.70,295.70 L61.10,295.70 L61.50,295.70 L61.90,295.70 L62.30,295.70 L62.70,295.70 L63.10,295.70 L63.50,295.70 L63.90,295.70 L64.30,295.70 L64.70,295.70 L65.10,295.70 L65.50,295.70 L65.90,295.70 L66.30,295.70 L66.70,295.70 L67.10,295.70 L67.50,295.70 L67.90,295.70 L68.30,295.70 L68.70,295.70 L69.10,295.70 L69.50,295.70 L69.90,295.70 L70.30,295.70 L70.70,295.70 L71.10,295.70 L71.50,295.70 L71.90,295.70 L72.30,295.69 L72.70,295.55 L73.10,295.21 L73.50,294.66 L73.90,293.91 L74.30,292.98 L74.70,291.88 L75.10,290.65 L75.50,289.29 L75.90,287.84 L76.30,286.30 L76.70,284.70 L77.10,283.04 L77.50,281.36 L77.90,279.65 L78.30,277.94 L78.70,276.22 L79.10,274.52 L79.50,272.84 L79.90,271.19 L80.30,269.57 L80.70,267.98 L81.10,266.45 L81.50,264.96 L81.90,263.52 L82.30,262.14 L82.70,260.81 L83.10,259.54 L83.50,258.34 L83.90,257.19 L84.30,256.10 L84.70,255.08 L85.10,254.11 L85.50,253.21 L85.90,252.37 L86.30,251.59 L86.70,250.86 L87.10,250.20 L87.50,249.59 L87.90,249.04 L88.30,248.54 L88.70,248.10 L89.10,247.71 L89.50,247.36 L89.90,247.07 L90.30,246.82 L90.70,246.62 L91.10,246.46 L91.50,246.34 L91.90,246.27 L92.30,246.23 L92.70,246.23 L93.10,246.26 L93.50,246.33 L93.90,246.43 L94.30,246.57 L94.70,246.73 L95.10,246.92 L95.50,247.13 L95.90,247.38 L96.30,247.64 L96.70,247.93 L97.10,248.24 L97.50,248.56 L97.90,248.91 L98.30,249.28 L98.70,249.66 L99.10,250.05 L99.50,250.46 L99.90,250.89 L100.30,251.32 L100.70,251.77 L101.10,252.22 L101.50,252.69 L101.90,253.16 L102.30,253.65 L102.70,254.14 L103.10,254.63 L103.50,255.13 L103.90,255.64 L104.30,256.15 L104.70,256.66 L105.10,257.18 L105.50,257.70 L105.90,258.22 L106.30,258.74 L106.70,259.26 L107.10,259.78 L107.50,260.31 L107.90,260.83 L108.30,261.35 L108.70,261.87 L109.10,262.39 L109.50,262.90 L109.90,263.42 L110.30,263.93 L110.70,264.44 L111.10,264.95 L111.50,265.45 L111.90,265.95 L112.30,266.44 L112.70,266.93 L113.10,267.42 L113.50,267.90 L113.90,268.38 L114.30,268.85 L114.70,269.32 L115.10,269.79 L115.50,270.25 L115.90,270.70 L116.30,271.15 L116.70,271.59 L117.10,272.03 L117.50,272.46 L117.90,272.89 L118.30,273.31 L118.70,273.73 L119.10,274.14 L119.50,274.55 L119.90,274.95 L120.30,275.34 L120.70,275.73 L121.10,276.11 L121.50,276.49 L121.90,276.86 L122.30,277.23 L122.70,277.59 L123.10,277.94 L123.50,278.29 L123.90,278.64 L124.30,278.97 L124.70,279.31 L125.10,279.63 L125.50,279.96 L125.90,280.27 L126.30,280.58 L126.70,280.89 L127.10,281.19 L127.50,281.49 L127.90,281.78 L128.30,282.06 L128.70,282.34 L129.10,282.62 L129.50,282.89 L129.90,283.15 L130.30,283.41 L130.70,283.67 L131.10,283.92 L131.50,284.17 L131.90,284.41 L132.30,284.65 L132.70,284.88 L133.10,285.11 L133.50,285.33 L133.90,285.55 L134.30,285.77 L134.70,285.98 L135.10,286.19 L135.50,286.39 L135.90,286.59 L136.30,286.79 L136.70,286.98 L137.10,287.17 L137.50,287.35 L137.90,287.53 L138.30,287.71 L138.70,287.88 L139.10,288.05 L139.50,288.22 L139.90,288.38 L140.30,288.54 L140.70,288.70 L141.10,288.85 L141.50,289.00 L141.90,289.15 L142.30,289.30 L142.70,289.44 L143.10,289.58 L143.50,289.71 L143.90,289.84 L144.30,289.97 L144.70,290.10 L145.10,290.23 L145.50,290.35 L145.90,290.47 L146.30,290.58 L146.70,290.70 L147.10,290.81 L147.50,290.92 L147.90,291.03 L148.30,291.13 L148.70,291.23 L149.10,291.33 L149.50,291.43 L149.90,291.53 L150.30,291.62 L150.70,291.71 L151.10,291.80 L151.50,291.89 L151.90,291.98 L152.30,292.06 L152.70,292.15 L153.10,292.23 L153.50,292.31 L153.90,292.38 L154.30,292.46 L154.70,292.53 L155.10,292.60 L155.50,292.67 L155.90,292.74 L156.30,292.81 L156.70,292.88 L157.10,292.94 L157.50,293.00 L157.90,293.07 L158.30,293.13 L158.70,293.19 L159.10,293.24 L159.50,293.30 L159.90,293.36" fill="none" stroke="#111" stroke-width="1.5"/>
<line x1="50.30" y1="221.10" x2="50.30" y2="301.70" stroke="#111" stroke-width="1.1"/>
<line x1="47.30" y1="295.70" x2="162.60" y2="295.70" stroke="#111" stroke-width="1.1"/>
<text x="140.90" y="228.60" font-size="6.6" stroke="#222" stroke-width="0.22" textLength="17.8" lengthAdjust="spacingAndGlyphs" fill="#222">Model</text>
<line x1="141.00" y1="234.60" x2="147.80" y2="234.60" stroke="#111" stroke-width="0.8" stroke-dasharray="0.8,1.2"/>
<line x1="141.00" y1="240.10" x2="147.80" y2="240.10" stroke="#111" stroke-width="1.0" stroke-dasharray="1.8,1.0"/>
<line x1="141.00" y1="246.70" x2="147.80" y2="246.70" stroke="#111" stroke-width="1.3"/>
<text x="151.90" y="236.65" font-size="5.8" stroke="#1e1e1e" stroke-width="0.22" fill="#1e1e1e">1</text>
<text x="151.90" y="242.15" font-size="5.8" stroke="#1e1e1e" stroke-width="0.22" fill="#1e1e1e">2</text>
<text x="151.90" y="248.75" font-size="5.8" stroke="#1e1e1e" stroke-width="0.22" fill="#1e1e1e">3</text>
<text transform="translate(190.20,258.40) rotate(-90)" x="0" y="0" font-size="8.8" stroke="#1e1e1e" stroke-width="0.22" text-anchor="middle" textLength="71.6" lengthAdjust="spacingAndGlyphs" fill="#1e1e1e">Blood residence time</text>
<text transform="translate(199.40,258.90) rotate(-90)" x="0" y="0" font-size="8.8" stroke="#1e1e1e" stroke-width="0.22" text-anchor="middle" textLength="21.0" lengthAdjust="spacingAndGlyphs" fill="#1e1e1e">(days)</text>
<line x1="211.90" y1="295.50" x2="215.20" y2="295.50" stroke="#111" stroke-width="1.0"/>
<text x="208.60" y="297.70" font-size="6.2" stroke="#1e1e1e" stroke-width="0.22" text-anchor="end" fill="#1e1e1e">0</text>
<line x1="211.90" y1="271.47" x2="215.20" y2="271.47" stroke="#111" stroke-width="1.0"/>
<text x="208.60" y="273.67" font-size="6.2" stroke="#1e1e1e" stroke-width="0.22" text-anchor="end" fill="#1e1e1e">1</text>
<line x1="211.90" y1="247.44" x2="215.20" y2="247.44" stroke="#111" stroke-width="1.0"/>
<text x="208.60" y="249.64" font-size="6.2" stroke="#1e1e1e" stroke-width="0.22" text-anchor="end" fill="#1e1e1e">2</text>
<line x1="211.90" y1="223.41" x2="215.20" y2="223.41" stroke="#111" stroke-width="1.0"/>
<text x="208.60" y="225.61" font-size="6.2" stroke="#1e1e1e" stroke-width="0.22" text-anchor="end" fill="#1e1e1e">3</text>
<line x1="215.20" y1="221.30" x2="215.20" y2="295.50" stroke="#111" stroke-width="1.1"/>
<line x1="215.20" y1="295.50" x2="300.00" y2="295.50" stroke="#111" stroke-width="1.1"/>
<line x1="221.90" y1="295.50" x2="221.90" y2="299.00" stroke="#111" stroke-width="1.0"/>
<text x="221.90" y="307.80" font-size="7.0" stroke="#1e1e1e" stroke-width="0.22" text-anchor="middle" textLength="9.6" lengthAdjust="spacingAndGlyphs" fill="#1e1e1e">CM</text>
<line x1="235.50" y1="295.50" x2="235.50" y2="299.00" stroke="#111" stroke-width="1.0"/>
<text x="235.50" y="307.80" font-size="7.0" stroke="#1e1e1e" stroke-width="0.22" text-anchor="middle" textLength="6.6" lengthAdjust="spacingAndGlyphs" fill="#1e1e1e">IM</text>
<line x1="249.20" y1="295.50" x2="249.20" y2="299.00" stroke="#111" stroke-width="1.0"/>
<text x="249.20" y="307.80" font-size="7.0" stroke="#1e1e1e" stroke-width="0.22" text-anchor="middle" textLength="14.7" lengthAdjust="spacingAndGlyphs" fill="#1e1e1e">NCM</text>
<line x1="267.60" y1="295.50" x2="267.60" y2="299.00" stroke="#111" stroke-width="1.0"/>
<text x="267.60" y="307.80" font-size="7.0" stroke="#1e1e1e" stroke-width="0.22" text-anchor="middle" textLength="9.6" lengthAdjust="spacingAndGlyphs" fill="#1e1e1e">CM</text>
<line x1="282.40" y1="295.50" x2="282.40" y2="299.00" stroke="#111" stroke-width="1.0"/>
<text x="282.40" y="307.80" font-size="7.0" stroke="#1e1e1e" stroke-width="0.22" text-anchor="middle" textLength="6.6" lengthAdjust="spacingAndGlyphs" fill="#1e1e1e">IM</text>
<line x1="297.30" y1="295.50" x2="297.30" y2="299.00" stroke="#111" stroke-width="1.0"/>
<text x="297.30" y="307.80" font-size="7.0" stroke="#1e1e1e" stroke-width="0.22" text-anchor="middle" textLength="14.7" lengthAdjust="spacingAndGlyphs" fill="#1e1e1e">NCM</text>
<text x="220.90" y="220.60" font-size="6.6" stroke="#1e1e1e" stroke-width="0.22" textLength="13.3" lengthAdjust="spacingAndGlyphs" fill="#1e1e1e">High</text>
<text x="235.60" y="220.60" font-size="6.6" stroke="#1e1e1e" stroke-width="0.22" font-style="italic" fill="#1e1e1e">ρ</text>
<text x="239.90" y="221.80" font-size="3.8" stroke="#1e1e1e" stroke-width="0.22" fill="#1e1e1e">m</text>
<text x="268.90" y="220.60" font-size="6.6" stroke="#1e1e1e" stroke-width="0.22" textLength="11.8" lengthAdjust="spacingAndGlyphs" fill="#1e1e1e">Low</text>
<text x="282.70" y="220.60" font-size="6.6" stroke="#1e1e1e" stroke-width="0.22" font-style="italic" fill="#1e1e1e">ρ</text>
<text x="287.10" y="221.80" font-size="3.8" stroke="#1e1e1e" stroke-width="0.22" fill="#1e1e1e">m</text>
<line x1="261.4" y1="223.3" x2="261.4" y2="295.5" stroke="#000" stroke-width="1.2" stroke-dasharray="1.1,1.0"/>
<circle cx="222.00" cy="235.91" r="1.0" fill="#3a9a45"/>
<circle cx="223.75" cy="234.24" r="1.0" fill="#3a9a45"/>
<circle cx="220.60" cy="234.14" r="1.0" fill="#3a9a45"/>
<circle cx="224.45" cy="236.42" r="1.0" fill="#3a9a45"/>
<circle cx="219.55" cy="236.48" r="1.0" fill="#3a9a45"/>
<circle cx="218.15" cy="233.63" r="1.0" fill="#3a9a45"/>
<circle cx="225.85" cy="233.50" r="1.0" fill="#3a9a45"/>
<circle cx="222.93" cy="233.43" r="1.0" fill="#3a9a45"/>
<circle cx="219.11" cy="233.35" r="1.0" fill="#3a9a45"/>
<circle cx="218.16" cy="237.12" r="1.0" fill="#3a9a45"/>
<circle cx="225.09" cy="232.94" r="1.0" fill="#3a9a45"/>
<circle cx="220.44" cy="232.48" r="1.0" fill="#3a9a45"/>
<circle cx="222.70" cy="238.06" r="1.0" fill="#3a9a45"/>
<circle cx="225.85" cy="231.96" r="1.0" fill="#3a9a45"/>
<circle cx="225.15" cy="238.53" r="1.0" fill="#3a9a45"/>
<circle cx="220.60" cy="238.80" r="1.0" fill="#3a9a45"/>
<circle cx="222.35" cy="231.07" r="1.0" fill="#3a9a45"/>
<circle cx="222.00" cy="241.38" r="1.0" fill="#3a9a45"/>
<circle cx="235.50" cy="272.95" r="1.0" fill="#dd4a2a"/>
<circle cx="237.95" cy="273.14" r="1.0" fill="#dd4a2a"/>
<circle cx="233.05" cy="273.38" r="1.0" fill="#dd4a2a"/>
<circle cx="233.60" cy="273.47" r="1.0" fill="#dd4a2a"/>
<circle cx="234.07" cy="272.34" r="1.0" fill="#dd4a2a"/>
<circle cx="231.30" cy="272.03" r="1.0" fill="#dd4a2a"/>
<circle cx="233.05" cy="274.21" r="1.0" fill="#dd4a2a"/>
<circle cx="239.70" cy="274.49" r="1.0" fill="#dd4a2a"/>
<circle cx="236.20" cy="270.80" r="1.0" fill="#dd4a2a"/>
<circle cx="238.65" cy="270.74" r="1.0" fill="#dd4a2a"/>
<circle cx="235.50" cy="275.79" r="1.0" fill="#dd4a2a"/>
<circle cx="234.10" cy="269.75" r="1.0" fill="#dd4a2a"/>
<circle cx="231.65" cy="269.68" r="1.0" fill="#dd4a2a"/>
<circle cx="231.61" cy="269.59" r="1.0" fill="#dd4a2a"/>
<circle cx="237.95" cy="276.41" r="1.0" fill="#dd4a2a"/>
<circle cx="234.45" cy="277.74" r="1.0" fill="#dd4a2a"/>
<circle cx="235.50" cy="267.41" r="1.0" fill="#dd4a2a"/>
<circle cx="236.55" cy="278.53" r="1.0" fill="#dd4a2a"/>
<circle cx="248.60" cy="242.49" r="1.0" fill="#2a2a8c"/>
<circle cx="250.00" cy="244.12" r="1.0" fill="#2a2a8c"/>
<circle cx="250.35" cy="241.31" r="1.0" fill="#2a2a8c"/>
<circle cx="246.85" cy="241.17" r="1.0" fill="#2a2a8c"/>
<circle cx="247.90" cy="244.68" r="1.0" fill="#2a2a8c"/>
<circle cx="252.45" cy="240.78" r="1.0" fill="#2a2a8c"/>
<circle cx="244.75" cy="240.70" r="1.0" fill="#2a2a8c"/>
<circle cx="246.15" cy="245.74" r="1.0" fill="#2a2a8c"/>
<circle cx="248.60" cy="239.33" r="1.0" fill="#2a2a8c"/>
<circle cx="250.70" cy="238.89" r="1.0" fill="#2a2a8c"/>
<circle cx="246.50" cy="238.61" r="1.0" fill="#2a2a8c"/>
<circle cx="252.80" cy="238.31" r="1.0" fill="#2a2a8c"/>
<circle cx="248.60" cy="247.44" r="1.0" fill="#2a2a8c"/>
<circle cx="244.40" cy="238.06" r="1.0" fill="#2a2a8c"/>
<circle cx="250.22" cy="238.03" r="1.0" fill="#2a2a8c"/>
<circle cx="250.00" cy="249.01" r="1.0" fill="#2a2a8c"/>
<circle cx="248.25" cy="250.08" r="1.0" fill="#2a2a8c"/>
<circle cx="250.00" cy="251.09" r="1.0" fill="#2a2a8c"/>
<circle cx="248.80" cy="254.00" r="1.0" fill="#2a2a8c"/>
<circle cx="267.20" cy="286.00" r="1.0" fill="#3a9a45"/>
<circle cx="268.60" cy="285.91" r="1.0" fill="#3a9a45"/>
<circle cx="265.80" cy="286.28" r="1.0" fill="#3a9a45"/>
<circle cx="270.00" cy="286.29" r="1.0" fill="#3a9a45"/>
<circle cx="264.40" cy="286.34" r="1.0" fill="#3a9a45"/>
<circle cx="271.40" cy="286.35" r="1.0" fill="#3a9a45"/>
<circle cx="263.00" cy="286.36" r="1.0" fill="#3a9a45"/>
<circle cx="268.09" cy="285.63" r="1.0" fill="#3a9a45"/>
<circle cx="265.27" cy="286.49" r="1.0" fill="#3a9a45"/>
<circle cx="264.42" cy="286.50" r="1.0" fill="#3a9a45"/>
<circle cx="269.19" cy="286.56" r="1.0" fill="#3a9a45"/>
<circle cx="271.92" cy="285.51" r="1.0" fill="#3a9a45"/>
<circle cx="270.70" cy="285.30" r="1.0" fill="#3a9a45"/>
<circle cx="265.10" cy="285.25" r="1.0" fill="#3a9a45"/>
<circle cx="281.00" cy="272.84" r="1.0" fill="#dd4a2a"/>
<circle cx="282.75" cy="272.56" r="1.0" fill="#dd4a2a"/>
<circle cx="279.25" cy="272.20" r="1.0" fill="#dd4a2a"/>
<circle cx="278.20" cy="273.72" r="1.0" fill="#dd4a2a"/>
<circle cx="284.50" cy="271.90" r="1.0" fill="#dd4a2a"/>
<circle cx="277.50" cy="271.57" r="1.0" fill="#dd4a2a"/>
<circle cx="278.89" cy="271.46" r="1.0" fill="#dd4a2a"/>
<circle cx="283.29" cy="271.31" r="1.0" fill="#dd4a2a"/>
<circle cx="285.15" cy="271.26" r="1.0" fill="#dd4a2a"/>
<circle cx="281.70" cy="274.46" r="1.0" fill="#dd4a2a"/>
<circle cx="279.95" cy="274.48" r="1.0" fill="#dd4a2a"/>
<circle cx="283.45" cy="274.57" r="1.0" fill="#dd4a2a"/>
<circle cx="281.00" cy="270.13" r="1.0" fill="#dd4a2a"/>
<circle cx="282.56" cy="270.12" r="1.0" fill="#dd4a2a"/>
<circle cx="278.55" cy="275.56" r="1.0" fill="#dd4a2a"/>
<circle cx="281.00" cy="276.91" r="1.0" fill="#dd4a2a"/>
<circle cx="294.80" cy="242.50" r="1.0" fill="#2a2a8c"/>
<circle cx="296.90" cy="242.47" r="1.0" fill="#2a2a8c"/>
<circle cx="292.70" cy="242.14" r="1.0" fill="#2a2a8c"/>
<circle cx="291.30" cy="243.72" r="1.0" fill="#2a2a8c"/>
<circle cx="293.40" cy="244.14" r="1.0" fill="#2a2a8c"/>
<circle cx="295.50" cy="240.55" r="1.0" fill="#2a2a8c"/>
<circle cx="295.50" cy="244.52" r="1.0" fill="#2a2a8c"/>
<circle cx="297.60" cy="240.43" r="1.0" fill="#2a2a8c"/>
<circle cx="293.40" cy="240.26" r="1.0" fill="#2a2a8c"/>
<circle cx="297.60" cy="245.37" r="1.0" fill="#2a2a8c"/>
<circle cx="290.25" cy="245.55" r="1.0" fill="#2a2a8c"/>
<circle cx="291.30" cy="239.31" r="1.0" fill="#2a2a8c"/>
<circle cx="299.35" cy="239.23" r="1.0" fill="#2a2a8c"/>
<circle cx="294.10" cy="246.06" r="1.0" fill="#2a2a8c"/>
<circle cx="295.85" cy="247.26" r="1.0" fill="#2a2a8c"/>
<circle cx="294.80" cy="236.74" r="1.0" fill="#2a2a8c"/>
<circle cx="294.80" cy="250.12" r="1.0" fill="#2a2a8c"/>
<circle cx="294.80" cy="234.62" r="1.0" fill="#2a2a8c"/>
<text transform="translate(330.80,258.20) rotate(-90)" x="0" y="0" font-size="8.8" stroke="#1e1e1e" stroke-width="0.22" text-anchor="middle" textLength="41.9" lengthAdjust="spacingAndGlyphs" fill="#1e1e1e">Delay (days)</text>
<line x1="341.70" y1="295.40" x2="345.00" y2="295.40" stroke="#111" stroke-width="1.0"/>
<text x="338.80" y="297.60" font-size="6.2" stroke="#1e1e1e" stroke-width="0.22" text-anchor="end" fill="#1e1e1e">0</text>
<line x1="341.70" y1="281.00" x2="345.00" y2="281.00" stroke="#111" stroke-width="1.0"/>
<text x="338.80" y="283.20" font-size="6.2" stroke="#1e1e1e" stroke-width="0.22" text-anchor="end" fill="#1e1e1e">1</text>
<line x1="341.70" y1="266.60" x2="345.00" y2="266.60" stroke="#111" stroke-width="1.0"/>
<text x="338.80" y="268.80" font-size="6.2" stroke="#1e1e1e" stroke-width="0.22" text-anchor="end" fill="#1e1e1e">2</text>
<line x1="341.70" y1="252.20" x2="345.00" y2="252.20" stroke="#111" stroke-width="1.0"/>
<text x="338.80" y="254.40" font-size="6.2" stroke="#1e1e1e" stroke-width="0.22" text-anchor="end" fill="#1e1e1e">3</text>
<line x1="341.70" y1="237.80" x2="345.00" y2="237.80" stroke="#111" stroke-width="1.0"/>
<text x="338.80" y="240.00" font-size="6.2" stroke="#1e1e1e" stroke-width="0.22" text-anchor="end" fill="#1e1e1e">4</text>
<line x1="341.70" y1="223.40" x2="345.00" y2="223.40" stroke="#111" stroke-width="1.0"/>
<text x="338.80" y="225.60" font-size="6.2" stroke="#1e1e1e" stroke-width="0.22" text-anchor="end" fill="#1e1e1e">5</text>
<line x1="345.00" y1="221.30" x2="345.00" y2="295.40" stroke="#111" stroke-width="1.1"/>
<line x1="345.00" y1="295.40" x2="401.70" y2="295.40" stroke="#111" stroke-width="1.1"/>
<text x="349.00" y="220.60" font-size="6.6" stroke="#1e1e1e" stroke-width="0.22" textLength="13.3" lengthAdjust="spacingAndGlyphs" fill="#1e1e1e">High</text>
<text x="363.70" y="220.60" font-size="6.6" stroke="#1e1e1e" stroke-width="0.22" font-style="italic" fill="#1e1e1e">ρ</text>
<text x="368.00" y="221.80" font-size="3.8" stroke="#1e1e1e" stroke-width="0.22" fill="#1e1e1e">m</text>
<text x="375.20" y="220.60" font-size="6.6" stroke="#1e1e1e" stroke-width="0.22" textLength="11.8" lengthAdjust="spacingAndGlyphs" fill="#1e1e1e">Low</text>
<text x="389.00" y="220.60" font-size="6.6" stroke="#1e1e1e" stroke-width="0.22" font-style="italic" fill="#1e1e1e">ρ</text>
<text x="393.40" y="221.80" font-size="3.8" stroke="#1e1e1e" stroke-width="0.22" fill="#1e1e1e">m</text>
<line x1="374.0" y1="223.5" x2="374.0" y2="295.4" stroke="#000" stroke-width="1.2" stroke-dasharray="1.1,1.0"/>
<line x1="351.70" y1="295.40" x2="351.70" y2="298.90" stroke="#111" stroke-width="1.0"/>
<text x="350.80" y="307.30" font-size="7.0" stroke="#1e1e1e" stroke-width="0.22" text-anchor="middle" textLength="4.6" lengthAdjust="spacingAndGlyphs" fill="#1e1e1e">Δ</text>
<text x="354.20" y="309.60" font-size="4.4" stroke="#1e1e1e" stroke-width="0.22" fill="#1e1e1e">1</text>
<line x1="365.10" y1="295.40" x2="365.10" y2="298.90" stroke="#111" stroke-width="1.0"/>
<text x="364.20" y="307.30" font-size="7.0" stroke="#1e1e1e" stroke-width="0.22" text-anchor="middle" textLength="4.6" lengthAdjust="spacingAndGlyphs" fill="#1e1e1e">Δ</text>
<text x="367.60" y="309.60" font-size="4.4" stroke="#1e1e1e" stroke-width="0.22" fill="#1e1e1e">2</text>
<line x1="382.60" y1="295.40" x2="382.60" y2="298.90" stroke="#111" stroke-width="1.0"/>
<text x="381.70" y="307.30" font-size="7.0" stroke="#1e1e1e" stroke-width="0.22" text-anchor="middle" textLength="4.6" lengthAdjust="spacingAndGlyphs" fill="#1e1e1e">Δ</text>
<text x="385.10" y="309.60" font-size="4.4" stroke="#1e1e1e" stroke-width="0.22" fill="#1e1e1e">1</text>
<line x1="396.00" y1="295.40" x2="396.00" y2="298.90" stroke="#111" stroke-width="1.0"/>
<text x="395.10" y="307.30" font-size="7.0" stroke="#1e1e1e" stroke-width="0.22" text-anchor="middle" textLength="4.6" lengthAdjust="spacingAndGlyphs" fill="#1e1e1e">Δ</text>
<text x="398.50" y="309.60" font-size="4.4" stroke="#1e1e1e" stroke-width="0.22" fill="#1e1e1e">2</text>
<circle cx="351.90" cy="266.85" r="1.2" fill="#6a6a6a"/>
<circle cx="353.65" cy="267.02" r="1.2" fill="#6a6a6a"/>
<circle cx="350.15" cy="266.55" r="1.2" fill="#6a6a6a"/>
<circle cx="355.40" cy="266.51" r="1.2" fill="#6a6a6a"/>
<circle cx="348.40" cy="266.39" r="1.2" fill="#6a6a6a"/>
<circle cx="356.12" cy="267.38" r="1.2" fill="#6a6a6a"/>
<circle cx="351.75" cy="267.44" r="1.2" fill="#6a6a6a"/>
<circle cx="352.59" cy="267.47" r="1.2" fill="#6a6a6a"/>
<circle cx="355.27" cy="266.01" r="1.2" fill="#6a6a6a"/>
<circle cx="348.98" cy="265.88" r="1.2" fill="#6a6a6a"/>
<circle cx="350.15" cy="268.57" r="1.2" fill="#6a6a6a"/>
<circle cx="351.90" cy="264.47" r="1.2" fill="#6a6a6a"/>
<circle cx="351.90" cy="269.14" r="1.2" fill="#6a6a6a"/>
<circle cx="353.65" cy="264.41" r="1.2" fill="#6a6a6a"/>
<circle cx="350.15" cy="264.27" r="1.2" fill="#6a6a6a"/>
<circle cx="353.65" cy="269.48" r="1.2" fill="#6a6a6a"/>
<circle cx="355.40" cy="264.05" r="1.2" fill="#6a6a6a"/>
<circle cx="350.50" cy="270.34" r="1.2" fill="#6a6a6a"/>
<circle cx="382.40" cy="263.96" r="1.2" fill="#6a6a6a"/>
<circle cx="384.15" cy="263.81" r="1.2" fill="#6a6a6a"/>
<circle cx="380.65" cy="264.08" r="1.2" fill="#6a6a6a"/>
<circle cx="385.90" cy="263.63" r="1.2" fill="#6a6a6a"/>
<circle cx="378.90" cy="264.46" r="1.2" fill="#6a6a6a"/>
<circle cx="381.85" cy="263.35" r="1.2" fill="#6a6a6a"/>
<circle cx="384.85" cy="263.34" r="1.2" fill="#6a6a6a"/>
<circle cx="385.71" cy="263.19" r="1.2" fill="#6a6a6a"/>
<circle cx="385.44" cy="263.00" r="1.2" fill="#6a6a6a"/>
<circle cx="381.48" cy="262.86" r="1.2" fill="#6a6a6a"/>
<circle cx="383.06" cy="265.13" r="1.2" fill="#6a6a6a"/>
<circle cx="381.70" cy="266.22" r="1.2" fill="#6a6a6a"/>
<circle cx="382.40" cy="261.15" r="1.2" fill="#6a6a6a"/>
<circle cx="383.45" cy="266.97" r="1.2" fill="#6a6a6a"/>
<circle cx="379.95" cy="267.05" r="1.2" fill="#6a6a6a"/>
<circle cx="384.15" cy="260.51" r="1.2" fill="#6a6a6a"/>
<circle cx="381.00" cy="259.95" r="1.2" fill="#6a6a6a"/>
<circle cx="382.05" cy="268.23" r="1.2" fill="#6a6a6a"/>
<circle cx="364.72" cy="240.00" r="1.15" fill="#6a6a6a"/>
<circle cx="364.25" cy="244.20" r="1.15" fill="#6a6a6a"/>
<circle cx="365.19" cy="259.20" r="1.15" fill="#6a6a6a"/>
<circle cx="366.08" cy="261.80" r="1.15" fill="#6a6a6a"/>
<circle cx="366.11" cy="263.50" r="1.15" fill="#6a6a6a"/>
<circle cx="365.75" cy="265.10" r="1.15" fill="#6a6a6a"/>
<circle cx="366.37" cy="266.80" r="1.15" fill="#6a6a6a"/>
<circle cx="364.62" cy="268.40" r="1.15" fill="#6a6a6a"/>
<circle cx="364.34" cy="270.20" r="1.15" fill="#6a6a6a"/>
<circle cx="365.07" cy="273.50" r="1.15" fill="#6a6a6a"/>
<circle cx="364.62" cy="276.00" r="1.15" fill="#6a6a6a"/>
<circle cx="364.46" cy="278.60" r="1.15" fill="#6a6a6a"/>
<circle cx="364.98" cy="280.30" r="1.15" fill="#6a6a6a"/>
<circle cx="365.53" cy="282.00" r="1.15" fill="#6a6a6a"/>
<circle cx="365.18" cy="283.60" r="1.15" fill="#6a6a6a"/>
<circle cx="364.72" cy="274.80" r="1.15" fill="#6a6a6a"/>
<circle cx="397.48" cy="240.90" r="1.15" fill="#6a6a6a"/>
<circle cx="397.85" cy="246.70" r="1.15" fill="#6a6a6a"/>
<circle cx="396.48" cy="260.90" r="1.15" fill="#6a6a6a"/>
<circle cx="395.49" cy="263.50" r="1.15" fill="#6a6a6a"/>
<circle cx="395.38" cy="265.00" r="1.15" fill="#6a6a6a"/>
<circle cx="397.57" cy="266.50" r="1.15" fill="#6a6a6a"/>
<circle cx="395.41" cy="269.00" r="1.15" fill="#6a6a6a"/>
<circle cx="397.14" cy="270.80" r="1.15" fill="#6a6a6a"/>
<circle cx="396.78" cy="274.00" r="1.15" fill="#6a6a6a"/>
<circle cx="396.10" cy="275.00" r="1.15" fill="#6a6a6a"/>
<circle cx="397.36" cy="278.00" r="1.15" fill="#6a6a6a"/>
<circle cx="395.35" cy="279.60" r="1.15" fill="#6a6a6a"/>
<circle cx="395.65" cy="281.00" r="1.15" fill="#6a6a6a"/>
<circle cx="396.48" cy="283.00" r="1.15" fill="#6a6a6a"/>
<circle cx="395.36" cy="285.20" r="1.15" fill="#6a6a6a"/>
<circle cx="397.46" cy="276.50" r="1.15" fill="#6a6a6a"/>
<line x1="361.00" y1="271.35" x2="369.80" y2="271.35" stroke="#111" stroke-width="1.0"/>
<line x1="392.00" y1="272.36" x2="401.20" y2="272.36" stroke="#111" stroke-width="1.0"/>
<text transform="translate(431.80,258.40) rotate(-90)" x="0" y="0" font-size="8.8" stroke="#1e1e1e" stroke-width="0.22" text-anchor="middle" textLength="80.5" lengthAdjust="spacingAndGlyphs" fill="#1e1e1e">Differentiating cells (%)</text>
<line x1="453.60" y1="223.30" x2="453.60" y2="256.40" stroke="#111" stroke-width="1.1"/>
<line x1="453.60" y1="262.10" x2="453.60" y2="279.40" stroke="#111" stroke-width="1.1"/>
<line x1="453.60" y1="284.30" x2="453.60" y2="295.50" stroke="#111" stroke-width="1.1"/>
<line x1="451.40" y1="256.40" x2="455.80" y2="256.40" stroke="#111" stroke-width="1.0"/>
<line x1="451.40" y1="262.10" x2="455.80" y2="262.10" stroke="#111" stroke-width="1.0"/>
<line x1="451.40" y1="279.40" x2="455.80" y2="279.40" stroke="#111" stroke-width="1.0"/>
<line x1="451.40" y1="284.30" x2="455.80" y2="284.30" stroke="#111" stroke-width="1.0"/>
<line x1="450.30" y1="223.40" x2="453.60" y2="223.40" stroke="#111" stroke-width="1.0"/>
<text x="447.80" y="225.50" font-size="6.0" stroke="#1e1e1e" stroke-width="0.22" text-anchor="end" fill="#1e1e1e">140</text>
<line x1="450.30" y1="239.50" x2="453.60" y2="239.50" stroke="#111" stroke-width="1.0"/>
<text x="447.80" y="241.60" font-size="6.0" stroke="#1e1e1e" stroke-width="0.22" text-anchor="end" fill="#1e1e1e">100</text>
<line x1="450.30" y1="256.40" x2="453.60" y2="256.40" stroke="#111" stroke-width="1.0"/>
<text x="447.80" y="258.50" font-size="6.0" stroke="#1e1e1e" stroke-width="0.22" text-anchor="end" fill="#1e1e1e">60</text>
<line x1="450.30" y1="262.10" x2="453.60" y2="262.10" stroke="#111" stroke-width="1.0"/>
<text x="447.80" y="264.20" font-size="6.0" stroke="#1e1e1e" stroke-width="0.22" text-anchor="end" fill="#1e1e1e">15</text>
<line x1="450.30" y1="270.80" x2="453.60" y2="270.80" stroke="#111" stroke-width="1.0"/>
<text x="447.80" y="272.90" font-size="6.0" stroke="#1e1e1e" stroke-width="0.22" text-anchor="end" fill="#1e1e1e">10</text>
<line x1="450.30" y1="279.30" x2="453.60" y2="279.30" stroke="#111" stroke-width="1.0"/>
<text x="447.80" y="281.40" font-size="6.0" stroke="#1e1e1e" stroke-width="0.22" text-anchor="end" fill="#1e1e1e">5</text>
<line x1="450.30" y1="284.40" x2="453.60" y2="284.40" stroke="#111" stroke-width="1.0"/>
<text x="447.80" y="286.50" font-size="6.0" stroke="#1e1e1e" stroke-width="0.22" text-anchor="end" fill="#1e1e1e">2</text>
<line x1="450.30" y1="289.90" x2="453.60" y2="289.90" stroke="#111" stroke-width="1.0"/>
<text x="447.80" y="292.00" font-size="6.0" stroke="#1e1e1e" stroke-width="0.22" text-anchor="end" fill="#1e1e1e">1</text>
<line x1="450.30" y1="295.50" x2="453.60" y2="295.50" stroke="#111" stroke-width="1.0"/>
<text x="447.80" y="297.60" font-size="6.0" stroke="#1e1e1e" stroke-width="0.22" text-anchor="end" fill="#1e1e1e">0</text>
<line x1="450.60" y1="295.50" x2="511.50" y2="295.50" stroke="#111" stroke-width="1.1"/>
<text x="457.20" y="220.60" font-size="6.6" stroke="#1e1e1e" stroke-width="0.22" textLength="13.3" lengthAdjust="spacingAndGlyphs" fill="#1e1e1e">High</text>
<text x="471.90" y="220.60" font-size="6.6" stroke="#1e1e1e" stroke-width="0.22" font-style="italic" fill="#1e1e1e">ρ</text>
<text x="476.20" y="221.80" font-size="3.8" stroke="#1e1e1e" stroke-width="0.22" fill="#1e1e1e">m</text>
<text x="483.40" y="220.60" font-size="6.6" stroke="#1e1e1e" stroke-width="0.22" textLength="11.8" lengthAdjust="spacingAndGlyphs" fill="#1e1e1e">Low</text>
<text x="497.20" y="220.60" font-size="6.6" stroke="#1e1e1e" stroke-width="0.22" font-style="italic" fill="#1e1e1e">ρ</text>
<text x="501.60" y="221.80" font-size="3.8" stroke="#1e1e1e" stroke-width="0.22" fill="#1e1e1e">m</text>
<line x1="481.4" y1="223.7" x2="481.4" y2="295.5" stroke="#000" stroke-width="1.2" stroke-dasharray="1.1,1.0"/>
<line x1="460.00" y1="295.50" x2="460.00" y2="298.80" stroke="#111" stroke-width="1.0"/>
<line x1="473.20" y1="295.50" x2="473.20" y2="298.80" stroke="#111" stroke-width="1.0"/>
<line x1="490.60" y1="295.50" x2="490.60" y2="298.80" stroke="#111" stroke-width="1.0"/>
<line x1="503.90" y1="295.50" x2="503.90" y2="298.80" stroke="#111" stroke-width="1.0"/>
<text x="465.70" y="306.00" font-size="5.4" stroke="#333" stroke-width="0.22" text-anchor="middle" textLength="27.8" lengthAdjust="spacingAndGlyphs" fill="#333">CM—IM—NCM</text>
<text x="498.90" y="306.00" font-size="5.4" stroke="#333" stroke-width="0.22" text-anchor="middle" textLength="26.8" lengthAdjust="spacingAndGlyphs" fill="#333">CM—IM—NCM</text>
<circle cx="459.80" cy="270.45" r="1.15" fill="#555"/>
<circle cx="461.55" cy="270.17" r="1.15" fill="#555"/>
<circle cx="458.05" cy="269.99" r="1.15" fill="#555"/>
<circle cx="463.30" cy="269.56" r="1.15" fill="#555"/>
<circle cx="456.30" cy="269.41" r="1.15" fill="#555"/>
<circle cx="456.26" cy="269.26" r="1.15" fill="#555"/>
<circle cx="460.85" cy="271.92" r="1.15" fill="#555"/>
<circle cx="459.10" cy="272.13" r="1.15" fill="#555"/>
<circle cx="457.35" cy="272.45" r="1.15" fill="#555"/>
<circle cx="462.60" cy="272.61" r="1.15" fill="#555"/>
<circle cx="459.80" cy="268.20" r="1.15" fill="#555"/>
<circle cx="461.55" cy="267.89" r="1.15" fill="#555"/>
<circle cx="458.40" cy="267.01" r="1.15" fill="#555"/>
<circle cx="456.65" cy="266.97" r="1.15" fill="#555"/>
<circle cx="463.30" cy="266.95" r="1.15" fill="#555"/>
<circle cx="459.80" cy="274.69" r="1.15" fill="#555"/>
<circle cx="461.55" cy="274.77" r="1.15" fill="#555"/>
<circle cx="458.05" cy="275.07" r="1.15" fill="#555"/>
<circle cx="472.40" cy="241.97" r="1.15" fill="#555"/>
<circle cx="474.85" cy="241.83" r="1.15" fill="#555"/>
<circle cx="472.40" cy="245.17" r="1.15" fill="#555"/>
<circle cx="474.85" cy="245.27" r="1.15" fill="#555"/>
<circle cx="469.95" cy="245.37" r="1.15" fill="#555"/>
<circle cx="476.95" cy="246.04" r="1.15" fill="#555"/>
<circle cx="467.85" cy="246.21" r="1.15" fill="#555"/>
<circle cx="470.65" cy="240.28" r="1.15" fill="#555"/>
<circle cx="475.15" cy="247.06" r="1.15" fill="#555"/>
<circle cx="471.35" cy="247.19" r="1.15" fill="#555"/>
<circle cx="473.77" cy="247.41" r="1.15" fill="#555"/>
<circle cx="472.75" cy="239.26" r="1.15" fill="#555"/>
<circle cx="475.20" cy="238.98" r="1.15" fill="#555"/>
<circle cx="469.60" cy="248.62" r="1.15" fill="#555"/>
<circle cx="471.00" cy="237.63" r="1.15" fill="#555"/>
<circle cx="473.10" cy="236.81" r="1.15" fill="#555"/>
<circle cx="472.40" cy="250.51" r="1.15" fill="#555"/>
<circle cx="475.20" cy="235.99" r="1.15" fill="#555"/>
<circle cx="472.80" cy="229.60" r="1.0" fill="#555"/>
<circle cx="491.30" cy="284.88" r="1.15" fill="#555"/>
<circle cx="492.70" cy="284.79" r="1.15" fill="#555"/>
<circle cx="489.90" cy="285.02" r="1.15" fill="#555"/>
<circle cx="494.10" cy="285.04" r="1.15" fill="#555"/>
<circle cx="488.50" cy="284.69" r="1.15" fill="#555"/>
<circle cx="495.50" cy="284.67" r="1.15" fill="#555"/>
<circle cx="487.10" cy="284.60" r="1.15" fill="#555"/>
<circle cx="495.30" cy="284.59" r="1.15" fill="#555"/>
<circle cx="493.89" cy="284.28" r="1.15" fill="#555"/>
<circle cx="488.96" cy="284.25" r="1.15" fill="#555"/>
<circle cx="489.16" cy="284.01" r="1.15" fill="#555"/>
<circle cx="487.80" cy="285.82" r="1.15" fill="#555"/>
<circle cx="488.12" cy="283.90" r="1.15" fill="#555"/>
<circle cx="492.00" cy="283.69" r="1.15" fill="#555"/>
<circle cx="491.30" cy="286.95" r="1.15" fill="#555"/>
<circle cx="492.70" cy="287.23" r="1.15" fill="#555"/>
<circle cx="504.40" cy="248.81" r="1.15" fill="#555"/>
<circle cx="506.50" cy="247.88" r="1.15" fill="#555"/>
<circle cx="502.65" cy="247.48" r="1.15" fill="#555"/>
<circle cx="502.30" cy="249.70" r="1.15" fill="#555"/>
<circle cx="506.15" cy="250.14" r="1.15" fill="#555"/>
<circle cx="508.25" cy="250.22" r="1.15" fill="#555"/>
<circle cx="504.75" cy="246.43" r="1.15" fill="#555"/>
<circle cx="507.90" cy="246.25" r="1.15" fill="#555"/>
<circle cx="501.95" cy="245.49" r="1.15" fill="#555"/>
<circle cx="504.40" cy="251.42" r="1.15" fill="#555"/>
<circle cx="499.85" cy="245.02" r="1.15" fill="#555"/>
<circle cx="502.30" cy="252.09" r="1.15" fill="#555"/>
<circle cx="504.40" cy="244.08" r="1.15" fill="#555"/>
<circle cx="506.15" cy="252.71" r="1.15" fill="#555"/>
<circle cx="508.25" cy="252.89" r="1.15" fill="#555"/>
<circle cx="506.50" cy="243.68" r="1.15" fill="#555"/>
<circle cx="500.20" cy="253.17" r="1.15" fill="#555"/>
<circle cx="502.30" cy="243.04" r="1.15" fill="#555"/>
</svg></body></html>
